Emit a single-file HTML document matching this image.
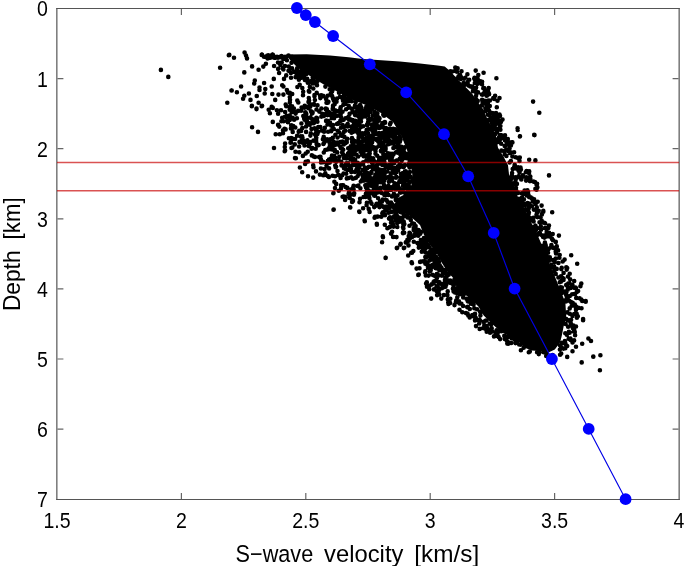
<!DOCTYPE html>
<html><head><meta charset="utf-8"><style>
html,body{margin:0;padding:0;background:#fff;width:685px;height:566px;overflow:hidden}
svg{display:block;will-change:transform}
text{font-family:"Liberation Sans",sans-serif;fill:#000}
</style></head><body>
<svg width="685" height="566" viewBox="0 0 685 566">
<g stroke="#555" fill="none">
<line x1="56.2" y1="8.5" x2="679.8" y2="8.5" stroke-width="1.1"/>
<line x1="56.2" y1="499.5" x2="679.8" y2="499.5" stroke-width="1.1"/>
<line x1="56.85" y1="8" x2="56.85" y2="500" stroke-width="1.2"/>
<line x1="679.15" y1="8" x2="679.15" y2="500" stroke-width="1.2"/>
<path d="M181.40,499 v-6 M181.40,9 v6 M305.80,499 v-6 M305.80,9 v6 M430.20,499 v-6 M430.20,9 v6 M554.60,499 v-6 M554.60,9 v6 M57.4,78.60 h6 M678.6,78.60 h-6 M57.4,148.70 h6 M678.6,148.70 h-6 M57.4,218.80 h6 M678.6,218.80 h-6 M57.4,288.90 h6 M678.6,288.90 h-6 M57.4,359.00 h6 M678.6,359.00 h-6 M57.4,429.10 h6 M678.6,429.10 h-6" stroke-width="1.2" stroke="#666"/>
</g>
<path d="M286.0,54.5 L306.7,54.2 L330.0,55.6 L348.7,57.3 L362.7,59.0 L400.0,61.5 L420.0,63.6 L437.7,65.4 L444.7,66.6 L450.0,71.0 L457.0,78.5 L465.0,86.5 L472.0,93.5 L477.5,101.6 L483.0,109.0 L487.5,119.2 L492.5,128.1 L496.0,136.0 L498.0,147.7 L503.5,156.5 L508.0,165.3 L509.2,176.0 L514.5,186.6 L518.0,197.2 L523.3,206.0 L528.6,216.6 L532.0,224.0 L535.6,230.6 L541.0,243.0 L546.3,255.3 L550.5,266.0 L555.6,278.3 L560.7,290.7 L565.4,303.1 L566.3,317.7 L563.6,326.5 L561.9,335.3 L560.1,342.4 L554.8,349.5 L549.5,352.1 L542.4,351.3 L531.8,350.4 L524.7,347.7 L517.7,340.7 L507.1,335.3 L500.0,331.0 L492.5,324.2 L483.7,315.4 L478.4,306.6 L471.3,299.5 L462.5,292.4 L457.2,281.8 L448.3,273.0 L441.3,262.0 L436.0,252.0 L430.0,245.0 L424.0,235.0 L420.0,225.0 L410.0,216.0 L400.0,211.0 L394.0,205.0 L398.0,198.0 L409.0,192.0 L413.0,180.0 L411.0,165.0 L407.0,150.0 L401.0,135.0 L393.0,122.0 L381.0,113.0 L366.0,105.0 L350.0,99.0 L338.0,92.0 L323.0,84.0 L310.0,76.0 L298.0,68.0 L290.0,60.0 Z" fill="#000"/>
<path d="M564.4,269.6a2.3,2.3 0 1,0 4.6,0a2.3,2.3 0 1,0 -4.6,0M393.4,129.4a2.3,2.3 0 1,0 4.6,0a2.3,2.3 0 1,0 -4.6,0M359.8,153.8a2.3,2.3 0 1,0 4.6,0a2.3,2.3 0 1,0 -4.6,0M352.6,149.0a2.3,2.3 0 1,0 4.6,0a2.3,2.3 0 1,0 -4.6,0M493.5,118.4a2.3,2.3 0 1,0 4.6,0a2.3,2.3 0 1,0 -4.6,0M310.6,78.2a2.3,2.3 0 1,0 4.6,0a2.3,2.3 0 1,0 -4.6,0M518.0,200.2a2.3,2.3 0 1,0 4.6,0a2.3,2.3 0 1,0 -4.6,0M534.8,352.2a2.3,2.3 0 1,0 4.6,0a2.3,2.3 0 1,0 -4.6,0M413.3,226.0a2.3,2.3 0 1,0 4.6,0a2.3,2.3 0 1,0 -4.6,0M350.6,178.7a2.3,2.3 0 1,0 4.6,0a2.3,2.3 0 1,0 -4.6,0M547.3,236.5a2.3,2.3 0 1,0 4.6,0a2.3,2.3 0 1,0 -4.6,0M382.6,146.3a2.3,2.3 0 1,0 4.6,0a2.3,2.3 0 1,0 -4.6,0M520.6,175.4a2.3,2.3 0 1,0 4.6,0a2.3,2.3 0 1,0 -4.6,0M436.0,259.6a2.3,2.3 0 1,0 4.6,0a2.3,2.3 0 1,0 -4.6,0M340.8,165.5a2.3,2.3 0 1,0 4.6,0a2.3,2.3 0 1,0 -4.6,0M345.4,124.1a2.3,2.3 0 1,0 4.6,0a2.3,2.3 0 1,0 -4.6,0M383.0,140.9a2.3,2.3 0 1,0 4.6,0a2.3,2.3 0 1,0 -4.6,0M397.1,181.5a2.3,2.3 0 1,0 4.6,0a2.3,2.3 0 1,0 -4.6,0M379.4,159.1a2.3,2.3 0 1,0 4.6,0a2.3,2.3 0 1,0 -4.6,0M380.3,181.6a2.3,2.3 0 1,0 4.6,0a2.3,2.3 0 1,0 -4.6,0M328.1,161.6a2.3,2.3 0 1,0 4.6,0a2.3,2.3 0 1,0 -4.6,0M418.5,232.5a2.3,2.3 0 1,0 4.6,0a2.3,2.3 0 1,0 -4.6,0M357.3,118.6a2.3,2.3 0 1,0 4.6,0a2.3,2.3 0 1,0 -4.6,0M496.2,120.1a2.3,2.3 0 1,0 4.6,0a2.3,2.3 0 1,0 -4.6,0M387.4,207.8a2.3,2.3 0 1,0 4.6,0a2.3,2.3 0 1,0 -4.6,0M389.1,219.7a2.3,2.3 0 1,0 4.6,0a2.3,2.3 0 1,0 -4.6,0M354.2,154.8a2.3,2.3 0 1,0 4.6,0a2.3,2.3 0 1,0 -4.6,0M454.5,293.0a2.3,2.3 0 1,0 4.6,0a2.3,2.3 0 1,0 -4.6,0M511.8,152.2a2.3,2.3 0 1,0 4.6,0a2.3,2.3 0 1,0 -4.6,0M444.6,276.1a2.3,2.3 0 1,0 4.6,0a2.3,2.3 0 1,0 -4.6,0M312.6,100.0a2.3,2.3 0 1,0 4.6,0a2.3,2.3 0 1,0 -4.6,0M491.1,129.5a2.3,2.3 0 1,0 4.6,0a2.3,2.3 0 1,0 -4.6,0M306.2,101.9a2.3,2.3 0 1,0 4.6,0a2.3,2.3 0 1,0 -4.6,0M324.5,120.8a2.3,2.3 0 1,0 4.6,0a2.3,2.3 0 1,0 -4.6,0M476.6,320.5a2.3,2.3 0 1,0 4.6,0a2.3,2.3 0 1,0 -4.6,0M561.3,278.5a2.3,2.3 0 1,0 4.6,0a2.3,2.3 0 1,0 -4.6,0M377.9,179.3a2.3,2.3 0 1,0 4.6,0a2.3,2.3 0 1,0 -4.6,0M346.2,107.7a2.3,2.3 0 1,0 4.6,0a2.3,2.3 0 1,0 -4.6,0M456.0,292.4a2.3,2.3 0 1,0 4.6,0a2.3,2.3 0 1,0 -4.6,0M289.6,68.6a2.3,2.3 0 1,0 4.6,0a2.3,2.3 0 1,0 -4.6,0M395.1,145.2a2.3,2.3 0 1,0 4.6,0a2.3,2.3 0 1,0 -4.6,0M293.2,151.7a2.3,2.3 0 1,0 4.6,0a2.3,2.3 0 1,0 -4.6,0M502.5,150.7a2.3,2.3 0 1,0 4.6,0a2.3,2.3 0 1,0 -4.6,0M461.0,294.4a2.3,2.3 0 1,0 4.6,0a2.3,2.3 0 1,0 -4.6,0M459.1,303.8a2.3,2.3 0 1,0 4.6,0a2.3,2.3 0 1,0 -4.6,0M519.7,197.8a2.3,2.3 0 1,0 4.6,0a2.3,2.3 0 1,0 -4.6,0M284.5,115.7a2.3,2.3 0 1,0 4.6,0a2.3,2.3 0 1,0 -4.6,0M563.9,285.0a2.3,2.3 0 1,0 4.6,0a2.3,2.3 0 1,0 -4.6,0M330.7,125.1a2.3,2.3 0 1,0 4.6,0a2.3,2.3 0 1,0 -4.6,0M282.2,128.7a2.3,2.3 0 1,0 4.6,0a2.3,2.3 0 1,0 -4.6,0M500.2,119.6a2.3,2.3 0 1,0 4.6,0a2.3,2.3 0 1,0 -4.6,0M429.2,267.4a2.3,2.3 0 1,0 4.6,0a2.3,2.3 0 1,0 -4.6,0M383.0,194.4a2.3,2.3 0 1,0 4.6,0a2.3,2.3 0 1,0 -4.6,0M403.8,176.6a2.3,2.3 0 1,0 4.6,0a2.3,2.3 0 1,0 -4.6,0M482.8,111.2a2.3,2.3 0 1,0 4.6,0a2.3,2.3 0 1,0 -4.6,0M386.0,138.8a2.3,2.3 0 1,0 4.6,0a2.3,2.3 0 1,0 -4.6,0M343.0,130.7a2.3,2.3 0 1,0 4.6,0a2.3,2.3 0 1,0 -4.6,0M332.4,149.8a2.3,2.3 0 1,0 4.6,0a2.3,2.3 0 1,0 -4.6,0M390.9,128.9a2.3,2.3 0 1,0 4.6,0a2.3,2.3 0 1,0 -4.6,0M387.8,160.5a2.3,2.3 0 1,0 4.6,0a2.3,2.3 0 1,0 -4.6,0M388.5,153.9a2.3,2.3 0 1,0 4.6,0a2.3,2.3 0 1,0 -4.6,0M362.8,116.5a2.3,2.3 0 1,0 4.6,0a2.3,2.3 0 1,0 -4.6,0M439.2,284.0a2.3,2.3 0 1,0 4.6,0a2.3,2.3 0 1,0 -4.6,0M347.4,197.9a2.3,2.3 0 1,0 4.6,0a2.3,2.3 0 1,0 -4.6,0M505.5,139.1a2.3,2.3 0 1,0 4.6,0a2.3,2.3 0 1,0 -4.6,0M396.6,133.0a2.3,2.3 0 1,0 4.6,0a2.3,2.3 0 1,0 -4.6,0M477.8,311.8a2.3,2.3 0 1,0 4.6,0a2.3,2.3 0 1,0 -4.6,0M367.3,211.9a2.3,2.3 0 1,0 4.6,0a2.3,2.3 0 1,0 -4.6,0M398.2,177.5a2.3,2.3 0 1,0 4.6,0a2.3,2.3 0 1,0 -4.6,0M367.2,148.5a2.3,2.3 0 1,0 4.6,0a2.3,2.3 0 1,0 -4.6,0M569.9,294.3a2.3,2.3 0 1,0 4.6,0a2.3,2.3 0 1,0 -4.6,0M513.6,168.4a2.3,2.3 0 1,0 4.6,0a2.3,2.3 0 1,0 -4.6,0M435.7,267.4a2.3,2.3 0 1,0 4.6,0a2.3,2.3 0 1,0 -4.6,0M401.4,221.5a2.3,2.3 0 1,0 4.6,0a2.3,2.3 0 1,0 -4.6,0M370.5,139.2a2.3,2.3 0 1,0 4.6,0a2.3,2.3 0 1,0 -4.6,0M385.5,130.5a2.3,2.3 0 1,0 4.6,0a2.3,2.3 0 1,0 -4.6,0M380.5,199.5a2.3,2.3 0 1,0 4.6,0a2.3,2.3 0 1,0 -4.6,0M567.1,283.0a2.3,2.3 0 1,0 4.6,0a2.3,2.3 0 1,0 -4.6,0M377.2,118.5a2.3,2.3 0 1,0 4.6,0a2.3,2.3 0 1,0 -4.6,0M400.8,185.4a2.3,2.3 0 1,0 4.6,0a2.3,2.3 0 1,0 -4.6,0M559.6,342.8a2.3,2.3 0 1,0 4.6,0a2.3,2.3 0 1,0 -4.6,0M400.2,157.8a2.3,2.3 0 1,0 4.6,0a2.3,2.3 0 1,0 -4.6,0M372.5,129.8a2.3,2.3 0 1,0 4.6,0a2.3,2.3 0 1,0 -4.6,0M363.6,185.1a2.3,2.3 0 1,0 4.6,0a2.3,2.3 0 1,0 -4.6,0M380.8,163.9a2.3,2.3 0 1,0 4.6,0a2.3,2.3 0 1,0 -4.6,0M358.0,117.7a2.3,2.3 0 1,0 4.6,0a2.3,2.3 0 1,0 -4.6,0M409.8,237.0a2.3,2.3 0 1,0 4.6,0a2.3,2.3 0 1,0 -4.6,0M537.2,222.3a2.3,2.3 0 1,0 4.6,0a2.3,2.3 0 1,0 -4.6,0M387.6,204.5a2.3,2.3 0 1,0 4.6,0a2.3,2.3 0 1,0 -4.6,0M307.5,143.7a2.3,2.3 0 1,0 4.6,0a2.3,2.3 0 1,0 -4.6,0M369.2,108.8a2.3,2.3 0 1,0 4.6,0a2.3,2.3 0 1,0 -4.6,0M371.6,188.1a2.3,2.3 0 1,0 4.6,0a2.3,2.3 0 1,0 -4.6,0M308.7,111.2a2.3,2.3 0 1,0 4.6,0a2.3,2.3 0 1,0 -4.6,0M452.3,283.7a2.3,2.3 0 1,0 4.6,0a2.3,2.3 0 1,0 -4.6,0M517.7,170.4a2.3,2.3 0 1,0 4.6,0a2.3,2.3 0 1,0 -4.6,0M390.8,224.7a2.3,2.3 0 1,0 4.6,0a2.3,2.3 0 1,0 -4.6,0M386.3,139.8a2.3,2.3 0 1,0 4.6,0a2.3,2.3 0 1,0 -4.6,0M361.2,147.1a2.3,2.3 0 1,0 4.6,0a2.3,2.3 0 1,0 -4.6,0M330.5,159.3a2.3,2.3 0 1,0 4.6,0a2.3,2.3 0 1,0 -4.6,0M491.7,336.4a2.3,2.3 0 1,0 4.6,0a2.3,2.3 0 1,0 -4.6,0M571.8,340.4a2.3,2.3 0 1,0 4.6,0a2.3,2.3 0 1,0 -4.6,0M288.2,142.7a2.3,2.3 0 1,0 4.6,0a2.3,2.3 0 1,0 -4.6,0M529.6,198.4a2.3,2.3 0 1,0 4.6,0a2.3,2.3 0 1,0 -4.6,0M371.9,131.9a2.3,2.3 0 1,0 4.6,0a2.3,2.3 0 1,0 -4.6,0M484.3,320.5a2.3,2.3 0 1,0 4.6,0a2.3,2.3 0 1,0 -4.6,0M395.2,195.5a2.3,2.3 0 1,0 4.6,0a2.3,2.3 0 1,0 -4.6,0M533.9,228.9a2.3,2.3 0 1,0 4.6,0a2.3,2.3 0 1,0 -4.6,0M332.7,176.2a2.3,2.3 0 1,0 4.6,0a2.3,2.3 0 1,0 -4.6,0M303.4,112.7a2.3,2.3 0 1,0 4.6,0a2.3,2.3 0 1,0 -4.6,0M413.1,227.1a2.3,2.3 0 1,0 4.6,0a2.3,2.3 0 1,0 -4.6,0M369.0,137.3a2.3,2.3 0 1,0 4.6,0a2.3,2.3 0 1,0 -4.6,0M472.5,79.5a2.3,2.3 0 1,0 4.6,0a2.3,2.3 0 1,0 -4.6,0M325.5,102.7a2.3,2.3 0 1,0 4.6,0a2.3,2.3 0 1,0 -4.6,0M380.8,151.0a2.3,2.3 0 1,0 4.6,0a2.3,2.3 0 1,0 -4.6,0M360.5,115.0a2.3,2.3 0 1,0 4.6,0a2.3,2.3 0 1,0 -4.6,0M374.1,192.1a2.3,2.3 0 1,0 4.6,0a2.3,2.3 0 1,0 -4.6,0M407.8,164.1a2.3,2.3 0 1,0 4.6,0a2.3,2.3 0 1,0 -4.6,0M354.1,169.7a2.3,2.3 0 1,0 4.6,0a2.3,2.3 0 1,0 -4.6,0M471.9,78.5a2.3,2.3 0 1,0 4.6,0a2.3,2.3 0 1,0 -4.6,0M339.2,165.5a2.3,2.3 0 1,0 4.6,0a2.3,2.3 0 1,0 -4.6,0M364.7,172.8a2.3,2.3 0 1,0 4.6,0a2.3,2.3 0 1,0 -4.6,0M329.7,155.5a2.3,2.3 0 1,0 4.6,0a2.3,2.3 0 1,0 -4.6,0M576.1,307.8a2.3,2.3 0 1,0 4.6,0a2.3,2.3 0 1,0 -4.6,0M331.5,129.0a2.3,2.3 0 1,0 4.6,0a2.3,2.3 0 1,0 -4.6,0M366.0,154.8a2.3,2.3 0 1,0 4.6,0a2.3,2.3 0 1,0 -4.6,0M456.1,286.0a2.3,2.3 0 1,0 4.6,0a2.3,2.3 0 1,0 -4.6,0M354.6,146.7a2.3,2.3 0 1,0 4.6,0a2.3,2.3 0 1,0 -4.6,0M460.9,297.4a2.3,2.3 0 1,0 4.6,0a2.3,2.3 0 1,0 -4.6,0M389.3,133.7a2.3,2.3 0 1,0 4.6,0a2.3,2.3 0 1,0 -4.6,0M359.7,134.6a2.3,2.3 0 1,0 4.6,0a2.3,2.3 0 1,0 -4.6,0M378.2,192.2a2.3,2.3 0 1,0 4.6,0a2.3,2.3 0 1,0 -4.6,0M546.0,228.0a2.3,2.3 0 1,0 4.6,0a2.3,2.3 0 1,0 -4.6,0M495.2,100.8a2.3,2.3 0 1,0 4.6,0a2.3,2.3 0 1,0 -4.6,0M321.9,142.8a2.3,2.3 0 1,0 4.6,0a2.3,2.3 0 1,0 -4.6,0M326.7,159.5a2.3,2.3 0 1,0 4.6,0a2.3,2.3 0 1,0 -4.6,0M518.6,350.3a2.3,2.3 0 1,0 4.6,0a2.3,2.3 0 1,0 -4.6,0M471.0,303.6a2.3,2.3 0 1,0 4.6,0a2.3,2.3 0 1,0 -4.6,0M359.7,115.3a2.3,2.3 0 1,0 4.6,0a2.3,2.3 0 1,0 -4.6,0M534.7,228.1a2.3,2.3 0 1,0 4.6,0a2.3,2.3 0 1,0 -4.6,0M381.6,136.1a2.3,2.3 0 1,0 4.6,0a2.3,2.3 0 1,0 -4.6,0M335.6,144.2a2.3,2.3 0 1,0 4.6,0a2.3,2.3 0 1,0 -4.6,0M484.4,331.8a2.3,2.3 0 1,0 4.6,0a2.3,2.3 0 1,0 -4.6,0M566.8,300.8a2.3,2.3 0 1,0 4.6,0a2.3,2.3 0 1,0 -4.6,0M557.1,257.8a2.3,2.3 0 1,0 4.6,0a2.3,2.3 0 1,0 -4.6,0M359.3,117.8a2.3,2.3 0 1,0 4.6,0a2.3,2.3 0 1,0 -4.6,0M347.4,131.0a2.3,2.3 0 1,0 4.6,0a2.3,2.3 0 1,0 -4.6,0M513.7,187.7a2.3,2.3 0 1,0 4.6,0a2.3,2.3 0 1,0 -4.6,0M435.4,286.5a2.3,2.3 0 1,0 4.6,0a2.3,2.3 0 1,0 -4.6,0M473.8,87.6a2.3,2.3 0 1,0 4.6,0a2.3,2.3 0 1,0 -4.6,0M393.8,152.3a2.3,2.3 0 1,0 4.6,0a2.3,2.3 0 1,0 -4.6,0M373.9,205.6a2.3,2.3 0 1,0 4.6,0a2.3,2.3 0 1,0 -4.6,0M393.9,147.1a2.3,2.3 0 1,0 4.6,0a2.3,2.3 0 1,0 -4.6,0M320.5,161.8a2.3,2.3 0 1,0 4.6,0a2.3,2.3 0 1,0 -4.6,0M498.1,126.0a2.3,2.3 0 1,0 4.6,0a2.3,2.3 0 1,0 -4.6,0M338.7,188.4a2.3,2.3 0 1,0 4.6,0a2.3,2.3 0 1,0 -4.6,0M513.9,340.1a2.3,2.3 0 1,0 4.6,0a2.3,2.3 0 1,0 -4.6,0M443.1,277.5a2.3,2.3 0 1,0 4.6,0a2.3,2.3 0 1,0 -4.6,0M311.6,104.6a2.3,2.3 0 1,0 4.6,0a2.3,2.3 0 1,0 -4.6,0M398.7,181.4a2.3,2.3 0 1,0 4.6,0a2.3,2.3 0 1,0 -4.6,0M308.1,135.6a2.3,2.3 0 1,0 4.6,0a2.3,2.3 0 1,0 -4.6,0M402.4,180.5a2.3,2.3 0 1,0 4.6,0a2.3,2.3 0 1,0 -4.6,0M375.6,118.2a2.3,2.3 0 1,0 4.6,0a2.3,2.3 0 1,0 -4.6,0M376.6,117.9a2.3,2.3 0 1,0 4.6,0a2.3,2.3 0 1,0 -4.6,0M543.4,245.3a2.3,2.3 0 1,0 4.6,0a2.3,2.3 0 1,0 -4.6,0M496.8,331.3a2.3,2.3 0 1,0 4.6,0a2.3,2.3 0 1,0 -4.6,0M551.4,248.0a2.3,2.3 0 1,0 4.6,0a2.3,2.3 0 1,0 -4.6,0M539.6,214.4a2.3,2.3 0 1,0 4.6,0a2.3,2.3 0 1,0 -4.6,0M334.7,124.0a2.3,2.3 0 1,0 4.6,0a2.3,2.3 0 1,0 -4.6,0M322.5,127.9a2.3,2.3 0 1,0 4.6,0a2.3,2.3 0 1,0 -4.6,0M513.1,181.8a2.3,2.3 0 1,0 4.6,0a2.3,2.3 0 1,0 -4.6,0M314.0,137.8a2.3,2.3 0 1,0 4.6,0a2.3,2.3 0 1,0 -4.6,0M301.0,140.9a2.3,2.3 0 1,0 4.6,0a2.3,2.3 0 1,0 -4.6,0M386.4,212.7a2.3,2.3 0 1,0 4.6,0a2.3,2.3 0 1,0 -4.6,0M442.0,272.1a2.3,2.3 0 1,0 4.6,0a2.3,2.3 0 1,0 -4.6,0M289.2,62.7a2.3,2.3 0 1,0 4.6,0a2.3,2.3 0 1,0 -4.6,0M496.6,121.6a2.3,2.3 0 1,0 4.6,0a2.3,2.3 0 1,0 -4.6,0M296.8,146.5a2.3,2.3 0 1,0 4.6,0a2.3,2.3 0 1,0 -4.6,0M328.5,115.1a2.3,2.3 0 1,0 4.6,0a2.3,2.3 0 1,0 -4.6,0M310.2,113.0a2.3,2.3 0 1,0 4.6,0a2.3,2.3 0 1,0 -4.6,0M335.0,115.8a2.3,2.3 0 1,0 4.6,0a2.3,2.3 0 1,0 -4.6,0M339.9,175.2a2.3,2.3 0 1,0 4.6,0a2.3,2.3 0 1,0 -4.6,0M343.3,143.1a2.3,2.3 0 1,0 4.6,0a2.3,2.3 0 1,0 -4.6,0M346.8,148.2a2.3,2.3 0 1,0 4.6,0a2.3,2.3 0 1,0 -4.6,0M381.2,182.0a2.3,2.3 0 1,0 4.6,0a2.3,2.3 0 1,0 -4.6,0M370.2,191.4a2.3,2.3 0 1,0 4.6,0a2.3,2.3 0 1,0 -4.6,0M408.0,166.9a2.3,2.3 0 1,0 4.6,0a2.3,2.3 0 1,0 -4.6,0M286.6,138.3a2.3,2.3 0 1,0 4.6,0a2.3,2.3 0 1,0 -4.6,0M559.4,267.9a2.3,2.3 0 1,0 4.6,0a2.3,2.3 0 1,0 -4.6,0M358.5,144.1a2.3,2.3 0 1,0 4.6,0a2.3,2.3 0 1,0 -4.6,0M365.1,189.0a2.3,2.3 0 1,0 4.6,0a2.3,2.3 0 1,0 -4.6,0M380.2,163.3a2.3,2.3 0 1,0 4.6,0a2.3,2.3 0 1,0 -4.6,0M353.1,141.4a2.3,2.3 0 1,0 4.6,0a2.3,2.3 0 1,0 -4.6,0M327.0,141.6a2.3,2.3 0 1,0 4.6,0a2.3,2.3 0 1,0 -4.6,0M434.5,274.1a2.3,2.3 0 1,0 4.6,0a2.3,2.3 0 1,0 -4.6,0M479.6,105.4a2.3,2.3 0 1,0 4.6,0a2.3,2.3 0 1,0 -4.6,0M370.3,131.0a2.3,2.3 0 1,0 4.6,0a2.3,2.3 0 1,0 -4.6,0M475.7,92.4a2.3,2.3 0 1,0 4.6,0a2.3,2.3 0 1,0 -4.6,0M311.7,104.1a2.3,2.3 0 1,0 4.6,0a2.3,2.3 0 1,0 -4.6,0M401.9,174.5a2.3,2.3 0 1,0 4.6,0a2.3,2.3 0 1,0 -4.6,0M312.2,96.2a2.3,2.3 0 1,0 4.6,0a2.3,2.3 0 1,0 -4.6,0M355.9,156.5a2.3,2.3 0 1,0 4.6,0a2.3,2.3 0 1,0 -4.6,0M313.4,148.8a2.3,2.3 0 1,0 4.6,0a2.3,2.3 0 1,0 -4.6,0M338.1,108.2a2.3,2.3 0 1,0 4.6,0a2.3,2.3 0 1,0 -4.6,0M481.0,88.3a2.3,2.3 0 1,0 4.6,0a2.3,2.3 0 1,0 -4.6,0M456.7,287.3a2.3,2.3 0 1,0 4.6,0a2.3,2.3 0 1,0 -4.6,0M329.8,96.0a2.3,2.3 0 1,0 4.6,0a2.3,2.3 0 1,0 -4.6,0M364.7,124.8a2.3,2.3 0 1,0 4.6,0a2.3,2.3 0 1,0 -4.6,0M330.9,117.3a2.3,2.3 0 1,0 4.6,0a2.3,2.3 0 1,0 -4.6,0M287.7,99.7a2.3,2.3 0 1,0 4.6,0a2.3,2.3 0 1,0 -4.6,0M509.5,338.2a2.3,2.3 0 1,0 4.6,0a2.3,2.3 0 1,0 -4.6,0M401.7,216.2a2.3,2.3 0 1,0 4.6,0a2.3,2.3 0 1,0 -4.6,0M369.9,137.0a2.3,2.3 0 1,0 4.6,0a2.3,2.3 0 1,0 -4.6,0M358.0,149.4a2.3,2.3 0 1,0 4.6,0a2.3,2.3 0 1,0 -4.6,0M525.3,203.0a2.3,2.3 0 1,0 4.6,0a2.3,2.3 0 1,0 -4.6,0M358.3,127.3a2.3,2.3 0 1,0 4.6,0a2.3,2.3 0 1,0 -4.6,0M365.0,150.2a2.3,2.3 0 1,0 4.6,0a2.3,2.3 0 1,0 -4.6,0M472.5,314.9a2.3,2.3 0 1,0 4.6,0a2.3,2.3 0 1,0 -4.6,0M404.7,175.9a2.3,2.3 0 1,0 4.6,0a2.3,2.3 0 1,0 -4.6,0M314.7,85.3a2.3,2.3 0 1,0 4.6,0a2.3,2.3 0 1,0 -4.6,0M407.2,225.8a2.3,2.3 0 1,0 4.6,0a2.3,2.3 0 1,0 -4.6,0M368.1,201.6a2.3,2.3 0 1,0 4.6,0a2.3,2.3 0 1,0 -4.6,0M465.6,307.5a2.3,2.3 0 1,0 4.6,0a2.3,2.3 0 1,0 -4.6,0M536.5,354.1a2.3,2.3 0 1,0 4.6,0a2.3,2.3 0 1,0 -4.6,0M398.8,221.4a2.3,2.3 0 1,0 4.6,0a2.3,2.3 0 1,0 -4.6,0M424.5,241.5a2.3,2.3 0 1,0 4.6,0a2.3,2.3 0 1,0 -4.6,0M502.2,151.7a2.3,2.3 0 1,0 4.6,0a2.3,2.3 0 1,0 -4.6,0M357.1,147.1a2.3,2.3 0 1,0 4.6,0a2.3,2.3 0 1,0 -4.6,0M559.4,290.3a2.3,2.3 0 1,0 4.6,0a2.3,2.3 0 1,0 -4.6,0M365.6,176.4a2.3,2.3 0 1,0 4.6,0a2.3,2.3 0 1,0 -4.6,0M386.0,185.8a2.3,2.3 0 1,0 4.6,0a2.3,2.3 0 1,0 -4.6,0M472.3,77.7a2.3,2.3 0 1,0 4.6,0a2.3,2.3 0 1,0 -4.6,0M434.0,261.0a2.3,2.3 0 1,0 4.6,0a2.3,2.3 0 1,0 -4.6,0M482.5,100.8a2.3,2.3 0 1,0 4.6,0a2.3,2.3 0 1,0 -4.6,0M367.6,150.5a2.3,2.3 0 1,0 4.6,0a2.3,2.3 0 1,0 -4.6,0M436.6,290.3a2.3,2.3 0 1,0 4.6,0a2.3,2.3 0 1,0 -4.6,0M563.0,333.2a2.3,2.3 0 1,0 4.6,0a2.3,2.3 0 1,0 -4.6,0M371.9,166.4a2.3,2.3 0 1,0 4.6,0a2.3,2.3 0 1,0 -4.6,0M351.4,146.6a2.3,2.3 0 1,0 4.6,0a2.3,2.3 0 1,0 -4.6,0M454.8,290.5a2.3,2.3 0 1,0 4.6,0a2.3,2.3 0 1,0 -4.6,0M480.2,101.7a2.3,2.3 0 1,0 4.6,0a2.3,2.3 0 1,0 -4.6,0M306.5,98.0a2.3,2.3 0 1,0 4.6,0a2.3,2.3 0 1,0 -4.6,0M365.8,136.5a2.3,2.3 0 1,0 4.6,0a2.3,2.3 0 1,0 -4.6,0M568.4,325.5a2.3,2.3 0 1,0 4.6,0a2.3,2.3 0 1,0 -4.6,0M426.9,267.6a2.3,2.3 0 1,0 4.6,0a2.3,2.3 0 1,0 -4.6,0M508.6,179.4a2.3,2.3 0 1,0 4.6,0a2.3,2.3 0 1,0 -4.6,0M383.2,147.4a2.3,2.3 0 1,0 4.6,0a2.3,2.3 0 1,0 -4.6,0M375.1,164.2a2.3,2.3 0 1,0 4.6,0a2.3,2.3 0 1,0 -4.6,0M400.7,165.5a2.3,2.3 0 1,0 4.6,0a2.3,2.3 0 1,0 -4.6,0M391.9,163.1a2.3,2.3 0 1,0 4.6,0a2.3,2.3 0 1,0 -4.6,0M310.0,148.3a2.3,2.3 0 1,0 4.6,0a2.3,2.3 0 1,0 -4.6,0M565.8,326.8a2.3,2.3 0 1,0 4.6,0a2.3,2.3 0 1,0 -4.6,0M564.0,345.4a2.3,2.3 0 1,0 4.6,0a2.3,2.3 0 1,0 -4.6,0M437.0,270.3a2.3,2.3 0 1,0 4.6,0a2.3,2.3 0 1,0 -4.6,0M407.3,166.3a2.3,2.3 0 1,0 4.6,0a2.3,2.3 0 1,0 -4.6,0M386.2,129.0a2.3,2.3 0 1,0 4.6,0a2.3,2.3 0 1,0 -4.6,0M489.4,328.2a2.3,2.3 0 1,0 4.6,0a2.3,2.3 0 1,0 -4.6,0M400.1,218.1a2.3,2.3 0 1,0 4.6,0a2.3,2.3 0 1,0 -4.6,0M544.5,248.0a2.3,2.3 0 1,0 4.6,0a2.3,2.3 0 1,0 -4.6,0M318.4,97.5a2.3,2.3 0 1,0 4.6,0a2.3,2.3 0 1,0 -4.6,0M411.5,241.7a2.3,2.3 0 1,0 4.6,0a2.3,2.3 0 1,0 -4.6,0M321.5,152.5a2.3,2.3 0 1,0 4.6,0a2.3,2.3 0 1,0 -4.6,0M285.6,122.3a2.3,2.3 0 1,0 4.6,0a2.3,2.3 0 1,0 -4.6,0M395.6,166.3a2.3,2.3 0 1,0 4.6,0a2.3,2.3 0 1,0 -4.6,0M340.6,135.9a2.3,2.3 0 1,0 4.6,0a2.3,2.3 0 1,0 -4.6,0M570.1,284.8a2.3,2.3 0 1,0 4.6,0a2.3,2.3 0 1,0 -4.6,0M379.2,125.1a2.3,2.3 0 1,0 4.6,0a2.3,2.3 0 1,0 -4.6,0M342.8,101.5a2.3,2.3 0 1,0 4.6,0a2.3,2.3 0 1,0 -4.6,0M363.3,108.9a2.3,2.3 0 1,0 4.6,0a2.3,2.3 0 1,0 -4.6,0M323.6,109.6a2.3,2.3 0 1,0 4.6,0a2.3,2.3 0 1,0 -4.6,0M375.5,117.4a2.3,2.3 0 1,0 4.6,0a2.3,2.3 0 1,0 -4.6,0M301.9,118.8a2.3,2.3 0 1,0 4.6,0a2.3,2.3 0 1,0 -4.6,0M510.4,169.1a2.3,2.3 0 1,0 4.6,0a2.3,2.3 0 1,0 -4.6,0M514.1,191.0a2.3,2.3 0 1,0 4.6,0a2.3,2.3 0 1,0 -4.6,0M469.3,301.5a2.3,2.3 0 1,0 4.6,0a2.3,2.3 0 1,0 -4.6,0M388.5,212.0a2.3,2.3 0 1,0 4.6,0a2.3,2.3 0 1,0 -4.6,0M378.0,182.3a2.3,2.3 0 1,0 4.6,0a2.3,2.3 0 1,0 -4.6,0M534.2,189.7a2.3,2.3 0 1,0 4.6,0a2.3,2.3 0 1,0 -4.6,0M295.8,110.9a2.3,2.3 0 1,0 4.6,0a2.3,2.3 0 1,0 -4.6,0M396.4,167.4a2.3,2.3 0 1,0 4.6,0a2.3,2.3 0 1,0 -4.6,0M557.7,345.3a2.3,2.3 0 1,0 4.6,0a2.3,2.3 0 1,0 -4.6,0M502.7,135.4a2.3,2.3 0 1,0 4.6,0a2.3,2.3 0 1,0 -4.6,0M519.2,202.0a2.3,2.3 0 1,0 4.6,0a2.3,2.3 0 1,0 -4.6,0M355.3,162.7a2.3,2.3 0 1,0 4.6,0a2.3,2.3 0 1,0 -4.6,0M421.9,238.2a2.3,2.3 0 1,0 4.6,0a2.3,2.3 0 1,0 -4.6,0M354.8,167.7a2.3,2.3 0 1,0 4.6,0a2.3,2.3 0 1,0 -4.6,0M379.1,175.8a2.3,2.3 0 1,0 4.6,0a2.3,2.3 0 1,0 -4.6,0M392.7,130.3a2.3,2.3 0 1,0 4.6,0a2.3,2.3 0 1,0 -4.6,0M306.5,91.1a2.3,2.3 0 1,0 4.6,0a2.3,2.3 0 1,0 -4.6,0M313.9,120.6a2.3,2.3 0 1,0 4.6,0a2.3,2.3 0 1,0 -4.6,0M320.3,115.8a2.3,2.3 0 1,0 4.6,0a2.3,2.3 0 1,0 -4.6,0M321.0,162.1a2.3,2.3 0 1,0 4.6,0a2.3,2.3 0 1,0 -4.6,0M533.1,188.9a2.3,2.3 0 1,0 4.6,0a2.3,2.3 0 1,0 -4.6,0M358.8,163.7a2.3,2.3 0 1,0 4.6,0a2.3,2.3 0 1,0 -4.6,0M502.6,140.2a2.3,2.3 0 1,0 4.6,0a2.3,2.3 0 1,0 -4.6,0M366.9,129.4a2.3,2.3 0 1,0 4.6,0a2.3,2.3 0 1,0 -4.6,0M360.2,148.2a2.3,2.3 0 1,0 4.6,0a2.3,2.3 0 1,0 -4.6,0M350.4,132.0a2.3,2.3 0 1,0 4.6,0a2.3,2.3 0 1,0 -4.6,0M537.5,232.8a2.3,2.3 0 1,0 4.6,0a2.3,2.3 0 1,0 -4.6,0M330.7,105.9a2.3,2.3 0 1,0 4.6,0a2.3,2.3 0 1,0 -4.6,0M356.6,174.1a2.3,2.3 0 1,0 4.6,0a2.3,2.3 0 1,0 -4.6,0M551.7,268.3a2.3,2.3 0 1,0 4.6,0a2.3,2.3 0 1,0 -4.6,0M349.9,130.1a2.3,2.3 0 1,0 4.6,0a2.3,2.3 0 1,0 -4.6,0M542.7,228.1a2.3,2.3 0 1,0 4.6,0a2.3,2.3 0 1,0 -4.6,0M535.2,217.1a2.3,2.3 0 1,0 4.6,0a2.3,2.3 0 1,0 -4.6,0M415.2,243.1a2.3,2.3 0 1,0 4.6,0a2.3,2.3 0 1,0 -4.6,0M360.0,152.9a2.3,2.3 0 1,0 4.6,0a2.3,2.3 0 1,0 -4.6,0M376.6,163.4a2.3,2.3 0 1,0 4.6,0a2.3,2.3 0 1,0 -4.6,0M389.2,133.5a2.3,2.3 0 1,0 4.6,0a2.3,2.3 0 1,0 -4.6,0M360.7,164.5a2.3,2.3 0 1,0 4.6,0a2.3,2.3 0 1,0 -4.6,0M574.4,313.9a2.3,2.3 0 1,0 4.6,0a2.3,2.3 0 1,0 -4.6,0M393.8,189.5a2.3,2.3 0 1,0 4.6,0a2.3,2.3 0 1,0 -4.6,0M486.8,110.8a2.3,2.3 0 1,0 4.6,0a2.3,2.3 0 1,0 -4.6,0M444.2,280.4a2.3,2.3 0 1,0 4.6,0a2.3,2.3 0 1,0 -4.6,0M516.7,198.8a2.3,2.3 0 1,0 4.6,0a2.3,2.3 0 1,0 -4.6,0M305.4,151.8a2.3,2.3 0 1,0 4.6,0a2.3,2.3 0 1,0 -4.6,0M508.9,343.0a2.3,2.3 0 1,0 4.6,0a2.3,2.3 0 1,0 -4.6,0M520.1,193.3a2.3,2.3 0 1,0 4.6,0a2.3,2.3 0 1,0 -4.6,0M322.9,140.4a2.3,2.3 0 1,0 4.6,0a2.3,2.3 0 1,0 -4.6,0M346.4,105.7a2.3,2.3 0 1,0 4.6,0a2.3,2.3 0 1,0 -4.6,0M427.9,252.0a2.3,2.3 0 1,0 4.6,0a2.3,2.3 0 1,0 -4.6,0M362.2,172.8a2.3,2.3 0 1,0 4.6,0a2.3,2.3 0 1,0 -4.6,0M382.4,173.3a2.3,2.3 0 1,0 4.6,0a2.3,2.3 0 1,0 -4.6,0M513.1,177.4a2.3,2.3 0 1,0 4.6,0a2.3,2.3 0 1,0 -4.6,0M402.1,182.8a2.3,2.3 0 1,0 4.6,0a2.3,2.3 0 1,0 -4.6,0M398.2,155.1a2.3,2.3 0 1,0 4.6,0a2.3,2.3 0 1,0 -4.6,0M390.8,236.9a2.3,2.3 0 1,0 4.6,0a2.3,2.3 0 1,0 -4.6,0M367.2,136.2a2.3,2.3 0 1,0 4.6,0a2.3,2.3 0 1,0 -4.6,0M319.1,95.4a2.3,2.3 0 1,0 4.6,0a2.3,2.3 0 1,0 -4.6,0M486.6,119.9a2.3,2.3 0 1,0 4.6,0a2.3,2.3 0 1,0 -4.6,0M319.1,116.6a2.3,2.3 0 1,0 4.6,0a2.3,2.3 0 1,0 -4.6,0M338.0,120.9a2.3,2.3 0 1,0 4.6,0a2.3,2.3 0 1,0 -4.6,0M523.8,209.2a2.3,2.3 0 1,0 4.6,0a2.3,2.3 0 1,0 -4.6,0M397.4,167.2a2.3,2.3 0 1,0 4.6,0a2.3,2.3 0 1,0 -4.6,0M399.2,159.6a2.3,2.3 0 1,0 4.6,0a2.3,2.3 0 1,0 -4.6,0M292.5,144.4a2.3,2.3 0 1,0 4.6,0a2.3,2.3 0 1,0 -4.6,0M399.4,218.1a2.3,2.3 0 1,0 4.6,0a2.3,2.3 0 1,0 -4.6,0M525.8,191.8a2.3,2.3 0 1,0 4.6,0a2.3,2.3 0 1,0 -4.6,0M402.5,153.4a2.3,2.3 0 1,0 4.6,0a2.3,2.3 0 1,0 -4.6,0M344.4,142.2a2.3,2.3 0 1,0 4.6,0a2.3,2.3 0 1,0 -4.6,0M314.0,133.5a2.3,2.3 0 1,0 4.6,0a2.3,2.3 0 1,0 -4.6,0M370.3,166.3a2.3,2.3 0 1,0 4.6,0a2.3,2.3 0 1,0 -4.6,0M448.1,71.4a2.3,2.3 0 1,0 4.6,0a2.3,2.3 0 1,0 -4.6,0M366.5,180.2a2.3,2.3 0 1,0 4.6,0a2.3,2.3 0 1,0 -4.6,0M352.9,107.3a2.3,2.3 0 1,0 4.6,0a2.3,2.3 0 1,0 -4.6,0M376.6,161.1a2.3,2.3 0 1,0 4.6,0a2.3,2.3 0 1,0 -4.6,0M488.7,117.3a2.3,2.3 0 1,0 4.6,0a2.3,2.3 0 1,0 -4.6,0M309.6,113.6a2.3,2.3 0 1,0 4.6,0a2.3,2.3 0 1,0 -4.6,0M453.9,300.5a2.3,2.3 0 1,0 4.6,0a2.3,2.3 0 1,0 -4.6,0M495.3,333.8a2.3,2.3 0 1,0 4.6,0a2.3,2.3 0 1,0 -4.6,0M525.3,203.8a2.3,2.3 0 1,0 4.6,0a2.3,2.3 0 1,0 -4.6,0M363.1,155.9a2.3,2.3 0 1,0 4.6,0a2.3,2.3 0 1,0 -4.6,0M443.8,285.0a2.3,2.3 0 1,0 4.6,0a2.3,2.3 0 1,0 -4.6,0M523.5,209.3a2.3,2.3 0 1,0 4.6,0a2.3,2.3 0 1,0 -4.6,0M299.3,107.6a2.3,2.3 0 1,0 4.6,0a2.3,2.3 0 1,0 -4.6,0M358.6,117.9a2.3,2.3 0 1,0 4.6,0a2.3,2.3 0 1,0 -4.6,0M500.2,138.0a2.3,2.3 0 1,0 4.6,0a2.3,2.3 0 1,0 -4.6,0M558.9,353.6a2.3,2.3 0 1,0 4.6,0a2.3,2.3 0 1,0 -4.6,0M567.4,308.4a2.3,2.3 0 1,0 4.6,0a2.3,2.3 0 1,0 -4.6,0M509.2,176.0a2.3,2.3 0 1,0 4.6,0a2.3,2.3 0 1,0 -4.6,0M402.0,178.9a2.3,2.3 0 1,0 4.6,0a2.3,2.3 0 1,0 -4.6,0M356.2,124.8a2.3,2.3 0 1,0 4.6,0a2.3,2.3 0 1,0 -4.6,0M343.4,169.0a2.3,2.3 0 1,0 4.6,0a2.3,2.3 0 1,0 -4.6,0M325.9,111.8a2.3,2.3 0 1,0 4.6,0a2.3,2.3 0 1,0 -4.6,0M315.1,133.9a2.3,2.3 0 1,0 4.6,0a2.3,2.3 0 1,0 -4.6,0M407.2,232.9a2.3,2.3 0 1,0 4.6,0a2.3,2.3 0 1,0 -4.6,0M554.5,246.4a2.3,2.3 0 1,0 4.6,0a2.3,2.3 0 1,0 -4.6,0M567.3,332.8a2.3,2.3 0 1,0 4.6,0a2.3,2.3 0 1,0 -4.6,0M312.2,95.0a2.3,2.3 0 1,0 4.6,0a2.3,2.3 0 1,0 -4.6,0M379.5,193.0a2.3,2.3 0 1,0 4.6,0a2.3,2.3 0 1,0 -4.6,0M377.1,137.9a2.3,2.3 0 1,0 4.6,0a2.3,2.3 0 1,0 -4.6,0M375.5,116.7a2.3,2.3 0 1,0 4.6,0a2.3,2.3 0 1,0 -4.6,0M314.9,118.2a2.3,2.3 0 1,0 4.6,0a2.3,2.3 0 1,0 -4.6,0M538.3,217.2a2.3,2.3 0 1,0 4.6,0a2.3,2.3 0 1,0 -4.6,0M465.4,300.9a2.3,2.3 0 1,0 4.6,0a2.3,2.3 0 1,0 -4.6,0M562.7,300.4a2.3,2.3 0 1,0 4.6,0a2.3,2.3 0 1,0 -4.6,0M393.7,177.8a2.3,2.3 0 1,0 4.6,0a2.3,2.3 0 1,0 -4.6,0M387.2,132.5a2.3,2.3 0 1,0 4.6,0a2.3,2.3 0 1,0 -4.6,0M574.6,292.0a2.3,2.3 0 1,0 4.6,0a2.3,2.3 0 1,0 -4.6,0M319.8,130.6a2.3,2.3 0 1,0 4.6,0a2.3,2.3 0 1,0 -4.6,0M381.1,154.6a2.3,2.3 0 1,0 4.6,0a2.3,2.3 0 1,0 -4.6,0M456.0,289.3a2.3,2.3 0 1,0 4.6,0a2.3,2.3 0 1,0 -4.6,0M412.8,233.6a2.3,2.3 0 1,0 4.6,0a2.3,2.3 0 1,0 -4.6,0M369.2,136.4a2.3,2.3 0 1,0 4.6,0a2.3,2.3 0 1,0 -4.6,0M392.3,208.4a2.3,2.3 0 1,0 4.6,0a2.3,2.3 0 1,0 -4.6,0M352.8,161.8a2.3,2.3 0 1,0 4.6,0a2.3,2.3 0 1,0 -4.6,0M484.4,326.4a2.3,2.3 0 1,0 4.6,0a2.3,2.3 0 1,0 -4.6,0M472.7,320.4a2.3,2.3 0 1,0 4.6,0a2.3,2.3 0 1,0 -4.6,0M411.4,230.0a2.3,2.3 0 1,0 4.6,0a2.3,2.3 0 1,0 -4.6,0M369.4,125.0a2.3,2.3 0 1,0 4.6,0a2.3,2.3 0 1,0 -4.6,0M338.6,116.9a2.3,2.3 0 1,0 4.6,0a2.3,2.3 0 1,0 -4.6,0M423.1,239.5a2.3,2.3 0 1,0 4.6,0a2.3,2.3 0 1,0 -4.6,0M371.4,184.7a2.3,2.3 0 1,0 4.6,0a2.3,2.3 0 1,0 -4.6,0M353.4,127.9a2.3,2.3 0 1,0 4.6,0a2.3,2.3 0 1,0 -4.6,0M299.1,123.5a2.3,2.3 0 1,0 4.6,0a2.3,2.3 0 1,0 -4.6,0M380.1,165.0a2.3,2.3 0 1,0 4.6,0a2.3,2.3 0 1,0 -4.6,0M346.4,178.0a2.3,2.3 0 1,0 4.6,0a2.3,2.3 0 1,0 -4.6,0M443.0,270.4a2.3,2.3 0 1,0 4.6,0a2.3,2.3 0 1,0 -4.6,0M534.2,214.7a2.3,2.3 0 1,0 4.6,0a2.3,2.3 0 1,0 -4.6,0M437.4,266.5a2.3,2.3 0 1,0 4.6,0a2.3,2.3 0 1,0 -4.6,0M307.5,124.7a2.3,2.3 0 1,0 4.6,0a2.3,2.3 0 1,0 -4.6,0M466.0,315.5a2.3,2.3 0 1,0 4.6,0a2.3,2.3 0 1,0 -4.6,0M392.4,183.3a2.3,2.3 0 1,0 4.6,0a2.3,2.3 0 1,0 -4.6,0M268.0,57.8a2.3,2.3 0 1,0 4.6,0a2.3,2.3 0 1,0 -4.6,0M315.1,121.7a2.3,2.3 0 1,0 4.6,0a2.3,2.3 0 1,0 -4.6,0M348.9,148.1a2.3,2.3 0 1,0 4.6,0a2.3,2.3 0 1,0 -4.6,0M398.2,211.5a2.3,2.3 0 1,0 4.6,0a2.3,2.3 0 1,0 -4.6,0M482.0,325.2a2.3,2.3 0 1,0 4.6,0a2.3,2.3 0 1,0 -4.6,0M366.8,183.9a2.3,2.3 0 1,0 4.6,0a2.3,2.3 0 1,0 -4.6,0M422.2,240.3a2.3,2.3 0 1,0 4.6,0a2.3,2.3 0 1,0 -4.6,0M400.0,173.2a2.3,2.3 0 1,0 4.6,0a2.3,2.3 0 1,0 -4.6,0M390.8,135.8a2.3,2.3 0 1,0 4.6,0a2.3,2.3 0 1,0 -4.6,0M365.9,133.7a2.3,2.3 0 1,0 4.6,0a2.3,2.3 0 1,0 -4.6,0M389.7,180.6a2.3,2.3 0 1,0 4.6,0a2.3,2.3 0 1,0 -4.6,0M373.2,153.7a2.3,2.3 0 1,0 4.6,0a2.3,2.3 0 1,0 -4.6,0M383.6,193.1a2.3,2.3 0 1,0 4.6,0a2.3,2.3 0 1,0 -4.6,0M364.7,137.4a2.3,2.3 0 1,0 4.6,0a2.3,2.3 0 1,0 -4.6,0M548.6,247.5a2.3,2.3 0 1,0 4.6,0a2.3,2.3 0 1,0 -4.6,0M358.1,188.3a2.3,2.3 0 1,0 4.6,0a2.3,2.3 0 1,0 -4.6,0M494.5,132.5a2.3,2.3 0 1,0 4.6,0a2.3,2.3 0 1,0 -4.6,0M452.6,283.4a2.3,2.3 0 1,0 4.6,0a2.3,2.3 0 1,0 -4.6,0M320.8,95.9a2.3,2.3 0 1,0 4.6,0a2.3,2.3 0 1,0 -4.6,0M387.4,143.2a2.3,2.3 0 1,0 4.6,0a2.3,2.3 0 1,0 -4.6,0M356.3,137.9a2.3,2.3 0 1,0 4.6,0a2.3,2.3 0 1,0 -4.6,0M321.8,131.8a2.3,2.3 0 1,0 4.6,0a2.3,2.3 0 1,0 -4.6,0M397.1,147.8a2.3,2.3 0 1,0 4.6,0a2.3,2.3 0 1,0 -4.6,0M365.4,180.8a2.3,2.3 0 1,0 4.6,0a2.3,2.3 0 1,0 -4.6,0M452.9,70.9a2.3,2.3 0 1,0 4.6,0a2.3,2.3 0 1,0 -4.6,0M495.3,142.1a2.3,2.3 0 1,0 4.6,0a2.3,2.3 0 1,0 -4.6,0M391.8,216.3a2.3,2.3 0 1,0 4.6,0a2.3,2.3 0 1,0 -4.6,0M423.2,248.6a2.3,2.3 0 1,0 4.6,0a2.3,2.3 0 1,0 -4.6,0M381.6,207.2a2.3,2.3 0 1,0 4.6,0a2.3,2.3 0 1,0 -4.6,0M502.0,335.9a2.3,2.3 0 1,0 4.6,0a2.3,2.3 0 1,0 -4.6,0M340.2,141.5a2.3,2.3 0 1,0 4.6,0a2.3,2.3 0 1,0 -4.6,0M382.3,214.6a2.3,2.3 0 1,0 4.6,0a2.3,2.3 0 1,0 -4.6,0M314.3,129.4a2.3,2.3 0 1,0 4.6,0a2.3,2.3 0 1,0 -4.6,0M364.8,141.7a2.3,2.3 0 1,0 4.6,0a2.3,2.3 0 1,0 -4.6,0M301.2,73.5a2.3,2.3 0 1,0 4.6,0a2.3,2.3 0 1,0 -4.6,0M370.5,130.5a2.3,2.3 0 1,0 4.6,0a2.3,2.3 0 1,0 -4.6,0M326.5,148.4a2.3,2.3 0 1,0 4.6,0a2.3,2.3 0 1,0 -4.6,0M405.5,192.0a2.3,2.3 0 1,0 4.6,0a2.3,2.3 0 1,0 -4.6,0M456.2,76.4a2.3,2.3 0 1,0 4.6,0a2.3,2.3 0 1,0 -4.6,0M346.5,100.9a2.3,2.3 0 1,0 4.6,0a2.3,2.3 0 1,0 -4.6,0M407.7,217.8a2.3,2.3 0 1,0 4.6,0a2.3,2.3 0 1,0 -4.6,0M406.5,186.3a2.3,2.3 0 1,0 4.6,0a2.3,2.3 0 1,0 -4.6,0M353.6,121.7a2.3,2.3 0 1,0 4.6,0a2.3,2.3 0 1,0 -4.6,0M339.8,152.5a2.3,2.3 0 1,0 4.6,0a2.3,2.3 0 1,0 -4.6,0M325.9,121.1a2.3,2.3 0 1,0 4.6,0a2.3,2.3 0 1,0 -4.6,0M439.6,275.6a2.3,2.3 0 1,0 4.6,0a2.3,2.3 0 1,0 -4.6,0M323.6,98.6a2.3,2.3 0 1,0 4.6,0a2.3,2.3 0 1,0 -4.6,0M356.0,142.9a2.3,2.3 0 1,0 4.6,0a2.3,2.3 0 1,0 -4.6,0M366.2,192.1a2.3,2.3 0 1,0 4.6,0a2.3,2.3 0 1,0 -4.6,0M470.6,91.2a2.3,2.3 0 1,0 4.6,0a2.3,2.3 0 1,0 -4.6,0M460.0,312.3a2.3,2.3 0 1,0 4.6,0a2.3,2.3 0 1,0 -4.6,0M375.6,172.6a2.3,2.3 0 1,0 4.6,0a2.3,2.3 0 1,0 -4.6,0M559.0,269.1a2.3,2.3 0 1,0 4.6,0a2.3,2.3 0 1,0 -4.6,0M559.5,293.1a2.3,2.3 0 1,0 4.6,0a2.3,2.3 0 1,0 -4.6,0M310.9,165.2a2.3,2.3 0 1,0 4.6,0a2.3,2.3 0 1,0 -4.6,0M384.9,129.9a2.3,2.3 0 1,0 4.6,0a2.3,2.3 0 1,0 -4.6,0M371.4,131.1a2.3,2.3 0 1,0 4.6,0a2.3,2.3 0 1,0 -4.6,0M353.0,146.6a2.3,2.3 0 1,0 4.6,0a2.3,2.3 0 1,0 -4.6,0M506.2,343.6a2.3,2.3 0 1,0 4.6,0a2.3,2.3 0 1,0 -4.6,0M347.4,99.1a2.3,2.3 0 1,0 4.6,0a2.3,2.3 0 1,0 -4.6,0M356.1,170.2a2.3,2.3 0 1,0 4.6,0a2.3,2.3 0 1,0 -4.6,0M332.5,151.3a2.3,2.3 0 1,0 4.6,0a2.3,2.3 0 1,0 -4.6,0M324.2,102.7a2.3,2.3 0 1,0 4.6,0a2.3,2.3 0 1,0 -4.6,0M447.9,280.5a2.3,2.3 0 1,0 4.6,0a2.3,2.3 0 1,0 -4.6,0M346.9,197.4a2.3,2.3 0 1,0 4.6,0a2.3,2.3 0 1,0 -4.6,0M373.8,147.9a2.3,2.3 0 1,0 4.6,0a2.3,2.3 0 1,0 -4.6,0M435.9,282.0a2.3,2.3 0 1,0 4.6,0a2.3,2.3 0 1,0 -4.6,0M555.8,250.4a2.3,2.3 0 1,0 4.6,0a2.3,2.3 0 1,0 -4.6,0M367.1,144.6a2.3,2.3 0 1,0 4.6,0a2.3,2.3 0 1,0 -4.6,0M356.7,141.2a2.3,2.3 0 1,0 4.6,0a2.3,2.3 0 1,0 -4.6,0M451.3,291.5a2.3,2.3 0 1,0 4.6,0a2.3,2.3 0 1,0 -4.6,0M352.6,171.9a2.3,2.3 0 1,0 4.6,0a2.3,2.3 0 1,0 -4.6,0M398.0,140.0a2.3,2.3 0 1,0 4.6,0a2.3,2.3 0 1,0 -4.6,0M325.1,114.3a2.3,2.3 0 1,0 4.6,0a2.3,2.3 0 1,0 -4.6,0M370.0,186.2a2.3,2.3 0 1,0 4.6,0a2.3,2.3 0 1,0 -4.6,0M400.1,159.5a2.3,2.3 0 1,0 4.6,0a2.3,2.3 0 1,0 -4.6,0M363.8,114.7a2.3,2.3 0 1,0 4.6,0a2.3,2.3 0 1,0 -4.6,0M497.7,115.7a2.3,2.3 0 1,0 4.6,0a2.3,2.3 0 1,0 -4.6,0M508.3,152.2a2.3,2.3 0 1,0 4.6,0a2.3,2.3 0 1,0 -4.6,0M325.8,131.8a2.3,2.3 0 1,0 4.6,0a2.3,2.3 0 1,0 -4.6,0M329.8,149.4a2.3,2.3 0 1,0 4.6,0a2.3,2.3 0 1,0 -4.6,0M355.4,176.1a2.3,2.3 0 1,0 4.6,0a2.3,2.3 0 1,0 -4.6,0M384.6,177.6a2.3,2.3 0 1,0 4.6,0a2.3,2.3 0 1,0 -4.6,0M392.8,216.5a2.3,2.3 0 1,0 4.6,0a2.3,2.3 0 1,0 -4.6,0M349.3,126.6a2.3,2.3 0 1,0 4.6,0a2.3,2.3 0 1,0 -4.6,0M318.7,162.5a2.3,2.3 0 1,0 4.6,0a2.3,2.3 0 1,0 -4.6,0M499.1,135.2a2.3,2.3 0 1,0 4.6,0a2.3,2.3 0 1,0 -4.6,0M382.1,188.0a2.3,2.3 0 1,0 4.6,0a2.3,2.3 0 1,0 -4.6,0M425.6,244.9a2.3,2.3 0 1,0 4.6,0a2.3,2.3 0 1,0 -4.6,0M366.0,106.9a2.3,2.3 0 1,0 4.6,0a2.3,2.3 0 1,0 -4.6,0M401.4,149.6a2.3,2.3 0 1,0 4.6,0a2.3,2.3 0 1,0 -4.6,0M300.0,128.1a2.3,2.3 0 1,0 4.6,0a2.3,2.3 0 1,0 -4.6,0M507.7,152.9a2.3,2.3 0 1,0 4.6,0a2.3,2.3 0 1,0 -4.6,0M396.1,131.0a2.3,2.3 0 1,0 4.6,0a2.3,2.3 0 1,0 -4.6,0M531.2,181.6a2.3,2.3 0 1,0 4.6,0a2.3,2.3 0 1,0 -4.6,0M363.8,110.2a2.3,2.3 0 1,0 4.6,0a2.3,2.3 0 1,0 -4.6,0M572.5,304.5a2.3,2.3 0 1,0 4.6,0a2.3,2.3 0 1,0 -4.6,0M352.1,151.8a2.3,2.3 0 1,0 4.6,0a2.3,2.3 0 1,0 -4.6,0M297.0,152.3a2.3,2.3 0 1,0 4.6,0a2.3,2.3 0 1,0 -4.6,0M529.6,206.3a2.3,2.3 0 1,0 4.6,0a2.3,2.3 0 1,0 -4.6,0M348.2,159.5a2.3,2.3 0 1,0 4.6,0a2.3,2.3 0 1,0 -4.6,0M466.6,85.8a2.3,2.3 0 1,0 4.6,0a2.3,2.3 0 1,0 -4.6,0M291.8,119.7a2.3,2.3 0 1,0 4.6,0a2.3,2.3 0 1,0 -4.6,0M334.2,161.6a2.3,2.3 0 1,0 4.6,0a2.3,2.3 0 1,0 -4.6,0M345.9,148.2a2.3,2.3 0 1,0 4.6,0a2.3,2.3 0 1,0 -4.6,0M324.5,163.1a2.3,2.3 0 1,0 4.6,0a2.3,2.3 0 1,0 -4.6,0M377.0,127.9a2.3,2.3 0 1,0 4.6,0a2.3,2.3 0 1,0 -4.6,0M415.2,235.3a2.3,2.3 0 1,0 4.6,0a2.3,2.3 0 1,0 -4.6,0M432.0,263.6a2.3,2.3 0 1,0 4.6,0a2.3,2.3 0 1,0 -4.6,0M301.1,74.0a2.3,2.3 0 1,0 4.6,0a2.3,2.3 0 1,0 -4.6,0M294.6,118.3a2.3,2.3 0 1,0 4.6,0a2.3,2.3 0 1,0 -4.6,0M296.6,79.7a2.3,2.3 0 1,0 4.6,0a2.3,2.3 0 1,0 -4.6,0M453.2,280.7a2.3,2.3 0 1,0 4.6,0a2.3,2.3 0 1,0 -4.6,0M279.4,62.6a2.3,2.3 0 1,0 4.6,0a2.3,2.3 0 1,0 -4.6,0M497.8,339.1a2.3,2.3 0 1,0 4.6,0a2.3,2.3 0 1,0 -4.6,0M472.0,308.2a2.3,2.3 0 1,0 4.6,0a2.3,2.3 0 1,0 -4.6,0M358.1,135.9a2.3,2.3 0 1,0 4.6,0a2.3,2.3 0 1,0 -4.6,0M344.6,125.2a2.3,2.3 0 1,0 4.6,0a2.3,2.3 0 1,0 -4.6,0M338.7,127.8a2.3,2.3 0 1,0 4.6,0a2.3,2.3 0 1,0 -4.6,0M336.1,144.6a2.3,2.3 0 1,0 4.6,0a2.3,2.3 0 1,0 -4.6,0M565.4,286.9a2.3,2.3 0 1,0 4.6,0a2.3,2.3 0 1,0 -4.6,0M361.6,180.6a2.3,2.3 0 1,0 4.6,0a2.3,2.3 0 1,0 -4.6,0M332.7,188.1a2.3,2.3 0 1,0 4.6,0a2.3,2.3 0 1,0 -4.6,0M332.3,104.3a2.3,2.3 0 1,0 4.6,0a2.3,2.3 0 1,0 -4.6,0M298.8,130.9a2.3,2.3 0 1,0 4.6,0a2.3,2.3 0 1,0 -4.6,0M573.9,297.9a2.3,2.3 0 1,0 4.6,0a2.3,2.3 0 1,0 -4.6,0M518.0,169.2a2.3,2.3 0 1,0 4.6,0a2.3,2.3 0 1,0 -4.6,0M382.9,178.1a2.3,2.3 0 1,0 4.6,0a2.3,2.3 0 1,0 -4.6,0M564.1,292.3a2.3,2.3 0 1,0 4.6,0a2.3,2.3 0 1,0 -4.6,0M384.7,189.4a2.3,2.3 0 1,0 4.6,0a2.3,2.3 0 1,0 -4.6,0M385.7,153.2a2.3,2.3 0 1,0 4.6,0a2.3,2.3 0 1,0 -4.6,0M360.4,153.7a2.3,2.3 0 1,0 4.6,0a2.3,2.3 0 1,0 -4.6,0M504.5,142.5a2.3,2.3 0 1,0 4.6,0a2.3,2.3 0 1,0 -4.6,0M397.8,180.6a2.3,2.3 0 1,0 4.6,0a2.3,2.3 0 1,0 -4.6,0M348.2,149.2a2.3,2.3 0 1,0 4.6,0a2.3,2.3 0 1,0 -4.6,0M293.3,77.1a2.3,2.3 0 1,0 4.6,0a2.3,2.3 0 1,0 -4.6,0M423.0,238.5a2.3,2.3 0 1,0 4.6,0a2.3,2.3 0 1,0 -4.6,0M550.3,267.5a2.3,2.3 0 1,0 4.6,0a2.3,2.3 0 1,0 -4.6,0M373.7,174.5a2.3,2.3 0 1,0 4.6,0a2.3,2.3 0 1,0 -4.6,0M380.1,144.2a2.3,2.3 0 1,0 4.6,0a2.3,2.3 0 1,0 -4.6,0M373.8,178.0a2.3,2.3 0 1,0 4.6,0a2.3,2.3 0 1,0 -4.6,0M519.6,202.5a2.3,2.3 0 1,0 4.6,0a2.3,2.3 0 1,0 -4.6,0M352.9,164.9a2.3,2.3 0 1,0 4.6,0a2.3,2.3 0 1,0 -4.6,0M434.4,262.8a2.3,2.3 0 1,0 4.6,0a2.3,2.3 0 1,0 -4.6,0M521.4,347.7a2.3,2.3 0 1,0 4.6,0a2.3,2.3 0 1,0 -4.6,0M397.8,137.8a2.3,2.3 0 1,0 4.6,0a2.3,2.3 0 1,0 -4.6,0M550.5,240.1a2.3,2.3 0 1,0 4.6,0a2.3,2.3 0 1,0 -4.6,0M445.5,299.4a2.3,2.3 0 1,0 4.6,0a2.3,2.3 0 1,0 -4.6,0M437.2,282.4a2.3,2.3 0 1,0 4.6,0a2.3,2.3 0 1,0 -4.6,0M427.4,252.0a2.3,2.3 0 1,0 4.6,0a2.3,2.3 0 1,0 -4.6,0M482.9,90.2a2.3,2.3 0 1,0 4.6,0a2.3,2.3 0 1,0 -4.6,0M344.6,139.1a2.3,2.3 0 1,0 4.6,0a2.3,2.3 0 1,0 -4.6,0M477.4,328.9a2.3,2.3 0 1,0 4.6,0a2.3,2.3 0 1,0 -4.6,0M321.4,136.9a2.3,2.3 0 1,0 4.6,0a2.3,2.3 0 1,0 -4.6,0M394.8,210.0a2.3,2.3 0 1,0 4.6,0a2.3,2.3 0 1,0 -4.6,0M467.4,298.5a2.3,2.3 0 1,0 4.6,0a2.3,2.3 0 1,0 -4.6,0M536.5,234.0a2.3,2.3 0 1,0 4.6,0a2.3,2.3 0 1,0 -4.6,0M431.3,282.0a2.3,2.3 0 1,0 4.6,0a2.3,2.3 0 1,0 -4.6,0M494.4,129.4a2.3,2.3 0 1,0 4.6,0a2.3,2.3 0 1,0 -4.6,0M381.2,159.5a2.3,2.3 0 1,0 4.6,0a2.3,2.3 0 1,0 -4.6,0M340.9,143.3a2.3,2.3 0 1,0 4.6,0a2.3,2.3 0 1,0 -4.6,0M357.6,141.8a2.3,2.3 0 1,0 4.6,0a2.3,2.3 0 1,0 -4.6,0M349.4,139.1a2.3,2.3 0 1,0 4.6,0a2.3,2.3 0 1,0 -4.6,0M347.6,166.4a2.3,2.3 0 1,0 4.6,0a2.3,2.3 0 1,0 -4.6,0M488.8,112.7a2.3,2.3 0 1,0 4.6,0a2.3,2.3 0 1,0 -4.6,0M378.8,126.8a2.3,2.3 0 1,0 4.6,0a2.3,2.3 0 1,0 -4.6,0M329.0,113.5a2.3,2.3 0 1,0 4.6,0a2.3,2.3 0 1,0 -4.6,0M534.4,211.2a2.3,2.3 0 1,0 4.6,0a2.3,2.3 0 1,0 -4.6,0M356.1,133.8a2.3,2.3 0 1,0 4.6,0a2.3,2.3 0 1,0 -4.6,0M378.2,158.1a2.3,2.3 0 1,0 4.6,0a2.3,2.3 0 1,0 -4.6,0M362.8,167.5a2.3,2.3 0 1,0 4.6,0a2.3,2.3 0 1,0 -4.6,0M303.8,131.9a2.3,2.3 0 1,0 4.6,0a2.3,2.3 0 1,0 -4.6,0M386.4,168.2a2.3,2.3 0 1,0 4.6,0a2.3,2.3 0 1,0 -4.6,0M475.5,83.7a2.3,2.3 0 1,0 4.6,0a2.3,2.3 0 1,0 -4.6,0M304.5,122.4a2.3,2.3 0 1,0 4.6,0a2.3,2.3 0 1,0 -4.6,0M364.0,109.4a2.3,2.3 0 1,0 4.6,0a2.3,2.3 0 1,0 -4.6,0M381.0,176.9a2.3,2.3 0 1,0 4.6,0a2.3,2.3 0 1,0 -4.6,0M442.6,280.1a2.3,2.3 0 1,0 4.6,0a2.3,2.3 0 1,0 -4.6,0M405.3,217.5a2.3,2.3 0 1,0 4.6,0a2.3,2.3 0 1,0 -4.6,0M366.0,122.0a2.3,2.3 0 1,0 4.6,0a2.3,2.3 0 1,0 -4.6,0M301.0,116.0a2.3,2.3 0 1,0 4.6,0a2.3,2.3 0 1,0 -4.6,0M418.0,233.8a2.3,2.3 0 1,0 4.6,0a2.3,2.3 0 1,0 -4.6,0M545.3,257.1a2.3,2.3 0 1,0 4.6,0a2.3,2.3 0 1,0 -4.6,0M400.4,173.3a2.3,2.3 0 1,0 4.6,0a2.3,2.3 0 1,0 -4.6,0M365.4,173.0a2.3,2.3 0 1,0 4.6,0a2.3,2.3 0 1,0 -4.6,0M383.3,210.3a2.3,2.3 0 1,0 4.6,0a2.3,2.3 0 1,0 -4.6,0M408.2,218.1a2.3,2.3 0 1,0 4.6,0a2.3,2.3 0 1,0 -4.6,0M391.6,207.3a2.3,2.3 0 1,0 4.6,0a2.3,2.3 0 1,0 -4.6,0M369.8,139.7a2.3,2.3 0 1,0 4.6,0a2.3,2.3 0 1,0 -4.6,0M360.8,138.7a2.3,2.3 0 1,0 4.6,0a2.3,2.3 0 1,0 -4.6,0M369.9,129.4a2.3,2.3 0 1,0 4.6,0a2.3,2.3 0 1,0 -4.6,0M345.5,126.5a2.3,2.3 0 1,0 4.6,0a2.3,2.3 0 1,0 -4.6,0M343.4,187.1a2.3,2.3 0 1,0 4.6,0a2.3,2.3 0 1,0 -4.6,0M380.9,179.0a2.3,2.3 0 1,0 4.6,0a2.3,2.3 0 1,0 -4.6,0M316.4,145.1a2.3,2.3 0 1,0 4.6,0a2.3,2.3 0 1,0 -4.6,0M370.8,159.3a2.3,2.3 0 1,0 4.6,0a2.3,2.3 0 1,0 -4.6,0M393.0,189.3a2.3,2.3 0 1,0 4.6,0a2.3,2.3 0 1,0 -4.6,0M325.3,149.5a2.3,2.3 0 1,0 4.6,0a2.3,2.3 0 1,0 -4.6,0M547.6,259.8a2.3,2.3 0 1,0 4.6,0a2.3,2.3 0 1,0 -4.6,0M383.9,165.1a2.3,2.3 0 1,0 4.6,0a2.3,2.3 0 1,0 -4.6,0M379.8,149.2a2.3,2.3 0 1,0 4.6,0a2.3,2.3 0 1,0 -4.6,0M344.5,178.4a2.3,2.3 0 1,0 4.6,0a2.3,2.3 0 1,0 -4.6,0M391.2,206.2a2.3,2.3 0 1,0 4.6,0a2.3,2.3 0 1,0 -4.6,0M553.4,273.9a2.3,2.3 0 1,0 4.6,0a2.3,2.3 0 1,0 -4.6,0M393.1,171.5a2.3,2.3 0 1,0 4.6,0a2.3,2.3 0 1,0 -4.6,0M524.1,177.2a2.3,2.3 0 1,0 4.6,0a2.3,2.3 0 1,0 -4.6,0M455.1,78.3a2.3,2.3 0 1,0 4.6,0a2.3,2.3 0 1,0 -4.6,0M349.2,132.7a2.3,2.3 0 1,0 4.6,0a2.3,2.3 0 1,0 -4.6,0M387.1,129.0a2.3,2.3 0 1,0 4.6,0a2.3,2.3 0 1,0 -4.6,0M546.5,260.8a2.3,2.3 0 1,0 4.6,0a2.3,2.3 0 1,0 -4.6,0M365.4,112.1a2.3,2.3 0 1,0 4.6,0a2.3,2.3 0 1,0 -4.6,0M348.4,146.4a2.3,2.3 0 1,0 4.6,0a2.3,2.3 0 1,0 -4.6,0M551.7,266.2a2.3,2.3 0 1,0 4.6,0a2.3,2.3 0 1,0 -4.6,0M305.6,117.7a2.3,2.3 0 1,0 4.6,0a2.3,2.3 0 1,0 -4.6,0M484.9,94.7a2.3,2.3 0 1,0 4.6,0a2.3,2.3 0 1,0 -4.6,0M375.8,198.2a2.3,2.3 0 1,0 4.6,0a2.3,2.3 0 1,0 -4.6,0M497.2,114.5a2.3,2.3 0 1,0 4.6,0a2.3,2.3 0 1,0 -4.6,0M424.7,286.7a2.3,2.3 0 1,0 4.6,0a2.3,2.3 0 1,0 -4.6,0M501.8,136.8a2.3,2.3 0 1,0 4.6,0a2.3,2.3 0 1,0 -4.6,0M394.4,171.9a2.3,2.3 0 1,0 4.6,0a2.3,2.3 0 1,0 -4.6,0M445.5,280.4a2.3,2.3 0 1,0 4.6,0a2.3,2.3 0 1,0 -4.6,0M408.2,176.9a2.3,2.3 0 1,0 4.6,0a2.3,2.3 0 1,0 -4.6,0M465.8,301.4a2.3,2.3 0 1,0 4.6,0a2.3,2.3 0 1,0 -4.6,0M369.7,119.4a2.3,2.3 0 1,0 4.6,0a2.3,2.3 0 1,0 -4.6,0M329.4,118.0a2.3,2.3 0 1,0 4.6,0a2.3,2.3 0 1,0 -4.6,0M361.7,134.4a2.3,2.3 0 1,0 4.6,0a2.3,2.3 0 1,0 -4.6,0M383.6,128.2a2.3,2.3 0 1,0 4.6,0a2.3,2.3 0 1,0 -4.6,0M326.6,177.0a2.3,2.3 0 1,0 4.6,0a2.3,2.3 0 1,0 -4.6,0M357.9,105.1a2.3,2.3 0 1,0 4.6,0a2.3,2.3 0 1,0 -4.6,0M393.8,220.0a2.3,2.3 0 1,0 4.6,0a2.3,2.3 0 1,0 -4.6,0M564.5,334.7a2.3,2.3 0 1,0 4.6,0a2.3,2.3 0 1,0 -4.6,0M406.2,217.2a2.3,2.3 0 1,0 4.6,0a2.3,2.3 0 1,0 -4.6,0M390.0,156.2a2.3,2.3 0 1,0 4.6,0a2.3,2.3 0 1,0 -4.6,0M306.4,145.9a2.3,2.3 0 1,0 4.6,0a2.3,2.3 0 1,0 -4.6,0M299.5,70.9a2.3,2.3 0 1,0 4.6,0a2.3,2.3 0 1,0 -4.6,0M345.0,187.9a2.3,2.3 0 1,0 4.6,0a2.3,2.3 0 1,0 -4.6,0M305.5,82.8a2.3,2.3 0 1,0 4.6,0a2.3,2.3 0 1,0 -4.6,0M386.7,218.6a2.3,2.3 0 1,0 4.6,0a2.3,2.3 0 1,0 -4.6,0M351.5,149.9a2.3,2.3 0 1,0 4.6,0a2.3,2.3 0 1,0 -4.6,0M307.8,117.6a2.3,2.3 0 1,0 4.6,0a2.3,2.3 0 1,0 -4.6,0M505.0,343.6a2.3,2.3 0 1,0 4.6,0a2.3,2.3 0 1,0 -4.6,0M402.9,193.1a2.3,2.3 0 1,0 4.6,0a2.3,2.3 0 1,0 -4.6,0M379.5,145.6a2.3,2.3 0 1,0 4.6,0a2.3,2.3 0 1,0 -4.6,0M296.3,77.8a2.3,2.3 0 1,0 4.6,0a2.3,2.3 0 1,0 -4.6,0M404.2,187.2a2.3,2.3 0 1,0 4.6,0a2.3,2.3 0 1,0 -4.6,0M352.9,120.9a2.3,2.3 0 1,0 4.6,0a2.3,2.3 0 1,0 -4.6,0M470.1,315.1a2.3,2.3 0 1,0 4.6,0a2.3,2.3 0 1,0 -4.6,0M382.8,122.7a2.3,2.3 0 1,0 4.6,0a2.3,2.3 0 1,0 -4.6,0M388.7,202.6a2.3,2.3 0 1,0 4.6,0a2.3,2.3 0 1,0 -4.6,0M426.9,265.8a2.3,2.3 0 1,0 4.6,0a2.3,2.3 0 1,0 -4.6,0M573.1,287.6a2.3,2.3 0 1,0 4.6,0a2.3,2.3 0 1,0 -4.6,0M381.0,114.8a2.3,2.3 0 1,0 4.6,0a2.3,2.3 0 1,0 -4.6,0M367.4,153.4a2.3,2.3 0 1,0 4.6,0a2.3,2.3 0 1,0 -4.6,0M368.0,180.6a2.3,2.3 0 1,0 4.6,0a2.3,2.3 0 1,0 -4.6,0M353.4,122.1a2.3,2.3 0 1,0 4.6,0a2.3,2.3 0 1,0 -4.6,0M382.6,131.7a2.3,2.3 0 1,0 4.6,0a2.3,2.3 0 1,0 -4.6,0M390.3,161.9a2.3,2.3 0 1,0 4.6,0a2.3,2.3 0 1,0 -4.6,0M482.7,103.5a2.3,2.3 0 1,0 4.6,0a2.3,2.3 0 1,0 -4.6,0M512.3,339.6a2.3,2.3 0 1,0 4.6,0a2.3,2.3 0 1,0 -4.6,0M436.7,261.8a2.3,2.3 0 1,0 4.6,0a2.3,2.3 0 1,0 -4.6,0M404.3,185.0a2.3,2.3 0 1,0 4.6,0a2.3,2.3 0 1,0 -4.6,0M378.0,141.0a2.3,2.3 0 1,0 4.6,0a2.3,2.3 0 1,0 -4.6,0M381.4,187.8a2.3,2.3 0 1,0 4.6,0a2.3,2.3 0 1,0 -4.6,0M349.8,142.1a2.3,2.3 0 1,0 4.6,0a2.3,2.3 0 1,0 -4.6,0M375.1,181.6a2.3,2.3 0 1,0 4.6,0a2.3,2.3 0 1,0 -4.6,0M395.6,132.0a2.3,2.3 0 1,0 4.6,0a2.3,2.3 0 1,0 -4.6,0M433.0,266.8a2.3,2.3 0 1,0 4.6,0a2.3,2.3 0 1,0 -4.6,0M407.8,238.1a2.3,2.3 0 1,0 4.6,0a2.3,2.3 0 1,0 -4.6,0M356.1,107.0a2.3,2.3 0 1,0 4.6,0a2.3,2.3 0 1,0 -4.6,0M334.2,101.8a2.3,2.3 0 1,0 4.6,0a2.3,2.3 0 1,0 -4.6,0M487.6,100.5a2.3,2.3 0 1,0 4.6,0a2.3,2.3 0 1,0 -4.6,0M298.5,71.2a2.3,2.3 0 1,0 4.6,0a2.3,2.3 0 1,0 -4.6,0M446.4,300.7a2.3,2.3 0 1,0 4.6,0a2.3,2.3 0 1,0 -4.6,0M310.3,80.7a2.3,2.3 0 1,0 4.6,0a2.3,2.3 0 1,0 -4.6,0M415.3,233.2a2.3,2.3 0 1,0 4.6,0a2.3,2.3 0 1,0 -4.6,0M531.0,217.9a2.3,2.3 0 1,0 4.6,0a2.3,2.3 0 1,0 -4.6,0M339.1,161.9a2.3,2.3 0 1,0 4.6,0a2.3,2.3 0 1,0 -4.6,0M371.9,195.6a2.3,2.3 0 1,0 4.6,0a2.3,2.3 0 1,0 -4.6,0M306.1,108.3a2.3,2.3 0 1,0 4.6,0a2.3,2.3 0 1,0 -4.6,0M335.2,171.0a2.3,2.3 0 1,0 4.6,0a2.3,2.3 0 1,0 -4.6,0M373.0,174.9a2.3,2.3 0 1,0 4.6,0a2.3,2.3 0 1,0 -4.6,0M502.4,154.5a2.3,2.3 0 1,0 4.6,0a2.3,2.3 0 1,0 -4.6,0M394.8,151.7a2.3,2.3 0 1,0 4.6,0a2.3,2.3 0 1,0 -4.6,0M373.1,133.9a2.3,2.3 0 1,0 4.6,0a2.3,2.3 0 1,0 -4.6,0M312.7,157.0a2.3,2.3 0 1,0 4.6,0a2.3,2.3 0 1,0 -4.6,0M400.5,212.8a2.3,2.3 0 1,0 4.6,0a2.3,2.3 0 1,0 -4.6,0M533.7,229.9a2.3,2.3 0 1,0 4.6,0a2.3,2.3 0 1,0 -4.6,0M575.8,291.0a2.3,2.3 0 1,0 4.6,0a2.3,2.3 0 1,0 -4.6,0M389.7,196.4a2.3,2.3 0 1,0 4.6,0a2.3,2.3 0 1,0 -4.6,0M398.3,139.6a2.3,2.3 0 1,0 4.6,0a2.3,2.3 0 1,0 -4.6,0M541.5,352.3a2.3,2.3 0 1,0 4.6,0a2.3,2.3 0 1,0 -4.6,0M479.7,84.3a2.3,2.3 0 1,0 4.6,0a2.3,2.3 0 1,0 -4.6,0M318.1,156.8a2.3,2.3 0 1,0 4.6,0a2.3,2.3 0 1,0 -4.6,0M422.8,272.5a2.3,2.3 0 1,0 4.6,0a2.3,2.3 0 1,0 -4.6,0M382.0,159.5a2.3,2.3 0 1,0 4.6,0a2.3,2.3 0 1,0 -4.6,0M371.7,181.2a2.3,2.3 0 1,0 4.6,0a2.3,2.3 0 1,0 -4.6,0M357.8,198.7a2.3,2.3 0 1,0 4.6,0a2.3,2.3 0 1,0 -4.6,0M390.4,131.8a2.3,2.3 0 1,0 4.6,0a2.3,2.3 0 1,0 -4.6,0M526.9,206.5a2.3,2.3 0 1,0 4.6,0a2.3,2.3 0 1,0 -4.6,0M287.1,118.2a2.3,2.3 0 1,0 4.6,0a2.3,2.3 0 1,0 -4.6,0M440.7,272.9a2.3,2.3 0 1,0 4.6,0a2.3,2.3 0 1,0 -4.6,0M341.3,173.5a2.3,2.3 0 1,0 4.6,0a2.3,2.3 0 1,0 -4.6,0M416.2,230.1a2.3,2.3 0 1,0 4.6,0a2.3,2.3 0 1,0 -4.6,0M568.0,287.7a2.3,2.3 0 1,0 4.6,0a2.3,2.3 0 1,0 -4.6,0M381.4,206.9a2.3,2.3 0 1,0 4.6,0a2.3,2.3 0 1,0 -4.6,0M454.9,301.5a2.3,2.3 0 1,0 4.6,0a2.3,2.3 0 1,0 -4.6,0M485.9,100.6a2.3,2.3 0 1,0 4.6,0a2.3,2.3 0 1,0 -4.6,0M378.3,169.8a2.3,2.3 0 1,0 4.6,0a2.3,2.3 0 1,0 -4.6,0M563.9,295.0a2.3,2.3 0 1,0 4.6,0a2.3,2.3 0 1,0 -4.6,0M518.1,177.7a2.3,2.3 0 1,0 4.6,0a2.3,2.3 0 1,0 -4.6,0M416.0,234.1a2.3,2.3 0 1,0 4.6,0a2.3,2.3 0 1,0 -4.6,0M374.3,116.1a2.3,2.3 0 1,0 4.6,0a2.3,2.3 0 1,0 -4.6,0M376.6,133.0a2.3,2.3 0 1,0 4.6,0a2.3,2.3 0 1,0 -4.6,0M380.8,134.5a2.3,2.3 0 1,0 4.6,0a2.3,2.3 0 1,0 -4.6,0M300.9,91.8a2.3,2.3 0 1,0 4.6,0a2.3,2.3 0 1,0 -4.6,0M400.7,192.0a2.3,2.3 0 1,0 4.6,0a2.3,2.3 0 1,0 -4.6,0M294.8,68.4a2.3,2.3 0 1,0 4.6,0a2.3,2.3 0 1,0 -4.6,0M283.6,58.0a2.3,2.3 0 1,0 4.6,0a2.3,2.3 0 1,0 -4.6,0M566.0,297.0a2.3,2.3 0 1,0 4.6,0a2.3,2.3 0 1,0 -4.6,0M563.6,301.5a2.3,2.3 0 1,0 4.6,0a2.3,2.3 0 1,0 -4.6,0M454.9,282.7a2.3,2.3 0 1,0 4.6,0a2.3,2.3 0 1,0 -4.6,0M402.0,177.6a2.3,2.3 0 1,0 4.6,0a2.3,2.3 0 1,0 -4.6,0M374.1,127.6a2.3,2.3 0 1,0 4.6,0a2.3,2.3 0 1,0 -4.6,0M372.8,166.7a2.3,2.3 0 1,0 4.6,0a2.3,2.3 0 1,0 -4.6,0M388.5,143.4a2.3,2.3 0 1,0 4.6,0a2.3,2.3 0 1,0 -4.6,0M385.0,171.5a2.3,2.3 0 1,0 4.6,0a2.3,2.3 0 1,0 -4.6,0M357.3,119.9a2.3,2.3 0 1,0 4.6,0a2.3,2.3 0 1,0 -4.6,0M384.1,206.5a2.3,2.3 0 1,0 4.6,0a2.3,2.3 0 1,0 -4.6,0M372.9,194.1a2.3,2.3 0 1,0 4.6,0a2.3,2.3 0 1,0 -4.6,0M427.0,289.3a2.3,2.3 0 1,0 4.6,0a2.3,2.3 0 1,0 -4.6,0M458.5,289.6a2.3,2.3 0 1,0 4.6,0a2.3,2.3 0 1,0 -4.6,0M371.2,138.4a2.3,2.3 0 1,0 4.6,0a2.3,2.3 0 1,0 -4.6,0M287.4,107.4a2.3,2.3 0 1,0 4.6,0a2.3,2.3 0 1,0 -4.6,0M514.6,183.9a2.3,2.3 0 1,0 4.6,0a2.3,2.3 0 1,0 -4.6,0M446.4,274.7a2.3,2.3 0 1,0 4.6,0a2.3,2.3 0 1,0 -4.6,0M376.8,174.7a2.3,2.3 0 1,0 4.6,0a2.3,2.3 0 1,0 -4.6,0M387.3,156.1a2.3,2.3 0 1,0 4.6,0a2.3,2.3 0 1,0 -4.6,0M285.6,92.6a2.3,2.3 0 1,0 4.6,0a2.3,2.3 0 1,0 -4.6,0M376.3,146.2a2.3,2.3 0 1,0 4.6,0a2.3,2.3 0 1,0 -4.6,0M542.9,235.3a2.3,2.3 0 1,0 4.6,0a2.3,2.3 0 1,0 -4.6,0M562.5,291.6a2.3,2.3 0 1,0 4.6,0a2.3,2.3 0 1,0 -4.6,0M517.4,168.2a2.3,2.3 0 1,0 4.6,0a2.3,2.3 0 1,0 -4.6,0M326.3,113.9a2.3,2.3 0 1,0 4.6,0a2.3,2.3 0 1,0 -4.6,0M349.3,101.3a2.3,2.3 0 1,0 4.6,0a2.3,2.3 0 1,0 -4.6,0M351.3,185.7a2.3,2.3 0 1,0 4.6,0a2.3,2.3 0 1,0 -4.6,0M341.7,168.3a2.3,2.3 0 1,0 4.6,0a2.3,2.3 0 1,0 -4.6,0M343.9,173.7a2.3,2.3 0 1,0 4.6,0a2.3,2.3 0 1,0 -4.6,0M383.6,128.1a2.3,2.3 0 1,0 4.6,0a2.3,2.3 0 1,0 -4.6,0M386.2,157.8a2.3,2.3 0 1,0 4.6,0a2.3,2.3 0 1,0 -4.6,0M382.0,180.5a2.3,2.3 0 1,0 4.6,0a2.3,2.3 0 1,0 -4.6,0M362.6,171.2a2.3,2.3 0 1,0 4.6,0a2.3,2.3 0 1,0 -4.6,0M388.3,175.3a2.3,2.3 0 1,0 4.6,0a2.3,2.3 0 1,0 -4.6,0M541.0,211.7a2.3,2.3 0 1,0 4.6,0a2.3,2.3 0 1,0 -4.6,0M304.7,121.4a2.3,2.3 0 1,0 4.6,0a2.3,2.3 0 1,0 -4.6,0M526.8,197.0a2.3,2.3 0 1,0 4.6,0a2.3,2.3 0 1,0 -4.6,0M473.3,90.6a2.3,2.3 0 1,0 4.6,0a2.3,2.3 0 1,0 -4.6,0M544.2,253.7a2.3,2.3 0 1,0 4.6,0a2.3,2.3 0 1,0 -4.6,0M553.5,241.9a2.3,2.3 0 1,0 4.6,0a2.3,2.3 0 1,0 -4.6,0M571.1,325.5a2.3,2.3 0 1,0 4.6,0a2.3,2.3 0 1,0 -4.6,0M295.1,87.0a2.3,2.3 0 1,0 4.6,0a2.3,2.3 0 1,0 -4.6,0M547.7,234.0a2.3,2.3 0 1,0 4.6,0a2.3,2.3 0 1,0 -4.6,0M380.4,159.2a2.3,2.3 0 1,0 4.6,0a2.3,2.3 0 1,0 -4.6,0M394.7,141.7a2.3,2.3 0 1,0 4.6,0a2.3,2.3 0 1,0 -4.6,0M390.0,211.8a2.3,2.3 0 1,0 4.6,0a2.3,2.3 0 1,0 -4.6,0M526.6,204.0a2.3,2.3 0 1,0 4.6,0a2.3,2.3 0 1,0 -4.6,0M374.3,203.8a2.3,2.3 0 1,0 4.6,0a2.3,2.3 0 1,0 -4.6,0M327.2,142.5a2.3,2.3 0 1,0 4.6,0a2.3,2.3 0 1,0 -4.6,0M388.6,135.3a2.3,2.3 0 1,0 4.6,0a2.3,2.3 0 1,0 -4.6,0M315.2,105.2a2.3,2.3 0 1,0 4.6,0a2.3,2.3 0 1,0 -4.6,0M431.0,257.0a2.3,2.3 0 1,0 4.6,0a2.3,2.3 0 1,0 -4.6,0M340.7,120.0a2.3,2.3 0 1,0 4.6,0a2.3,2.3 0 1,0 -4.6,0M305.6,161.4a2.3,2.3 0 1,0 4.6,0a2.3,2.3 0 1,0 -4.6,0M344.3,155.9a2.3,2.3 0 1,0 4.6,0a2.3,2.3 0 1,0 -4.6,0M387.7,124.2a2.3,2.3 0 1,0 4.6,0a2.3,2.3 0 1,0 -4.6,0M308.1,142.0a2.3,2.3 0 1,0 4.6,0a2.3,2.3 0 1,0 -4.6,0M565.4,289.7a2.3,2.3 0 1,0 4.6,0a2.3,2.3 0 1,0 -4.6,0M343.3,103.8a2.3,2.3 0 1,0 4.6,0a2.3,2.3 0 1,0 -4.6,0M327.4,114.5a2.3,2.3 0 1,0 4.6,0a2.3,2.3 0 1,0 -4.6,0M403.9,175.4a2.3,2.3 0 1,0 4.6,0a2.3,2.3 0 1,0 -4.6,0M370.8,158.2a2.3,2.3 0 1,0 4.6,0a2.3,2.3 0 1,0 -4.6,0M364.8,168.2a2.3,2.3 0 1,0 4.6,0a2.3,2.3 0 1,0 -4.6,0M347.4,195.6a2.3,2.3 0 1,0 4.6,0a2.3,2.3 0 1,0 -4.6,0M381.2,143.0a2.3,2.3 0 1,0 4.6,0a2.3,2.3 0 1,0 -4.6,0M370.7,168.4a2.3,2.3 0 1,0 4.6,0a2.3,2.3 0 1,0 -4.6,0M536.4,210.7a2.3,2.3 0 1,0 4.6,0a2.3,2.3 0 1,0 -4.6,0M364.1,160.4a2.3,2.3 0 1,0 4.6,0a2.3,2.3 0 1,0 -4.6,0M310.0,82.6a2.3,2.3 0 1,0 4.6,0a2.3,2.3 0 1,0 -4.6,0M293.0,127.5a2.3,2.3 0 1,0 4.6,0a2.3,2.3 0 1,0 -4.6,0M341.3,119.8a2.3,2.3 0 1,0 4.6,0a2.3,2.3 0 1,0 -4.6,0M394.1,132.9a2.3,2.3 0 1,0 4.6,0a2.3,2.3 0 1,0 -4.6,0M526.6,212.5a2.3,2.3 0 1,0 4.6,0a2.3,2.3 0 1,0 -4.6,0M416.0,235.7a2.3,2.3 0 1,0 4.6,0a2.3,2.3 0 1,0 -4.6,0M378.1,171.8a2.3,2.3 0 1,0 4.6,0a2.3,2.3 0 1,0 -4.6,0M341.7,143.0a2.3,2.3 0 1,0 4.6,0a2.3,2.3 0 1,0 -4.6,0M392.2,134.9a2.3,2.3 0 1,0 4.6,0a2.3,2.3 0 1,0 -4.6,0M478.1,315.5a2.3,2.3 0 1,0 4.6,0a2.3,2.3 0 1,0 -4.6,0M461.9,85.1a2.3,2.3 0 1,0 4.6,0a2.3,2.3 0 1,0 -4.6,0M303.6,141.4a2.3,2.3 0 1,0 4.6,0a2.3,2.3 0 1,0 -4.6,0M546.7,225.5a2.3,2.3 0 1,0 4.6,0a2.3,2.3 0 1,0 -4.6,0M314.4,92.9a2.3,2.3 0 1,0 4.6,0a2.3,2.3 0 1,0 -4.6,0M416.5,274.5a2.3,2.3 0 1,0 4.6,0a2.3,2.3 0 1,0 -4.6,0M340.2,111.7a2.3,2.3 0 1,0 4.6,0a2.3,2.3 0 1,0 -4.6,0M364.4,173.9a2.3,2.3 0 1,0 4.6,0a2.3,2.3 0 1,0 -4.6,0M393.9,196.6a2.3,2.3 0 1,0 4.6,0a2.3,2.3 0 1,0 -4.6,0M483.1,320.7a2.3,2.3 0 1,0 4.6,0a2.3,2.3 0 1,0 -4.6,0M376.8,157.7a2.3,2.3 0 1,0 4.6,0a2.3,2.3 0 1,0 -4.6,0M562.6,341.0a2.3,2.3 0 1,0 4.6,0a2.3,2.3 0 1,0 -4.6,0M433.7,256.7a2.3,2.3 0 1,0 4.6,0a2.3,2.3 0 1,0 -4.6,0M491.9,125.1a2.3,2.3 0 1,0 4.6,0a2.3,2.3 0 1,0 -4.6,0M416.0,274.9a2.3,2.3 0 1,0 4.6,0a2.3,2.3 0 1,0 -4.6,0M432.0,281.4a2.3,2.3 0 1,0 4.6,0a2.3,2.3 0 1,0 -4.6,0M302.4,105.9a2.3,2.3 0 1,0 4.6,0a2.3,2.3 0 1,0 -4.6,0M366.8,136.0a2.3,2.3 0 1,0 4.6,0a2.3,2.3 0 1,0 -4.6,0M372.4,121.5a2.3,2.3 0 1,0 4.6,0a2.3,2.3 0 1,0 -4.6,0M369.2,203.6a2.3,2.3 0 1,0 4.6,0a2.3,2.3 0 1,0 -4.6,0M568.4,339.9a2.3,2.3 0 1,0 4.6,0a2.3,2.3 0 1,0 -4.6,0M299.7,137.5a2.3,2.3 0 1,0 4.6,0a2.3,2.3 0 1,0 -4.6,0M361.4,156.2a2.3,2.3 0 1,0 4.6,0a2.3,2.3 0 1,0 -4.6,0M474.7,81.3a2.3,2.3 0 1,0 4.6,0a2.3,2.3 0 1,0 -4.6,0M547.5,257.3a2.3,2.3 0 1,0 4.6,0a2.3,2.3 0 1,0 -4.6,0M401.7,156.0a2.3,2.3 0 1,0 4.6,0a2.3,2.3 0 1,0 -4.6,0M287.9,119.1a2.3,2.3 0 1,0 4.6,0a2.3,2.3 0 1,0 -4.6,0M336.5,190.7a2.3,2.3 0 1,0 4.6,0a2.3,2.3 0 1,0 -4.6,0M321.5,115.9a2.3,2.3 0 1,0 4.6,0a2.3,2.3 0 1,0 -4.6,0M423.5,275.5a2.3,2.3 0 1,0 4.6,0a2.3,2.3 0 1,0 -4.6,0M406.9,189.7a2.3,2.3 0 1,0 4.6,0a2.3,2.3 0 1,0 -4.6,0M368.0,119.4a2.3,2.3 0 1,0 4.6,0a2.3,2.3 0 1,0 -4.6,0M394.0,198.7a2.3,2.3 0 1,0 4.6,0a2.3,2.3 0 1,0 -4.6,0M316.0,127.1a2.3,2.3 0 1,0 4.6,0a2.3,2.3 0 1,0 -4.6,0M497.7,135.0a2.3,2.3 0 1,0 4.6,0a2.3,2.3 0 1,0 -4.6,0M549.1,245.1a2.3,2.3 0 1,0 4.6,0a2.3,2.3 0 1,0 -4.6,0M423.8,283.5a2.3,2.3 0 1,0 4.6,0a2.3,2.3 0 1,0 -4.6,0M356.2,168.5a2.3,2.3 0 1,0 4.6,0a2.3,2.3 0 1,0 -4.6,0M349.1,189.3a2.3,2.3 0 1,0 4.6,0a2.3,2.3 0 1,0 -4.6,0M350.9,158.9a2.3,2.3 0 1,0 4.6,0a2.3,2.3 0 1,0 -4.6,0M375.8,169.0a2.3,2.3 0 1,0 4.6,0a2.3,2.3 0 1,0 -4.6,0M332.8,157.6a2.3,2.3 0 1,0 4.6,0a2.3,2.3 0 1,0 -4.6,0M309.1,118.6a2.3,2.3 0 1,0 4.6,0a2.3,2.3 0 1,0 -4.6,0M324.8,112.8a2.3,2.3 0 1,0 4.6,0a2.3,2.3 0 1,0 -4.6,0M564.4,296.6a2.3,2.3 0 1,0 4.6,0a2.3,2.3 0 1,0 -4.6,0M325.6,160.9a2.3,2.3 0 1,0 4.6,0a2.3,2.3 0 1,0 -4.6,0M379.9,162.5a2.3,2.3 0 1,0 4.6,0a2.3,2.3 0 1,0 -4.6,0M346.8,119.8a2.3,2.3 0 1,0 4.6,0a2.3,2.3 0 1,0 -4.6,0M331.8,156.1a2.3,2.3 0 1,0 4.6,0a2.3,2.3 0 1,0 -4.6,0M434.8,295.1a2.3,2.3 0 1,0 4.6,0a2.3,2.3 0 1,0 -4.6,0M533.1,225.8a2.3,2.3 0 1,0 4.6,0a2.3,2.3 0 1,0 -4.6,0M341.5,127.4a2.3,2.3 0 1,0 4.6,0a2.3,2.3 0 1,0 -4.6,0M437.2,265.6a2.3,2.3 0 1,0 4.6,0a2.3,2.3 0 1,0 -4.6,0M434.2,262.7a2.3,2.3 0 1,0 4.6,0a2.3,2.3 0 1,0 -4.6,0M392.7,168.0a2.3,2.3 0 1,0 4.6,0a2.3,2.3 0 1,0 -4.6,0M360.5,176.4a2.3,2.3 0 1,0 4.6,0a2.3,2.3 0 1,0 -4.6,0M530.7,200.7a2.3,2.3 0 1,0 4.6,0a2.3,2.3 0 1,0 -4.6,0M407.6,172.0a2.3,2.3 0 1,0 4.6,0a2.3,2.3 0 1,0 -4.6,0M345.1,164.7a2.3,2.3 0 1,0 4.6,0a2.3,2.3 0 1,0 -4.6,0M418.7,245.0a2.3,2.3 0 1,0 4.6,0a2.3,2.3 0 1,0 -4.6,0M348.7,168.9a2.3,2.3 0 1,0 4.6,0a2.3,2.3 0 1,0 -4.6,0M508.3,142.5a2.3,2.3 0 1,0 4.6,0a2.3,2.3 0 1,0 -4.6,0M423.7,244.3a2.3,2.3 0 1,0 4.6,0a2.3,2.3 0 1,0 -4.6,0M313.8,141.4a2.3,2.3 0 1,0 4.6,0a2.3,2.3 0 1,0 -4.6,0M313.7,171.4a2.3,2.3 0 1,0 4.6,0a2.3,2.3 0 1,0 -4.6,0M330.3,175.8a2.3,2.3 0 1,0 4.6,0a2.3,2.3 0 1,0 -4.6,0M311.4,123.2a2.3,2.3 0 1,0 4.6,0a2.3,2.3 0 1,0 -4.6,0M411.7,223.7a2.3,2.3 0 1,0 4.6,0a2.3,2.3 0 1,0 -4.6,0M349.6,120.6a2.3,2.3 0 1,0 4.6,0a2.3,2.3 0 1,0 -4.6,0M311.2,167.3a2.3,2.3 0 1,0 4.6,0a2.3,2.3 0 1,0 -4.6,0M290.0,118.1a2.3,2.3 0 1,0 4.6,0a2.3,2.3 0 1,0 -4.6,0M361.9,150.6a2.3,2.3 0 1,0 4.6,0a2.3,2.3 0 1,0 -4.6,0M395.2,152.6a2.3,2.3 0 1,0 4.6,0a2.3,2.3 0 1,0 -4.6,0M366.6,150.0a2.3,2.3 0 1,0 4.6,0a2.3,2.3 0 1,0 -4.6,0M476.9,82.0a2.3,2.3 0 1,0 4.6,0a2.3,2.3 0 1,0 -4.6,0M323.9,120.5a2.3,2.3 0 1,0 4.6,0a2.3,2.3 0 1,0 -4.6,0M386.0,144.2a2.3,2.3 0 1,0 4.6,0a2.3,2.3 0 1,0 -4.6,0M513.4,179.4a2.3,2.3 0 1,0 4.6,0a2.3,2.3 0 1,0 -4.6,0M389.3,161.8a2.3,2.3 0 1,0 4.6,0a2.3,2.3 0 1,0 -4.6,0M390.7,143.3a2.3,2.3 0 1,0 4.6,0a2.3,2.3 0 1,0 -4.6,0M382.3,139.6a2.3,2.3 0 1,0 4.6,0a2.3,2.3 0 1,0 -4.6,0M350.1,120.0a2.3,2.3 0 1,0 4.6,0a2.3,2.3 0 1,0 -4.6,0M343.8,109.3a2.3,2.3 0 1,0 4.6,0a2.3,2.3 0 1,0 -4.6,0M333.8,166.7a2.3,2.3 0 1,0 4.6,0a2.3,2.3 0 1,0 -4.6,0M559.4,280.6a2.3,2.3 0 1,0 4.6,0a2.3,2.3 0 1,0 -4.6,0M527.3,218.0a2.3,2.3 0 1,0 4.6,0a2.3,2.3 0 1,0 -4.6,0M506.4,151.4a2.3,2.3 0 1,0 4.6,0a2.3,2.3 0 1,0 -4.6,0M375.4,216.6a2.3,2.3 0 1,0 4.6,0a2.3,2.3 0 1,0 -4.6,0M403.6,215.8a2.3,2.3 0 1,0 4.6,0a2.3,2.3 0 1,0 -4.6,0M345.8,155.5a2.3,2.3 0 1,0 4.6,0a2.3,2.3 0 1,0 -4.6,0M373.5,139.6a2.3,2.3 0 1,0 4.6,0a2.3,2.3 0 1,0 -4.6,0M401.5,214.8a2.3,2.3 0 1,0 4.6,0a2.3,2.3 0 1,0 -4.6,0M350.6,194.4a2.3,2.3 0 1,0 4.6,0a2.3,2.3 0 1,0 -4.6,0M443.2,286.8a2.3,2.3 0 1,0 4.6,0a2.3,2.3 0 1,0 -4.6,0M573.6,288.1a2.3,2.3 0 1,0 4.6,0a2.3,2.3 0 1,0 -4.6,0M371.2,192.5a2.3,2.3 0 1,0 4.6,0a2.3,2.3 0 1,0 -4.6,0M441.6,283.6a2.3,2.3 0 1,0 4.6,0a2.3,2.3 0 1,0 -4.6,0M455.0,282.7a2.3,2.3 0 1,0 4.6,0a2.3,2.3 0 1,0 -4.6,0M393.5,214.6a2.3,2.3 0 1,0 4.6,0a2.3,2.3 0 1,0 -4.6,0M479.8,99.8a2.3,2.3 0 1,0 4.6,0a2.3,2.3 0 1,0 -4.6,0M297.2,141.9a2.3,2.3 0 1,0 4.6,0a2.3,2.3 0 1,0 -4.6,0M302.2,145.4a2.3,2.3 0 1,0 4.6,0a2.3,2.3 0 1,0 -4.6,0M369.0,146.1a2.3,2.3 0 1,0 4.6,0a2.3,2.3 0 1,0 -4.6,0M381.6,184.8a2.3,2.3 0 1,0 4.6,0a2.3,2.3 0 1,0 -4.6,0M373.3,123.7a2.3,2.3 0 1,0 4.6,0a2.3,2.3 0 1,0 -4.6,0M562.4,301.0a2.3,2.3 0 1,0 4.6,0a2.3,2.3 0 1,0 -4.6,0M389.1,187.3a2.3,2.3 0 1,0 4.6,0a2.3,2.3 0 1,0 -4.6,0M396.5,166.8a2.3,2.3 0 1,0 4.6,0a2.3,2.3 0 1,0 -4.6,0M333.6,115.6a2.3,2.3 0 1,0 4.6,0a2.3,2.3 0 1,0 -4.6,0M393.1,212.9a2.3,2.3 0 1,0 4.6,0a2.3,2.3 0 1,0 -4.6,0M321.1,144.0a2.3,2.3 0 1,0 4.6,0a2.3,2.3 0 1,0 -4.6,0M330.2,147.2a2.3,2.3 0 1,0 4.6,0a2.3,2.3 0 1,0 -4.6,0M329.1,130.2a2.3,2.3 0 1,0 4.6,0a2.3,2.3 0 1,0 -4.6,0M533.2,225.7a2.3,2.3 0 1,0 4.6,0a2.3,2.3 0 1,0 -4.6,0M499.1,150.6a2.3,2.3 0 1,0 4.6,0a2.3,2.3 0 1,0 -4.6,0M420.8,261.3a2.3,2.3 0 1,0 4.6,0a2.3,2.3 0 1,0 -4.6,0M374.6,166.7a2.3,2.3 0 1,0 4.6,0a2.3,2.3 0 1,0 -4.6,0M366.4,208.9a2.3,2.3 0 1,0 4.6,0a2.3,2.3 0 1,0 -4.6,0M372.6,128.8a2.3,2.3 0 1,0 4.6,0a2.3,2.3 0 1,0 -4.6,0M374.4,120.1a2.3,2.3 0 1,0 4.6,0a2.3,2.3 0 1,0 -4.6,0M451.4,289.3a2.3,2.3 0 1,0 4.6,0a2.3,2.3 0 1,0 -4.6,0M384.9,136.9a2.3,2.3 0 1,0 4.6,0a2.3,2.3 0 1,0 -4.6,0M405.1,186.1a2.3,2.3 0 1,0 4.6,0a2.3,2.3 0 1,0 -4.6,0M562.3,259.6a2.3,2.3 0 1,0 4.6,0a2.3,2.3 0 1,0 -4.6,0M457.2,286.5a2.3,2.3 0 1,0 4.6,0a2.3,2.3 0 1,0 -4.6,0M403.5,242.4a2.3,2.3 0 1,0 4.6,0a2.3,2.3 0 1,0 -4.6,0M485.0,101.3a2.3,2.3 0 1,0 4.6,0a2.3,2.3 0 1,0 -4.6,0M316.8,157.1a2.3,2.3 0 1,0 4.6,0a2.3,2.3 0 1,0 -4.6,0M379.9,134.3a2.3,2.3 0 1,0 4.6,0a2.3,2.3 0 1,0 -4.6,0M394.0,212.4a2.3,2.3 0 1,0 4.6,0a2.3,2.3 0 1,0 -4.6,0M566.6,320.6a2.3,2.3 0 1,0 4.6,0a2.3,2.3 0 1,0 -4.6,0M338.5,148.1a2.3,2.3 0 1,0 4.6,0a2.3,2.3 0 1,0 -4.6,0M362.7,175.3a2.3,2.3 0 1,0 4.6,0a2.3,2.3 0 1,0 -4.6,0M507.3,148.2a2.3,2.3 0 1,0 4.6,0a2.3,2.3 0 1,0 -4.6,0M398.7,174.1a2.3,2.3 0 1,0 4.6,0a2.3,2.3 0 1,0 -4.6,0M365.6,123.1a2.3,2.3 0 1,0 4.6,0a2.3,2.3 0 1,0 -4.6,0M331.5,100.4a2.3,2.3 0 1,0 4.6,0a2.3,2.3 0 1,0 -4.6,0M393.3,211.0a2.3,2.3 0 1,0 4.6,0a2.3,2.3 0 1,0 -4.6,0M390.1,178.1a2.3,2.3 0 1,0 4.6,0a2.3,2.3 0 1,0 -4.6,0M318.0,98.1a2.3,2.3 0 1,0 4.6,0a2.3,2.3 0 1,0 -4.6,0M332.8,110.4a2.3,2.3 0 1,0 4.6,0a2.3,2.3 0 1,0 -4.6,0M450.6,288.8a2.3,2.3 0 1,0 4.6,0a2.3,2.3 0 1,0 -4.6,0M368.3,193.5a2.3,2.3 0 1,0 4.6,0a2.3,2.3 0 1,0 -4.6,0M407.3,167.5a2.3,2.3 0 1,0 4.6,0a2.3,2.3 0 1,0 -4.6,0M394.1,170.4a2.3,2.3 0 1,0 4.6,0a2.3,2.3 0 1,0 -4.6,0M400.7,155.3a2.3,2.3 0 1,0 4.6,0a2.3,2.3 0 1,0 -4.6,0M382.6,140.4a2.3,2.3 0 1,0 4.6,0a2.3,2.3 0 1,0 -4.6,0M317.0,111.6a2.3,2.3 0 1,0 4.6,0a2.3,2.3 0 1,0 -4.6,0M391.2,154.3a2.3,2.3 0 1,0 4.6,0a2.3,2.3 0 1,0 -4.6,0M553.7,253.4a2.3,2.3 0 1,0 4.6,0a2.3,2.3 0 1,0 -4.6,0M418.6,231.8a2.3,2.3 0 1,0 4.6,0a2.3,2.3 0 1,0 -4.6,0M330.6,108.1a2.3,2.3 0 1,0 4.6,0a2.3,2.3 0 1,0 -4.6,0M385.2,153.5a2.3,2.3 0 1,0 4.6,0a2.3,2.3 0 1,0 -4.6,0M331.6,157.1a2.3,2.3 0 1,0 4.6,0a2.3,2.3 0 1,0 -4.6,0M364.6,190.9a2.3,2.3 0 1,0 4.6,0a2.3,2.3 0 1,0 -4.6,0M364.4,187.9a2.3,2.3 0 1,0 4.6,0a2.3,2.3 0 1,0 -4.6,0M328.7,149.3a2.3,2.3 0 1,0 4.6,0a2.3,2.3 0 1,0 -4.6,0M364.4,129.8a2.3,2.3 0 1,0 4.6,0a2.3,2.3 0 1,0 -4.6,0M373.5,119.1a2.3,2.3 0 1,0 4.6,0a2.3,2.3 0 1,0 -4.6,0M543.0,351.8a2.3,2.3 0 1,0 4.6,0a2.3,2.3 0 1,0 -4.6,0M302.0,107.8a2.3,2.3 0 1,0 4.6,0a2.3,2.3 0 1,0 -4.6,0M379.6,201.8a2.3,2.3 0 1,0 4.6,0a2.3,2.3 0 1,0 -4.6,0M397.0,181.7a2.3,2.3 0 1,0 4.6,0a2.3,2.3 0 1,0 -4.6,0M368.4,118.7a2.3,2.3 0 1,0 4.6,0a2.3,2.3 0 1,0 -4.6,0M495.7,139.1a2.3,2.3 0 1,0 4.6,0a2.3,2.3 0 1,0 -4.6,0M489.3,126.3a2.3,2.3 0 1,0 4.6,0a2.3,2.3 0 1,0 -4.6,0M366.2,119.4a2.3,2.3 0 1,0 4.6,0a2.3,2.3 0 1,0 -4.6,0M458.5,78.9a2.3,2.3 0 1,0 4.6,0a2.3,2.3 0 1,0 -4.6,0M357.6,173.0a2.3,2.3 0 1,0 4.6,0a2.3,2.3 0 1,0 -4.6,0M363.4,176.2a2.3,2.3 0 1,0 4.6,0a2.3,2.3 0 1,0 -4.6,0M534.2,184.6a2.3,2.3 0 1,0 4.6,0a2.3,2.3 0 1,0 -4.6,0M376.9,137.6a2.3,2.3 0 1,0 4.6,0a2.3,2.3 0 1,0 -4.6,0M300.6,155.9a2.3,2.3 0 1,0 4.6,0a2.3,2.3 0 1,0 -4.6,0M352.7,105.6a2.3,2.3 0 1,0 4.6,0a2.3,2.3 0 1,0 -4.6,0M566.4,338.5a2.3,2.3 0 1,0 4.6,0a2.3,2.3 0 1,0 -4.6,0M549.7,238.9a2.3,2.3 0 1,0 4.6,0a2.3,2.3 0 1,0 -4.6,0M439.1,267.5a2.3,2.3 0 1,0 4.6,0a2.3,2.3 0 1,0 -4.6,0M352.7,124.6a2.3,2.3 0 1,0 4.6,0a2.3,2.3 0 1,0 -4.6,0M485.5,108.9a2.3,2.3 0 1,0 4.6,0a2.3,2.3 0 1,0 -4.6,0M481.0,328.1a2.3,2.3 0 1,0 4.6,0a2.3,2.3 0 1,0 -4.6,0M542.1,237.6a2.3,2.3 0 1,0 4.6,0a2.3,2.3 0 1,0 -4.6,0M388.4,168.0a2.3,2.3 0 1,0 4.6,0a2.3,2.3 0 1,0 -4.6,0M407.6,187.6a2.3,2.3 0 1,0 4.6,0a2.3,2.3 0 1,0 -4.6,0M314.1,117.7a2.3,2.3 0 1,0 4.6,0a2.3,2.3 0 1,0 -4.6,0M518.3,344.6a2.3,2.3 0 1,0 4.6,0a2.3,2.3 0 1,0 -4.6,0M449.7,71.6a2.3,2.3 0 1,0 4.6,0a2.3,2.3 0 1,0 -4.6,0M393.2,138.7a2.3,2.3 0 1,0 4.6,0a2.3,2.3 0 1,0 -4.6,0M481.8,88.0a2.3,2.3 0 1,0 4.6,0a2.3,2.3 0 1,0 -4.6,0M318.0,127.1a2.3,2.3 0 1,0 4.6,0a2.3,2.3 0 1,0 -4.6,0M379.2,151.4a2.3,2.3 0 1,0 4.6,0a2.3,2.3 0 1,0 -4.6,0M365.7,137.7a2.3,2.3 0 1,0 4.6,0a2.3,2.3 0 1,0 -4.6,0M314.9,145.4a2.3,2.3 0 1,0 4.6,0a2.3,2.3 0 1,0 -4.6,0M388.7,141.8a2.3,2.3 0 1,0 4.6,0a2.3,2.3 0 1,0 -4.6,0M330.5,137.9a2.3,2.3 0 1,0 4.6,0a2.3,2.3 0 1,0 -4.6,0M558.8,347.0a2.3,2.3 0 1,0 4.6,0a2.3,2.3 0 1,0 -4.6,0M567.5,313.8a2.3,2.3 0 1,0 4.6,0a2.3,2.3 0 1,0 -4.6,0M531.8,199.3a2.3,2.3 0 1,0 4.6,0a2.3,2.3 0 1,0 -4.6,0M338.7,185.3a2.3,2.3 0 1,0 4.6,0a2.3,2.3 0 1,0 -4.6,0M521.4,203.6a2.3,2.3 0 1,0 4.6,0a2.3,2.3 0 1,0 -4.6,0M491.2,125.7a2.3,2.3 0 1,0 4.6,0a2.3,2.3 0 1,0 -4.6,0M492.3,126.9a2.3,2.3 0 1,0 4.6,0a2.3,2.3 0 1,0 -4.6,0M515.7,192.9a2.3,2.3 0 1,0 4.6,0a2.3,2.3 0 1,0 -4.6,0M370.5,115.5a2.3,2.3 0 1,0 4.6,0a2.3,2.3 0 1,0 -4.6,0M565.1,284.3a2.3,2.3 0 1,0 4.6,0a2.3,2.3 0 1,0 -4.6,0M563.0,348.2a2.3,2.3 0 1,0 4.6,0a2.3,2.3 0 1,0 -4.6,0M336.1,123.0a2.3,2.3 0 1,0 4.6,0a2.3,2.3 0 1,0 -4.6,0M461.7,294.0a2.3,2.3 0 1,0 4.6,0a2.3,2.3 0 1,0 -4.6,0M307.9,106.7a2.3,2.3 0 1,0 4.6,0a2.3,2.3 0 1,0 -4.6,0M307.0,91.8a2.3,2.3 0 1,0 4.6,0a2.3,2.3 0 1,0 -4.6,0M408.1,233.9a2.3,2.3 0 1,0 4.6,0a2.3,2.3 0 1,0 -4.6,0M372.4,177.7a2.3,2.3 0 1,0 4.6,0a2.3,2.3 0 1,0 -4.6,0M417.2,268.3a2.3,2.3 0 1,0 4.6,0a2.3,2.3 0 1,0 -4.6,0M572.4,288.0a2.3,2.3 0 1,0 4.6,0a2.3,2.3 0 1,0 -4.6,0M395.0,227.0a2.3,2.3 0 1,0 4.6,0a2.3,2.3 0 1,0 -4.6,0M399.2,161.1a2.3,2.3 0 1,0 4.6,0a2.3,2.3 0 1,0 -4.6,0M494.6,123.8a2.3,2.3 0 1,0 4.6,0a2.3,2.3 0 1,0 -4.6,0M342.1,136.9a2.3,2.3 0 1,0 4.6,0a2.3,2.3 0 1,0 -4.6,0M527.2,197.3a2.3,2.3 0 1,0 4.6,0a2.3,2.3 0 1,0 -4.6,0M370.5,131.2a2.3,2.3 0 1,0 4.6,0a2.3,2.3 0 1,0 -4.6,0M553.5,258.6a2.3,2.3 0 1,0 4.6,0a2.3,2.3 0 1,0 -4.6,0M288.8,138.1a2.3,2.3 0 1,0 4.6,0a2.3,2.3 0 1,0 -4.6,0M392.8,173.5a2.3,2.3 0 1,0 4.6,0a2.3,2.3 0 1,0 -4.6,0M378.5,137.3a2.3,2.3 0 1,0 4.6,0a2.3,2.3 0 1,0 -4.6,0M487.4,323.8a2.3,2.3 0 1,0 4.6,0a2.3,2.3 0 1,0 -4.6,0M428.5,250.4a2.3,2.3 0 1,0 4.6,0a2.3,2.3 0 1,0 -4.6,0M405.2,180.6a2.3,2.3 0 1,0 4.6,0a2.3,2.3 0 1,0 -4.6,0M393.9,147.1a2.3,2.3 0 1,0 4.6,0a2.3,2.3 0 1,0 -4.6,0M396.1,144.0a2.3,2.3 0 1,0 4.6,0a2.3,2.3 0 1,0 -4.6,0M494.0,333.2a2.3,2.3 0 1,0 4.6,0a2.3,2.3 0 1,0 -4.6,0M345.7,153.5a2.3,2.3 0 1,0 4.6,0a2.3,2.3 0 1,0 -4.6,0M448.7,71.9a2.3,2.3 0 1,0 4.6,0a2.3,2.3 0 1,0 -4.6,0M445.9,302.5a2.3,2.3 0 1,0 4.6,0a2.3,2.3 0 1,0 -4.6,0M542.6,242.6a2.3,2.3 0 1,0 4.6,0a2.3,2.3 0 1,0 -4.6,0M306.8,100.5a2.3,2.3 0 1,0 4.6,0a2.3,2.3 0 1,0 -4.6,0M396.8,217.5a2.3,2.3 0 1,0 4.6,0a2.3,2.3 0 1,0 -4.6,0M464.9,307.0a2.3,2.3 0 1,0 4.6,0a2.3,2.3 0 1,0 -4.6,0M393.9,198.4a2.3,2.3 0 1,0 4.6,0a2.3,2.3 0 1,0 -4.6,0M368.1,141.9a2.3,2.3 0 1,0 4.6,0a2.3,2.3 0 1,0 -4.6,0M375.1,113.2a2.3,2.3 0 1,0 4.6,0a2.3,2.3 0 1,0 -4.6,0M501.9,151.5a2.3,2.3 0 1,0 4.6,0a2.3,2.3 0 1,0 -4.6,0M461.2,83.0a2.3,2.3 0 1,0 4.6,0a2.3,2.3 0 1,0 -4.6,0M360.4,110.8a2.3,2.3 0 1,0 4.6,0a2.3,2.3 0 1,0 -4.6,0M288.9,125.2a2.3,2.3 0 1,0 4.6,0a2.3,2.3 0 1,0 -4.6,0M405.1,156.0a2.3,2.3 0 1,0 4.6,0a2.3,2.3 0 1,0 -4.6,0M394.7,160.6a2.3,2.3 0 1,0 4.6,0a2.3,2.3 0 1,0 -4.6,0M362.9,148.2a2.3,2.3 0 1,0 4.6,0a2.3,2.3 0 1,0 -4.6,0M393.5,200.1a2.3,2.3 0 1,0 4.6,0a2.3,2.3 0 1,0 -4.6,0M304.5,141.8a2.3,2.3 0 1,0 4.6,0a2.3,2.3 0 1,0 -4.6,0M434.4,291.1a2.3,2.3 0 1,0 4.6,0a2.3,2.3 0 1,0 -4.6,0M384.9,130.4a2.3,2.3 0 1,0 4.6,0a2.3,2.3 0 1,0 -4.6,0M392.4,188.6a2.3,2.3 0 1,0 4.6,0a2.3,2.3 0 1,0 -4.6,0M480.1,94.8a2.3,2.3 0 1,0 4.6,0a2.3,2.3 0 1,0 -4.6,0M340.8,154.4a2.3,2.3 0 1,0 4.6,0a2.3,2.3 0 1,0 -4.6,0M364.0,142.0a2.3,2.3 0 1,0 4.6,0a2.3,2.3 0 1,0 -4.6,0M479.8,81.7a2.3,2.3 0 1,0 4.6,0a2.3,2.3 0 1,0 -4.6,0M382.1,194.9a2.3,2.3 0 1,0 4.6,0a2.3,2.3 0 1,0 -4.6,0M380.0,134.2a2.3,2.3 0 1,0 4.6,0a2.3,2.3 0 1,0 -4.6,0M379.3,127.3a2.3,2.3 0 1,0 4.6,0a2.3,2.3 0 1,0 -4.6,0M300.2,137.9a2.3,2.3 0 1,0 4.6,0a2.3,2.3 0 1,0 -4.6,0M315.2,81.0a2.3,2.3 0 1,0 4.6,0a2.3,2.3 0 1,0 -4.6,0M344.2,158.5a2.3,2.3 0 1,0 4.6,0a2.3,2.3 0 1,0 -4.6,0M349.5,130.3a2.3,2.3 0 1,0 4.6,0a2.3,2.3 0 1,0 -4.6,0M414.3,268.6a2.3,2.3 0 1,0 4.6,0a2.3,2.3 0 1,0 -4.6,0M377.7,201.4a2.3,2.3 0 1,0 4.6,0a2.3,2.3 0 1,0 -4.6,0M383.2,141.2a2.3,2.3 0 1,0 4.6,0a2.3,2.3 0 1,0 -4.6,0M394.1,176.9a2.3,2.3 0 1,0 4.6,0a2.3,2.3 0 1,0 -4.6,0M299.8,139.5a2.3,2.3 0 1,0 4.6,0a2.3,2.3 0 1,0 -4.6,0M403.5,155.6a2.3,2.3 0 1,0 4.6,0a2.3,2.3 0 1,0 -4.6,0M338.8,135.6a2.3,2.3 0 1,0 4.6,0a2.3,2.3 0 1,0 -4.6,0M423.2,262.0a2.3,2.3 0 1,0 4.6,0a2.3,2.3 0 1,0 -4.6,0M440.0,269.7a2.3,2.3 0 1,0 4.6,0a2.3,2.3 0 1,0 -4.6,0M344.2,98.5a2.3,2.3 0 1,0 4.6,0a2.3,2.3 0 1,0 -4.6,0M512.4,184.1a2.3,2.3 0 1,0 4.6,0a2.3,2.3 0 1,0 -4.6,0M570.5,303.0a2.3,2.3 0 1,0 4.6,0a2.3,2.3 0 1,0 -4.6,0M383.2,149.8a2.3,2.3 0 1,0 4.6,0a2.3,2.3 0 1,0 -4.6,0M400.7,227.2a2.3,2.3 0 1,0 4.6,0a2.3,2.3 0 1,0 -4.6,0M347.3,113.9a2.3,2.3 0 1,0 4.6,0a2.3,2.3 0 1,0 -4.6,0M350.4,144.6a2.3,2.3 0 1,0 4.6,0a2.3,2.3 0 1,0 -4.6,0M494.7,132.2a2.3,2.3 0 1,0 4.6,0a2.3,2.3 0 1,0 -4.6,0M381.2,134.5a2.3,2.3 0 1,0 4.6,0a2.3,2.3 0 1,0 -4.6,0M439.5,288.2a2.3,2.3 0 1,0 4.6,0a2.3,2.3 0 1,0 -4.6,0M383.3,148.8a2.3,2.3 0 1,0 4.6,0a2.3,2.3 0 1,0 -4.6,0M402.0,224.1a2.3,2.3 0 1,0 4.6,0a2.3,2.3 0 1,0 -4.6,0M538.5,226.4a2.3,2.3 0 1,0 4.6,0a2.3,2.3 0 1,0 -4.6,0M569.4,305.7a2.3,2.3 0 1,0 4.6,0a2.3,2.3 0 1,0 -4.6,0M388.7,167.4a2.3,2.3 0 1,0 4.6,0a2.3,2.3 0 1,0 -4.6,0M400.3,148.5a2.3,2.3 0 1,0 4.6,0a2.3,2.3 0 1,0 -4.6,0M444.0,281.1a2.3,2.3 0 1,0 4.6,0a2.3,2.3 0 1,0 -4.6,0M531.7,227.1a2.3,2.3 0 1,0 4.6,0a2.3,2.3 0 1,0 -4.6,0M457.8,294.2a2.3,2.3 0 1,0 4.6,0a2.3,2.3 0 1,0 -4.6,0M486.4,88.1a2.3,2.3 0 1,0 4.6,0a2.3,2.3 0 1,0 -4.6,0M427.5,256.3a2.3,2.3 0 1,0 4.6,0a2.3,2.3 0 1,0 -4.6,0M364.0,146.4a2.3,2.3 0 1,0 4.6,0a2.3,2.3 0 1,0 -4.6,0M372.4,112.0a2.3,2.3 0 1,0 4.6,0a2.3,2.3 0 1,0 -4.6,0M535.4,201.7a2.3,2.3 0 1,0 4.6,0a2.3,2.3 0 1,0 -4.6,0M394.0,131.3a2.3,2.3 0 1,0 4.6,0a2.3,2.3 0 1,0 -4.6,0M406.4,165.6a2.3,2.3 0 1,0 4.6,0a2.3,2.3 0 1,0 -4.6,0M497.5,127.6a2.3,2.3 0 1,0 4.6,0a2.3,2.3 0 1,0 -4.6,0M507.8,153.0a2.3,2.3 0 1,0 4.6,0a2.3,2.3 0 1,0 -4.6,0M481.4,321.9a2.3,2.3 0 1,0 4.6,0a2.3,2.3 0 1,0 -4.6,0M516.2,170.4a2.3,2.3 0 1,0 4.6,0a2.3,2.3 0 1,0 -4.6,0M421.1,246.5a2.3,2.3 0 1,0 4.6,0a2.3,2.3 0 1,0 -4.6,0M425.2,264.0a2.3,2.3 0 1,0 4.6,0a2.3,2.3 0 1,0 -4.6,0M374.4,124.2a2.3,2.3 0 1,0 4.6,0a2.3,2.3 0 1,0 -4.6,0M352.8,115.1a2.3,2.3 0 1,0 4.6,0a2.3,2.3 0 1,0 -4.6,0M399.9,156.0a2.3,2.3 0 1,0 4.6,0a2.3,2.3 0 1,0 -4.6,0M341.1,104.7a2.3,2.3 0 1,0 4.6,0a2.3,2.3 0 1,0 -4.6,0M364.5,113.7a2.3,2.3 0 1,0 4.6,0a2.3,2.3 0 1,0 -4.6,0M531.7,201.6a2.3,2.3 0 1,0 4.6,0a2.3,2.3 0 1,0 -4.6,0M387.2,178.3a2.3,2.3 0 1,0 4.6,0a2.3,2.3 0 1,0 -4.6,0M325.9,113.9a2.3,2.3 0 1,0 4.6,0a2.3,2.3 0 1,0 -4.6,0M384.2,187.1a2.3,2.3 0 1,0 4.6,0a2.3,2.3 0 1,0 -4.6,0M416.9,232.4a2.3,2.3 0 1,0 4.6,0a2.3,2.3 0 1,0 -4.6,0M391.1,148.0a2.3,2.3 0 1,0 4.6,0a2.3,2.3 0 1,0 -4.6,0M528.0,176.6a2.3,2.3 0 1,0 4.6,0a2.3,2.3 0 1,0 -4.6,0M570.2,286.8a2.3,2.3 0 1,0 4.6,0a2.3,2.3 0 1,0 -4.6,0M497.6,138.1a2.3,2.3 0 1,0 4.6,0a2.3,2.3 0 1,0 -4.6,0M343.3,101.5a2.3,2.3 0 1,0 4.6,0a2.3,2.3 0 1,0 -4.6,0M346.2,116.9a2.3,2.3 0 1,0 4.6,0a2.3,2.3 0 1,0 -4.6,0M507.3,162.5a2.3,2.3 0 1,0 4.6,0a2.3,2.3 0 1,0 -4.6,0M465.2,313.6a2.3,2.3 0 1,0 4.6,0a2.3,2.3 0 1,0 -4.6,0M427.3,247.4a2.3,2.3 0 1,0 4.6,0a2.3,2.3 0 1,0 -4.6,0M531.3,221.4a2.3,2.3 0 1,0 4.6,0a2.3,2.3 0 1,0 -4.6,0M328.3,94.8a2.3,2.3 0 1,0 4.6,0a2.3,2.3 0 1,0 -4.6,0M332.3,160.7a2.3,2.3 0 1,0 4.6,0a2.3,2.3 0 1,0 -4.6,0M425.3,265.3a2.3,2.3 0 1,0 4.6,0a2.3,2.3 0 1,0 -4.6,0M299.8,136.3a2.3,2.3 0 1,0 4.6,0a2.3,2.3 0 1,0 -4.6,0M310.4,119.2a2.3,2.3 0 1,0 4.6,0a2.3,2.3 0 1,0 -4.6,0M418.5,240.1a2.3,2.3 0 1,0 4.6,0a2.3,2.3 0 1,0 -4.6,0M298.4,136.4a2.3,2.3 0 1,0 4.6,0a2.3,2.3 0 1,0 -4.6,0M388.9,165.4a2.3,2.3 0 1,0 4.6,0a2.3,2.3 0 1,0 -4.6,0M564.3,300.5a2.3,2.3 0 1,0 4.6,0a2.3,2.3 0 1,0 -4.6,0M346.7,192.3a2.3,2.3 0 1,0 4.6,0a2.3,2.3 0 1,0 -4.6,0M404.0,158.2a2.3,2.3 0 1,0 4.6,0a2.3,2.3 0 1,0 -4.6,0M506.7,342.5a2.3,2.3 0 1,0 4.6,0a2.3,2.3 0 1,0 -4.6,0M367.0,158.1a2.3,2.3 0 1,0 4.6,0a2.3,2.3 0 1,0 -4.6,0M405.4,188.2a2.3,2.3 0 1,0 4.6,0a2.3,2.3 0 1,0 -4.6,0M379.5,206.0a2.3,2.3 0 1,0 4.6,0a2.3,2.3 0 1,0 -4.6,0M288.6,142.5a2.3,2.3 0 1,0 4.6,0a2.3,2.3 0 1,0 -4.6,0M351.3,189.2a2.3,2.3 0 1,0 4.6,0a2.3,2.3 0 1,0 -4.6,0M398.3,212.1a2.3,2.3 0 1,0 4.6,0a2.3,2.3 0 1,0 -4.6,0M331.5,142.1a2.3,2.3 0 1,0 4.6,0a2.3,2.3 0 1,0 -4.6,0M378.4,163.8a2.3,2.3 0 1,0 4.6,0a2.3,2.3 0 1,0 -4.6,0M344.6,125.6a2.3,2.3 0 1,0 4.6,0a2.3,2.3 0 1,0 -4.6,0M566.3,283.2a2.3,2.3 0 1,0 4.6,0a2.3,2.3 0 1,0 -4.6,0M312.7,134.2a2.3,2.3 0 1,0 4.6,0a2.3,2.3 0 1,0 -4.6,0M381.8,115.8a2.3,2.3 0 1,0 4.6,0a2.3,2.3 0 1,0 -4.6,0M352.8,159.6a2.3,2.3 0 1,0 4.6,0a2.3,2.3 0 1,0 -4.6,0M454.7,71.8a2.3,2.3 0 1,0 4.6,0a2.3,2.3 0 1,0 -4.6,0M324.6,109.4a2.3,2.3 0 1,0 4.6,0a2.3,2.3 0 1,0 -4.6,0M433.2,256.7a2.3,2.3 0 1,0 4.6,0a2.3,2.3 0 1,0 -4.6,0M336.1,123.8a2.3,2.3 0 1,0 4.6,0a2.3,2.3 0 1,0 -4.6,0M356.2,134.0a2.3,2.3 0 1,0 4.6,0a2.3,2.3 0 1,0 -4.6,0M525.2,210.7a2.3,2.3 0 1,0 4.6,0a2.3,2.3 0 1,0 -4.6,0M526.4,208.4a2.3,2.3 0 1,0 4.6,0a2.3,2.3 0 1,0 -4.6,0M551.7,271.5a2.3,2.3 0 1,0 4.6,0a2.3,2.3 0 1,0 -4.6,0M488.7,324.7a2.3,2.3 0 1,0 4.6,0a2.3,2.3 0 1,0 -4.6,0M347.9,119.4a2.3,2.3 0 1,0 4.6,0a2.3,2.3 0 1,0 -4.6,0M333.1,134.7a2.3,2.3 0 1,0 4.6,0a2.3,2.3 0 1,0 -4.6,0M318.6,96.2a2.3,2.3 0 1,0 4.6,0a2.3,2.3 0 1,0 -4.6,0M515.7,158.1a2.3,2.3 0 1,0 4.6,0a2.3,2.3 0 1,0 -4.6,0M404.6,216.1a2.3,2.3 0 1,0 4.6,0a2.3,2.3 0 1,0 -4.6,0M312.4,128.3a2.3,2.3 0 1,0 4.6,0a2.3,2.3 0 1,0 -4.6,0M483.1,108.2a2.3,2.3 0 1,0 4.6,0a2.3,2.3 0 1,0 -4.6,0M357.5,125.5a2.3,2.3 0 1,0 4.6,0a2.3,2.3 0 1,0 -4.6,0M539.7,235.2a2.3,2.3 0 1,0 4.6,0a2.3,2.3 0 1,0 -4.6,0M393.0,207.6a2.3,2.3 0 1,0 4.6,0a2.3,2.3 0 1,0 -4.6,0M401.0,224.1a2.3,2.3 0 1,0 4.6,0a2.3,2.3 0 1,0 -4.6,0M372.4,167.8a2.3,2.3 0 1,0 4.6,0a2.3,2.3 0 1,0 -4.6,0M395.4,138.1a2.3,2.3 0 1,0 4.6,0a2.3,2.3 0 1,0 -4.6,0M571.4,331.4a2.3,2.3 0 1,0 4.6,0a2.3,2.3 0 1,0 -4.6,0M370.6,135.1a2.3,2.3 0 1,0 4.6,0a2.3,2.3 0 1,0 -4.6,0M366.3,190.5a2.3,2.3 0 1,0 4.6,0a2.3,2.3 0 1,0 -4.6,0M452.4,283.8a2.3,2.3 0 1,0 4.6,0a2.3,2.3 0 1,0 -4.6,0M336.7,132.3a2.3,2.3 0 1,0 4.6,0a2.3,2.3 0 1,0 -4.6,0M470.4,301.4a2.3,2.3 0 1,0 4.6,0a2.3,2.3 0 1,0 -4.6,0M379.7,161.7a2.3,2.3 0 1,0 4.6,0a2.3,2.3 0 1,0 -4.6,0M416.2,244.1a2.3,2.3 0 1,0 4.6,0a2.3,2.3 0 1,0 -4.6,0M310.3,112.3a2.3,2.3 0 1,0 4.6,0a2.3,2.3 0 1,0 -4.6,0M400.1,189.7a2.3,2.3 0 1,0 4.6,0a2.3,2.3 0 1,0 -4.6,0M371.7,182.1a2.3,2.3 0 1,0 4.6,0a2.3,2.3 0 1,0 -4.6,0M445.9,273.6a2.3,2.3 0 1,0 4.6,0a2.3,2.3 0 1,0 -4.6,0M343.1,118.3a2.3,2.3 0 1,0 4.6,0a2.3,2.3 0 1,0 -4.6,0M482.4,103.4a2.3,2.3 0 1,0 4.6,0a2.3,2.3 0 1,0 -4.6,0M388.7,190.0a2.3,2.3 0 1,0 4.6,0a2.3,2.3 0 1,0 -4.6,0M335.2,137.5a2.3,2.3 0 1,0 4.6,0a2.3,2.3 0 1,0 -4.6,0M424.8,240.5a2.3,2.3 0 1,0 4.6,0a2.3,2.3 0 1,0 -4.6,0M526.9,171.4a2.3,2.3 0 1,0 4.6,0a2.3,2.3 0 1,0 -4.6,0M504.1,156.0a2.3,2.3 0 1,0 4.6,0a2.3,2.3 0 1,0 -4.6,0M374.5,190.4a2.3,2.3 0 1,0 4.6,0a2.3,2.3 0 1,0 -4.6,0M565.2,320.0a2.3,2.3 0 1,0 4.6,0a2.3,2.3 0 1,0 -4.6,0M338.1,147.1a2.3,2.3 0 1,0 4.6,0a2.3,2.3 0 1,0 -4.6,0M383.6,199.8a2.3,2.3 0 1,0 4.6,0a2.3,2.3 0 1,0 -4.6,0M367.0,120.8a2.3,2.3 0 1,0 4.6,0a2.3,2.3 0 1,0 -4.6,0M356.2,148.8a2.3,2.3 0 1,0 4.6,0a2.3,2.3 0 1,0 -4.6,0M360.8,126.2a2.3,2.3 0 1,0 4.6,0a2.3,2.3 0 1,0 -4.6,0M358.7,121.6a2.3,2.3 0 1,0 4.6,0a2.3,2.3 0 1,0 -4.6,0M332.1,181.8a2.3,2.3 0 1,0 4.6,0a2.3,2.3 0 1,0 -4.6,0M431.7,289.4a2.3,2.3 0 1,0 4.6,0a2.3,2.3 0 1,0 -4.6,0M530.5,218.8a2.3,2.3 0 1,0 4.6,0a2.3,2.3 0 1,0 -4.6,0M411.5,228.1a2.3,2.3 0 1,0 4.6,0a2.3,2.3 0 1,0 -4.6,0M420.7,240.5a2.3,2.3 0 1,0 4.6,0a2.3,2.3 0 1,0 -4.6,0M310.4,77.7a2.3,2.3 0 1,0 4.6,0a2.3,2.3 0 1,0 -4.6,0M481.1,103.8a2.3,2.3 0 1,0 4.6,0a2.3,2.3 0 1,0 -4.6,0M418.9,242.5a2.3,2.3 0 1,0 4.6,0a2.3,2.3 0 1,0 -4.6,0M283.3,129.4a2.3,2.3 0 1,0 4.6,0a2.3,2.3 0 1,0 -4.6,0M350.8,161.9a2.3,2.3 0 1,0 4.6,0a2.3,2.3 0 1,0 -4.6,0M406.2,245.4a2.3,2.3 0 1,0 4.6,0a2.3,2.3 0 1,0 -4.6,0M312.0,104.7a2.3,2.3 0 1,0 4.6,0a2.3,2.3 0 1,0 -4.6,0M423.1,241.5a2.3,2.3 0 1,0 4.6,0a2.3,2.3 0 1,0 -4.6,0M336.1,111.1a2.3,2.3 0 1,0 4.6,0a2.3,2.3 0 1,0 -4.6,0M356.1,133.5a2.3,2.3 0 1,0 4.6,0a2.3,2.3 0 1,0 -4.6,0M413.5,228.7a2.3,2.3 0 1,0 4.6,0a2.3,2.3 0 1,0 -4.6,0M403.0,215.2a2.3,2.3 0 1,0 4.6,0a2.3,2.3 0 1,0 -4.6,0M365.0,145.2a2.3,2.3 0 1,0 4.6,0a2.3,2.3 0 1,0 -4.6,0M557.5,282.2a2.3,2.3 0 1,0 4.6,0a2.3,2.3 0 1,0 -4.6,0M411.9,229.7a2.3,2.3 0 1,0 4.6,0a2.3,2.3 0 1,0 -4.6,0M311.0,88.5a2.3,2.3 0 1,0 4.6,0a2.3,2.3 0 1,0 -4.6,0M488.0,332.5a2.3,2.3 0 1,0 4.6,0a2.3,2.3 0 1,0 -4.6,0M340.9,149.7a2.3,2.3 0 1,0 4.6,0a2.3,2.3 0 1,0 -4.6,0M476.9,323.5a2.3,2.3 0 1,0 4.6,0a2.3,2.3 0 1,0 -4.6,0M542.5,247.1a2.3,2.3 0 1,0 4.6,0a2.3,2.3 0 1,0 -4.6,0M374.6,192.8a2.3,2.3 0 1,0 4.6,0a2.3,2.3 0 1,0 -4.6,0M297.6,74.3a2.3,2.3 0 1,0 4.6,0a2.3,2.3 0 1,0 -4.6,0M550.3,355.1a2.3,2.3 0 1,0 4.6,0a2.3,2.3 0 1,0 -4.6,0M281.4,121.2a2.3,2.3 0 1,0 4.6,0a2.3,2.3 0 1,0 -4.6,0M544.5,232.4a2.3,2.3 0 1,0 4.6,0a2.3,2.3 0 1,0 -4.6,0M568.1,338.6a2.3,2.3 0 1,0 4.6,0a2.3,2.3 0 1,0 -4.6,0M383.9,188.3a2.3,2.3 0 1,0 4.6,0a2.3,2.3 0 1,0 -4.6,0M474.8,82.8a2.3,2.3 0 1,0 4.6,0a2.3,2.3 0 1,0 -4.6,0M342.6,196.9a2.3,2.3 0 1,0 4.6,0a2.3,2.3 0 1,0 -4.6,0M305.1,140.4a2.3,2.3 0 1,0 4.6,0a2.3,2.3 0 1,0 -4.6,0M437.0,268.7a2.3,2.3 0 1,0 4.6,0a2.3,2.3 0 1,0 -4.6,0M390.5,170.3a2.3,2.3 0 1,0 4.6,0a2.3,2.3 0 1,0 -4.6,0M368.4,136.4a2.3,2.3 0 1,0 4.6,0a2.3,2.3 0 1,0 -4.6,0M370.3,163.7a2.3,2.3 0 1,0 4.6,0a2.3,2.3 0 1,0 -4.6,0M509.8,173.0a2.3,2.3 0 1,0 4.6,0a2.3,2.3 0 1,0 -4.6,0M323.9,140.8a2.3,2.3 0 1,0 4.6,0a2.3,2.3 0 1,0 -4.6,0M325.5,176.0a2.3,2.3 0 1,0 4.6,0a2.3,2.3 0 1,0 -4.6,0M405.9,255.5a2.3,2.3 0 1,0 4.6,0a2.3,2.3 0 1,0 -4.6,0M493.5,123.8a2.3,2.3 0 1,0 4.6,0a2.3,2.3 0 1,0 -4.6,0M468.8,303.8a2.3,2.3 0 1,0 4.6,0a2.3,2.3 0 1,0 -4.6,0M323.5,108.5a2.3,2.3 0 1,0 4.6,0a2.3,2.3 0 1,0 -4.6,0M493.3,332.4a2.3,2.3 0 1,0 4.6,0a2.3,2.3 0 1,0 -4.6,0M369.8,142.5a2.3,2.3 0 1,0 4.6,0a2.3,2.3 0 1,0 -4.6,0M388.5,173.3a2.3,2.3 0 1,0 4.6,0a2.3,2.3 0 1,0 -4.6,0M338.8,112.7a2.3,2.3 0 1,0 4.6,0a2.3,2.3 0 1,0 -4.6,0M406.9,163.4a2.3,2.3 0 1,0 4.6,0a2.3,2.3 0 1,0 -4.6,0M374.4,138.8a2.3,2.3 0 1,0 4.6,0a2.3,2.3 0 1,0 -4.6,0M328.1,139.2a2.3,2.3 0 1,0 4.6,0a2.3,2.3 0 1,0 -4.6,0M402.1,187.7a2.3,2.3 0 1,0 4.6,0a2.3,2.3 0 1,0 -4.6,0M370.6,124.4a2.3,2.3 0 1,0 4.6,0a2.3,2.3 0 1,0 -4.6,0M287.6,102.3a2.3,2.3 0 1,0 4.6,0a2.3,2.3 0 1,0 -4.6,0M279.1,121.2a2.3,2.3 0 1,0 4.6,0a2.3,2.3 0 1,0 -4.6,0M452.9,288.5a2.3,2.3 0 1,0 4.6,0a2.3,2.3 0 1,0 -4.6,0M370.8,182.2a2.3,2.3 0 1,0 4.6,0a2.3,2.3 0 1,0 -4.6,0M350.1,112.1a2.3,2.3 0 1,0 4.6,0a2.3,2.3 0 1,0 -4.6,0M497.2,136.6a2.3,2.3 0 1,0 4.6,0a2.3,2.3 0 1,0 -4.6,0M309.9,148.1a2.3,2.3 0 1,0 4.6,0a2.3,2.3 0 1,0 -4.6,0M384.4,200.4a2.3,2.3 0 1,0 4.6,0a2.3,2.3 0 1,0 -4.6,0M570.5,328.1a2.3,2.3 0 1,0 4.6,0a2.3,2.3 0 1,0 -4.6,0M317.6,174.6a2.3,2.3 0 1,0 4.6,0a2.3,2.3 0 1,0 -4.6,0M295.0,100.6a2.3,2.3 0 1,0 4.6,0a2.3,2.3 0 1,0 -4.6,0M401.1,228.6a2.3,2.3 0 1,0 4.6,0a2.3,2.3 0 1,0 -4.6,0M383.9,131.6a2.3,2.3 0 1,0 4.6,0a2.3,2.3 0 1,0 -4.6,0M434.3,286.4a2.3,2.3 0 1,0 4.6,0a2.3,2.3 0 1,0 -4.6,0M485.1,106.9a2.3,2.3 0 1,0 4.6,0a2.3,2.3 0 1,0 -4.6,0M357.2,110.8a2.3,2.3 0 1,0 4.6,0a2.3,2.3 0 1,0 -4.6,0M355.6,124.3a2.3,2.3 0 1,0 4.6,0a2.3,2.3 0 1,0 -4.6,0M430.2,274.7a2.3,2.3 0 1,0 4.6,0a2.3,2.3 0 1,0 -4.6,0M385.8,140.0a2.3,2.3 0 1,0 4.6,0a2.3,2.3 0 1,0 -4.6,0M365.8,115.3a2.3,2.3 0 1,0 4.6,0a2.3,2.3 0 1,0 -4.6,0M335.4,130.7a2.3,2.3 0 1,0 4.6,0a2.3,2.3 0 1,0 -4.6,0M396.1,149.0a2.3,2.3 0 1,0 4.6,0a2.3,2.3 0 1,0 -4.6,0M406.3,191.7a2.3,2.3 0 1,0 4.6,0a2.3,2.3 0 1,0 -4.6,0M523.5,172.3a2.3,2.3 0 1,0 4.6,0a2.3,2.3 0 1,0 -4.6,0M351.6,124.2a2.3,2.3 0 1,0 4.6,0a2.3,2.3 0 1,0 -4.6,0M334.9,152.4a2.3,2.3 0 1,0 4.6,0a2.3,2.3 0 1,0 -4.6,0M538.2,222.2a2.3,2.3 0 1,0 4.6,0a2.3,2.3 0 1,0 -4.6,0M435.9,266.7a2.3,2.3 0 1,0 4.6,0a2.3,2.3 0 1,0 -4.6,0M397.8,192.1a2.3,2.3 0 1,0 4.6,0a2.3,2.3 0 1,0 -4.6,0M492.4,119.8a2.3,2.3 0 1,0 4.6,0a2.3,2.3 0 1,0 -4.6,0M316.0,131.7a2.3,2.3 0 1,0 4.6,0a2.3,2.3 0 1,0 -4.6,0M364.1,106.5a2.3,2.3 0 1,0 4.6,0a2.3,2.3 0 1,0 -4.6,0M448.7,281.6a2.3,2.3 0 1,0 4.6,0a2.3,2.3 0 1,0 -4.6,0M361.3,197.0a2.3,2.3 0 1,0 4.6,0a2.3,2.3 0 1,0 -4.6,0M557.6,349.5a2.3,2.3 0 1,0 4.6,0a2.3,2.3 0 1,0 -4.6,0M465.8,85.1a2.3,2.3 0 1,0 4.6,0a2.3,2.3 0 1,0 -4.6,0M403.7,171.9a2.3,2.3 0 1,0 4.6,0a2.3,2.3 0 1,0 -4.6,0M327.4,89.3a2.3,2.3 0 1,0 4.6,0a2.3,2.3 0 1,0 -4.6,0M351.9,193.3a2.3,2.3 0 1,0 4.6,0a2.3,2.3 0 1,0 -4.6,0M377.1,143.2a2.3,2.3 0 1,0 4.6,0a2.3,2.3 0 1,0 -4.6,0M369.0,136.5a2.3,2.3 0 1,0 4.6,0a2.3,2.3 0 1,0 -4.6,0M463.0,77.8a2.3,2.3 0 1,0 4.6,0a2.3,2.3 0 1,0 -4.6,0M324.8,139.3a2.3,2.3 0 1,0 4.6,0a2.3,2.3 0 1,0 -4.6,0M307.5,123.2a2.3,2.3 0 1,0 4.6,0a2.3,2.3 0 1,0 -4.6,0M364.1,144.6a2.3,2.3 0 1,0 4.6,0a2.3,2.3 0 1,0 -4.6,0M474.1,93.6a2.3,2.3 0 1,0 4.6,0a2.3,2.3 0 1,0 -4.6,0M544.6,352.8a2.3,2.3 0 1,0 4.6,0a2.3,2.3 0 1,0 -4.6,0M556.1,263.0a2.3,2.3 0 1,0 4.6,0a2.3,2.3 0 1,0 -4.6,0M361.0,111.9a2.3,2.3 0 1,0 4.6,0a2.3,2.3 0 1,0 -4.6,0M431.3,249.5a2.3,2.3 0 1,0 4.6,0a2.3,2.3 0 1,0 -4.6,0M367.1,108.5a2.3,2.3 0 1,0 4.6,0a2.3,2.3 0 1,0 -4.6,0M345.6,163.3a2.3,2.3 0 1,0 4.6,0a2.3,2.3 0 1,0 -4.6,0M416.5,247.6a2.3,2.3 0 1,0 4.6,0a2.3,2.3 0 1,0 -4.6,0M329.8,145.0a2.3,2.3 0 1,0 4.6,0a2.3,2.3 0 1,0 -4.6,0M366.4,196.5a2.3,2.3 0 1,0 4.6,0a2.3,2.3 0 1,0 -4.6,0M454.9,290.9a2.3,2.3 0 1,0 4.6,0a2.3,2.3 0 1,0 -4.6,0M445.7,281.2a2.3,2.3 0 1,0 4.6,0a2.3,2.3 0 1,0 -4.6,0M484.3,95.7a2.3,2.3 0 1,0 4.6,0a2.3,2.3 0 1,0 -4.6,0M350.8,140.1a2.3,2.3 0 1,0 4.6,0a2.3,2.3 0 1,0 -4.6,0M372.1,148.7a2.3,2.3 0 1,0 4.6,0a2.3,2.3 0 1,0 -4.6,0M322.0,114.4a2.3,2.3 0 1,0 4.6,0a2.3,2.3 0 1,0 -4.6,0M283.9,75.4a2.3,2.3 0 1,0 4.6,0a2.3,2.3 0 1,0 -4.6,0M298.8,110.8a2.3,2.3 0 1,0 4.6,0a2.3,2.3 0 1,0 -4.6,0M543.5,252.4a2.3,2.3 0 1,0 4.6,0a2.3,2.3 0 1,0 -4.6,0M341.6,95.6a2.3,2.3 0 1,0 4.6,0a2.3,2.3 0 1,0 -4.6,0M400.6,232.9a2.3,2.3 0 1,0 4.6,0a2.3,2.3 0 1,0 -4.6,0M384.9,191.5a2.3,2.3 0 1,0 4.6,0a2.3,2.3 0 1,0 -4.6,0M526.2,214.4a2.3,2.3 0 1,0 4.6,0a2.3,2.3 0 1,0 -4.6,0M489.4,122.6a2.3,2.3 0 1,0 4.6,0a2.3,2.3 0 1,0 -4.6,0M521.6,199.4a2.3,2.3 0 1,0 4.6,0a2.3,2.3 0 1,0 -4.6,0M405.6,155.6a2.3,2.3 0 1,0 4.6,0a2.3,2.3 0 1,0 -4.6,0M527.5,351.5a2.3,2.3 0 1,0 4.6,0a2.3,2.3 0 1,0 -4.6,0M440.3,270.6a2.3,2.3 0 1,0 4.6,0a2.3,2.3 0 1,0 -4.6,0M383.3,156.8a2.3,2.3 0 1,0 4.6,0a2.3,2.3 0 1,0 -4.6,0M531.5,209.6a2.3,2.3 0 1,0 4.6,0a2.3,2.3 0 1,0 -4.6,0M322.3,169.1a2.3,2.3 0 1,0 4.6,0a2.3,2.3 0 1,0 -4.6,0M571.9,314.1a2.3,2.3 0 1,0 4.6,0a2.3,2.3 0 1,0 -4.6,0M328.9,125.6a2.3,2.3 0 1,0 4.6,0a2.3,2.3 0 1,0 -4.6,0M374.9,155.7a2.3,2.3 0 1,0 4.6,0a2.3,2.3 0 1,0 -4.6,0M366.1,146.3a2.3,2.3 0 1,0 4.6,0a2.3,2.3 0 1,0 -4.6,0M523.8,180.6a2.3,2.3 0 1,0 4.6,0a2.3,2.3 0 1,0 -4.6,0M402.4,147.4a2.3,2.3 0 1,0 4.6,0a2.3,2.3 0 1,0 -4.6,0M395.8,170.5a2.3,2.3 0 1,0 4.6,0a2.3,2.3 0 1,0 -4.6,0M329.8,91.5a2.3,2.3 0 1,0 4.6,0a2.3,2.3 0 1,0 -4.6,0M492.9,134.1a2.3,2.3 0 1,0 4.6,0a2.3,2.3 0 1,0 -4.6,0M371.3,178.4a2.3,2.3 0 1,0 4.6,0a2.3,2.3 0 1,0 -4.6,0M389.2,178.6a2.3,2.3 0 1,0 4.6,0a2.3,2.3 0 1,0 -4.6,0M397.4,136.0a2.3,2.3 0 1,0 4.6,0a2.3,2.3 0 1,0 -4.6,0M386.3,165.2a2.3,2.3 0 1,0 4.6,0a2.3,2.3 0 1,0 -4.6,0M534.8,183.7a2.3,2.3 0 1,0 4.6,0a2.3,2.3 0 1,0 -4.6,0M300.0,88.0a2.3,2.3 0 1,0 4.6,0a2.3,2.3 0 1,0 -4.6,0M342.9,166.7a2.3,2.3 0 1,0 4.6,0a2.3,2.3 0 1,0 -4.6,0M341.4,144.4a2.3,2.3 0 1,0 4.6,0a2.3,2.3 0 1,0 -4.6,0M349.7,138.0a2.3,2.3 0 1,0 4.6,0a2.3,2.3 0 1,0 -4.6,0M485.5,102.7a2.3,2.3 0 1,0 4.6,0a2.3,2.3 0 1,0 -4.6,0M302.4,73.7a2.3,2.3 0 1,0 4.6,0a2.3,2.3 0 1,0 -4.6,0M326.1,101.7a2.3,2.3 0 1,0 4.6,0a2.3,2.3 0 1,0 -4.6,0M340.9,166.0a2.3,2.3 0 1,0 4.6,0a2.3,2.3 0 1,0 -4.6,0M313.8,140.1a2.3,2.3 0 1,0 4.6,0a2.3,2.3 0 1,0 -4.6,0M422.5,243.8a2.3,2.3 0 1,0 4.6,0a2.3,2.3 0 1,0 -4.6,0M431.9,252.3a2.3,2.3 0 1,0 4.6,0a2.3,2.3 0 1,0 -4.6,0M579.2,308.2a2.3,2.3 0 1,0 4.6,0a2.3,2.3 0 1,0 -4.6,0M570.6,327.8a2.3,2.3 0 1,0 4.6,0a2.3,2.3 0 1,0 -4.6,0M374.6,139.5a2.3,2.3 0 1,0 4.6,0a2.3,2.3 0 1,0 -4.6,0M390.1,167.6a2.3,2.3 0 1,0 4.6,0a2.3,2.3 0 1,0 -4.6,0M378.2,138.3a2.3,2.3 0 1,0 4.6,0a2.3,2.3 0 1,0 -4.6,0M412.3,225.1a2.3,2.3 0 1,0 4.6,0a2.3,2.3 0 1,0 -4.6,0M504.4,144.7a2.3,2.3 0 1,0 4.6,0a2.3,2.3 0 1,0 -4.6,0M494.5,107.3a2.3,2.3 0 1,0 4.6,0a2.3,2.3 0 1,0 -4.6,0M327.6,145.1a2.3,2.3 0 1,0 4.6,0a2.3,2.3 0 1,0 -4.6,0M365.7,145.2a2.3,2.3 0 1,0 4.6,0a2.3,2.3 0 1,0 -4.6,0M305.9,106.5a2.3,2.3 0 1,0 4.6,0a2.3,2.3 0 1,0 -4.6,0M477.1,319.7a2.3,2.3 0 1,0 4.6,0a2.3,2.3 0 1,0 -4.6,0M377.7,189.3a2.3,2.3 0 1,0 4.6,0a2.3,2.3 0 1,0 -4.6,0M482.0,92.7a2.3,2.3 0 1,0 4.6,0a2.3,2.3 0 1,0 -4.6,0M384.5,137.9a2.3,2.3 0 1,0 4.6,0a2.3,2.3 0 1,0 -4.6,0M508.6,161.1a2.3,2.3 0 1,0 4.6,0a2.3,2.3 0 1,0 -4.6,0M337.0,156.8a2.3,2.3 0 1,0 4.6,0a2.3,2.3 0 1,0 -4.6,0M380.1,170.4a2.3,2.3 0 1,0 4.6,0a2.3,2.3 0 1,0 -4.6,0M330.8,129.2a2.3,2.3 0 1,0 4.6,0a2.3,2.3 0 1,0 -4.6,0M322.6,174.9a2.3,2.3 0 1,0 4.6,0a2.3,2.3 0 1,0 -4.6,0M311.3,80.1a2.3,2.3 0 1,0 4.6,0a2.3,2.3 0 1,0 -4.6,0M361.5,154.2a2.3,2.3 0 1,0 4.6,0a2.3,2.3 0 1,0 -4.6,0M351.2,144.8a2.3,2.3 0 1,0 4.6,0a2.3,2.3 0 1,0 -4.6,0M427.4,254.6a2.3,2.3 0 1,0 4.6,0a2.3,2.3 0 1,0 -4.6,0M419.8,247.0a2.3,2.3 0 1,0 4.6,0a2.3,2.3 0 1,0 -4.6,0M325.2,124.4a2.3,2.3 0 1,0 4.6,0a2.3,2.3 0 1,0 -4.6,0M370.1,108.7a2.3,2.3 0 1,0 4.6,0a2.3,2.3 0 1,0 -4.6,0M390.9,172.5a2.3,2.3 0 1,0 4.6,0a2.3,2.3 0 1,0 -4.6,0M409.1,181.4a2.3,2.3 0 1,0 4.6,0a2.3,2.3 0 1,0 -4.6,0M475.4,100.9a2.3,2.3 0 1,0 4.6,0a2.3,2.3 0 1,0 -4.6,0M540.8,237.0a2.3,2.3 0 1,0 4.6,0a2.3,2.3 0 1,0 -4.6,0M393.8,139.2a2.3,2.3 0 1,0 4.6,0a2.3,2.3 0 1,0 -4.6,0M558.6,281.7a2.3,2.3 0 1,0 4.6,0a2.3,2.3 0 1,0 -4.6,0M386.4,187.2a2.3,2.3 0 1,0 4.6,0a2.3,2.3 0 1,0 -4.6,0M372.6,168.6a2.3,2.3 0 1,0 4.6,0a2.3,2.3 0 1,0 -4.6,0M378.9,137.2a2.3,2.3 0 1,0 4.6,0a2.3,2.3 0 1,0 -4.6,0M533.3,203.9a2.3,2.3 0 1,0 4.6,0a2.3,2.3 0 1,0 -4.6,0M378.9,136.6a2.3,2.3 0 1,0 4.6,0a2.3,2.3 0 1,0 -4.6,0M354.3,165.4a2.3,2.3 0 1,0 4.6,0a2.3,2.3 0 1,0 -4.6,0M375.1,138.6a2.3,2.3 0 1,0 4.6,0a2.3,2.3 0 1,0 -4.6,0M382.9,195.1a2.3,2.3 0 1,0 4.6,0a2.3,2.3 0 1,0 -4.6,0M348.3,156.4a2.3,2.3 0 1,0 4.6,0a2.3,2.3 0 1,0 -4.6,0M369.2,171.9a2.3,2.3 0 1,0 4.6,0a2.3,2.3 0 1,0 -4.6,0M381.3,174.3a2.3,2.3 0 1,0 4.6,0a2.3,2.3 0 1,0 -4.6,0M430.1,259.5a2.3,2.3 0 1,0 4.6,0a2.3,2.3 0 1,0 -4.6,0M351.7,154.2a2.3,2.3 0 1,0 4.6,0a2.3,2.3 0 1,0 -4.6,0M318.7,159.6a2.3,2.3 0 1,0 4.6,0a2.3,2.3 0 1,0 -4.6,0M369.9,126.2a2.3,2.3 0 1,0 4.6,0a2.3,2.3 0 1,0 -4.6,0M366.0,119.2a2.3,2.3 0 1,0 4.6,0a2.3,2.3 0 1,0 -4.6,0M472.7,313.9a2.3,2.3 0 1,0 4.6,0a2.3,2.3 0 1,0 -4.6,0M492.8,95.8a2.3,2.3 0 1,0 4.6,0a2.3,2.3 0 1,0 -4.6,0M489.9,331.5a2.3,2.3 0 1,0 4.6,0a2.3,2.3 0 1,0 -4.6,0M341.7,158.0a2.3,2.3 0 1,0 4.6,0a2.3,2.3 0 1,0 -4.6,0M286.5,66.5a2.3,2.3 0 1,0 4.6,0a2.3,2.3 0 1,0 -4.6,0M280.7,130.4a2.3,2.3 0 1,0 4.6,0a2.3,2.3 0 1,0 -4.6,0M289.5,128.7a2.3,2.3 0 1,0 4.6,0a2.3,2.3 0 1,0 -4.6,0M527.6,181.1a2.3,2.3 0 1,0 4.6,0a2.3,2.3 0 1,0 -4.6,0M558.7,288.7a2.3,2.3 0 1,0 4.6,0a2.3,2.3 0 1,0 -4.6,0M392.4,146.3a2.3,2.3 0 1,0 4.6,0a2.3,2.3 0 1,0 -4.6,0M398.5,152.4a2.3,2.3 0 1,0 4.6,0a2.3,2.3 0 1,0 -4.6,0M561.2,280.0a2.3,2.3 0 1,0 4.6,0a2.3,2.3 0 1,0 -4.6,0M304.0,113.9a2.3,2.3 0 1,0 4.6,0a2.3,2.3 0 1,0 -4.6,0M464.2,298.7a2.3,2.3 0 1,0 4.6,0a2.3,2.3 0 1,0 -4.6,0M359.8,154.8a2.3,2.3 0 1,0 4.6,0a2.3,2.3 0 1,0 -4.6,0M354.0,131.5a2.3,2.3 0 1,0 4.6,0a2.3,2.3 0 1,0 -4.6,0M372.6,187.8a2.3,2.3 0 1,0 4.6,0a2.3,2.3 0 1,0 -4.6,0M375.3,139.0a2.3,2.3 0 1,0 4.6,0a2.3,2.3 0 1,0 -4.6,0M384.5,166.8a2.3,2.3 0 1,0 4.6,0a2.3,2.3 0 1,0 -4.6,0M423.5,257.7a2.3,2.3 0 1,0 4.6,0a2.3,2.3 0 1,0 -4.6,0M362.5,147.5a2.3,2.3 0 1,0 4.6,0a2.3,2.3 0 1,0 -4.6,0M356.5,108.9a2.3,2.3 0 1,0 4.6,0a2.3,2.3 0 1,0 -4.6,0M453.5,302.2a2.3,2.3 0 1,0 4.6,0a2.3,2.3 0 1,0 -4.6,0M381.1,155.0a2.3,2.3 0 1,0 4.6,0a2.3,2.3 0 1,0 -4.6,0M382.1,174.9a2.3,2.3 0 1,0 4.6,0a2.3,2.3 0 1,0 -4.6,0M352.0,112.8a2.3,2.3 0 1,0 4.6,0a2.3,2.3 0 1,0 -4.6,0M301.8,76.0a2.3,2.3 0 1,0 4.6,0a2.3,2.3 0 1,0 -4.6,0M390.0,136.7a2.3,2.3 0 1,0 4.6,0a2.3,2.3 0 1,0 -4.6,0M459.1,293.0a2.3,2.3 0 1,0 4.6,0a2.3,2.3 0 1,0 -4.6,0M406.4,236.1a2.3,2.3 0 1,0 4.6,0a2.3,2.3 0 1,0 -4.6,0M401.5,151.5a2.3,2.3 0 1,0 4.6,0a2.3,2.3 0 1,0 -4.6,0M374.8,117.8a2.3,2.3 0 1,0 4.6,0a2.3,2.3 0 1,0 -4.6,0M314.3,144.1a2.3,2.3 0 1,0 4.6,0a2.3,2.3 0 1,0 -4.6,0M412.2,235.8a2.3,2.3 0 1,0 4.6,0a2.3,2.3 0 1,0 -4.6,0M344.9,138.8a2.3,2.3 0 1,0 4.6,0a2.3,2.3 0 1,0 -4.6,0M394.2,208.4a2.3,2.3 0 1,0 4.6,0a2.3,2.3 0 1,0 -4.6,0M389.4,129.2a2.3,2.3 0 1,0 4.6,0a2.3,2.3 0 1,0 -4.6,0M386.9,165.2a2.3,2.3 0 1,0 4.6,0a2.3,2.3 0 1,0 -4.6,0M491.1,124.3a2.3,2.3 0 1,0 4.6,0a2.3,2.3 0 1,0 -4.6,0M561.6,343.1a2.3,2.3 0 1,0 4.6,0a2.3,2.3 0 1,0 -4.6,0M300.4,72.5a2.3,2.3 0 1,0 4.6,0a2.3,2.3 0 1,0 -4.6,0M300.4,142.8a2.3,2.3 0 1,0 4.6,0a2.3,2.3 0 1,0 -4.6,0M330.9,105.5a2.3,2.3 0 1,0 4.6,0a2.3,2.3 0 1,0 -4.6,0M550.4,247.2a2.3,2.3 0 1,0 4.6,0a2.3,2.3 0 1,0 -4.6,0M358.9,107.4a2.3,2.3 0 1,0 4.6,0a2.3,2.3 0 1,0 -4.6,0M435.8,267.7a2.3,2.3 0 1,0 4.6,0a2.3,2.3 0 1,0 -4.6,0M364.6,202.7a2.3,2.3 0 1,0 4.6,0a2.3,2.3 0 1,0 -4.6,0M386.2,177.0a2.3,2.3 0 1,0 4.6,0a2.3,2.3 0 1,0 -4.6,0M468.1,86.4a2.3,2.3 0 1,0 4.6,0a2.3,2.3 0 1,0 -4.6,0M326.0,121.2a2.3,2.3 0 1,0 4.6,0a2.3,2.3 0 1,0 -4.6,0M529.2,220.3a2.3,2.3 0 1,0 4.6,0a2.3,2.3 0 1,0 -4.6,0M355.1,186.0a2.3,2.3 0 1,0 4.6,0a2.3,2.3 0 1,0 -4.6,0M354.9,130.1a2.3,2.3 0 1,0 4.6,0a2.3,2.3 0 1,0 -4.6,0M290.0,147.6a2.3,2.3 0 1,0 4.6,0a2.3,2.3 0 1,0 -4.6,0M561.2,278.6a2.3,2.3 0 1,0 4.6,0a2.3,2.3 0 1,0 -4.6,0M363.7,187.4a2.3,2.3 0 1,0 4.6,0a2.3,2.3 0 1,0 -4.6,0M318.6,168.5a2.3,2.3 0 1,0 4.6,0a2.3,2.3 0 1,0 -4.6,0M478.5,312.6a2.3,2.3 0 1,0 4.6,0a2.3,2.3 0 1,0 -4.6,0M364.9,196.0a2.3,2.3 0 1,0 4.6,0a2.3,2.3 0 1,0 -4.6,0M356.7,130.1a2.3,2.3 0 1,0 4.6,0a2.3,2.3 0 1,0 -4.6,0M516.8,168.5a2.3,2.3 0 1,0 4.6,0a2.3,2.3 0 1,0 -4.6,0M350.6,144.8a2.3,2.3 0 1,0 4.6,0a2.3,2.3 0 1,0 -4.6,0M314.0,132.2a2.3,2.3 0 1,0 4.6,0a2.3,2.3 0 1,0 -4.6,0M377.5,159.5a2.3,2.3 0 1,0 4.6,0a2.3,2.3 0 1,0 -4.6,0M319.1,108.5a2.3,2.3 0 1,0 4.6,0a2.3,2.3 0 1,0 -4.6,0M392.0,184.9a2.3,2.3 0 1,0 4.6,0a2.3,2.3 0 1,0 -4.6,0M378.2,144.7a2.3,2.3 0 1,0 4.6,0a2.3,2.3 0 1,0 -4.6,0M446.2,304.0a2.3,2.3 0 1,0 4.6,0a2.3,2.3 0 1,0 -4.6,0M486.8,94.3a2.3,2.3 0 1,0 4.6,0a2.3,2.3 0 1,0 -4.6,0M308.5,133.4a2.3,2.3 0 1,0 4.6,0a2.3,2.3 0 1,0 -4.6,0M313.5,129.8a2.3,2.3 0 1,0 4.6,0a2.3,2.3 0 1,0 -4.6,0M403.6,153.9a2.3,2.3 0 1,0 4.6,0a2.3,2.3 0 1,0 -4.6,0M392.3,139.4a2.3,2.3 0 1,0 4.6,0a2.3,2.3 0 1,0 -4.6,0M572.5,332.1a2.3,2.3 0 1,0 4.6,0a2.3,2.3 0 1,0 -4.6,0M357.1,105.6a2.3,2.3 0 1,0 4.6,0a2.3,2.3 0 1,0 -4.6,0M570.3,342.5a2.3,2.3 0 1,0 4.6,0a2.3,2.3 0 1,0 -4.6,0M397.0,221.8a2.3,2.3 0 1,0 4.6,0a2.3,2.3 0 1,0 -4.6,0M460.8,306.0a2.3,2.3 0 1,0 4.6,0a2.3,2.3 0 1,0 -4.6,0M359.5,142.2a2.3,2.3 0 1,0 4.6,0a2.3,2.3 0 1,0 -4.6,0M314.4,82.7a2.3,2.3 0 1,0 4.6,0a2.3,2.3 0 1,0 -4.6,0M320.9,115.6a2.3,2.3 0 1,0 4.6,0a2.3,2.3 0 1,0 -4.6,0M560.5,279.2a2.3,2.3 0 1,0 4.6,0a2.3,2.3 0 1,0 -4.6,0M278.4,56.5a2.3,2.3 0 1,0 4.6,0a2.3,2.3 0 1,0 -4.6,0M353.0,178.0a2.3,2.3 0 1,0 4.6,0a2.3,2.3 0 1,0 -4.6,0M349.5,108.6a2.3,2.3 0 1,0 4.6,0a2.3,2.3 0 1,0 -4.6,0M335.9,174.9a2.3,2.3 0 1,0 4.6,0a2.3,2.3 0 1,0 -4.6,0M365.7,161.1a2.3,2.3 0 1,0 4.6,0a2.3,2.3 0 1,0 -4.6,0M349.5,147.0a2.3,2.3 0 1,0 4.6,0a2.3,2.3 0 1,0 -4.6,0M540.3,245.8a2.3,2.3 0 1,0 4.6,0a2.3,2.3 0 1,0 -4.6,0M473.7,99.0a2.3,2.3 0 1,0 4.6,0a2.3,2.3 0 1,0 -4.6,0M387.7,217.2a2.3,2.3 0 1,0 4.6,0a2.3,2.3 0 1,0 -4.6,0M379.7,133.0a2.3,2.3 0 1,0 4.6,0a2.3,2.3 0 1,0 -4.6,0M402.0,183.3a2.3,2.3 0 1,0 4.6,0a2.3,2.3 0 1,0 -4.6,0M372.6,168.9a2.3,2.3 0 1,0 4.6,0a2.3,2.3 0 1,0 -4.6,0M393.6,198.9a2.3,2.3 0 1,0 4.6,0a2.3,2.3 0 1,0 -4.6,0M407.5,182.2a2.3,2.3 0 1,0 4.6,0a2.3,2.3 0 1,0 -4.6,0M474.7,319.6a2.3,2.3 0 1,0 4.6,0a2.3,2.3 0 1,0 -4.6,0M437.0,294.4a2.3,2.3 0 1,0 4.6,0a2.3,2.3 0 1,0 -4.6,0M356.5,136.5a2.3,2.3 0 1,0 4.6,0a2.3,2.3 0 1,0 -4.6,0M360.2,133.2a2.3,2.3 0 1,0 4.6,0a2.3,2.3 0 1,0 -4.6,0M400.7,233.3a2.3,2.3 0 1,0 4.6,0a2.3,2.3 0 1,0 -4.6,0M326.8,112.3a2.3,2.3 0 1,0 4.6,0a2.3,2.3 0 1,0 -4.6,0M431.4,283.3a2.3,2.3 0 1,0 4.6,0a2.3,2.3 0 1,0 -4.6,0M358.2,143.1a2.3,2.3 0 1,0 4.6,0a2.3,2.3 0 1,0 -4.6,0M473.7,326.1a2.3,2.3 0 1,0 4.6,0a2.3,2.3 0 1,0 -4.6,0M359.7,180.1a2.3,2.3 0 1,0 4.6,0a2.3,2.3 0 1,0 -4.6,0M358.5,181.5a2.3,2.3 0 1,0 4.6,0a2.3,2.3 0 1,0 -4.6,0M401.2,167.1a2.3,2.3 0 1,0 4.6,0a2.3,2.3 0 1,0 -4.6,0M280.7,133.3a2.3,2.3 0 1,0 4.6,0a2.3,2.3 0 1,0 -4.6,0M343.4,100.9a2.3,2.3 0 1,0 4.6,0a2.3,2.3 0 1,0 -4.6,0M508.6,145.5a2.3,2.3 0 1,0 4.6,0a2.3,2.3 0 1,0 -4.6,0M497.4,140.6a2.3,2.3 0 1,0 4.6,0a2.3,2.3 0 1,0 -4.6,0M375.9,141.4a2.3,2.3 0 1,0 4.6,0a2.3,2.3 0 1,0 -4.6,0M494.7,128.7a2.3,2.3 0 1,0 4.6,0a2.3,2.3 0 1,0 -4.6,0M395.6,185.5a2.3,2.3 0 1,0 4.6,0a2.3,2.3 0 1,0 -4.6,0M516.9,344.5a2.3,2.3 0 1,0 4.6,0a2.3,2.3 0 1,0 -4.6,0M388.7,222.8a2.3,2.3 0 1,0 4.6,0a2.3,2.3 0 1,0 -4.6,0M338.4,114.0a2.3,2.3 0 1,0 4.6,0a2.3,2.3 0 1,0 -4.6,0M366.6,166.9a2.3,2.3 0 1,0 4.6,0a2.3,2.3 0 1,0 -4.6,0M360.8,114.7a2.3,2.3 0 1,0 4.6,0a2.3,2.3 0 1,0 -4.6,0M388.4,122.7a2.3,2.3 0 1,0 4.6,0a2.3,2.3 0 1,0 -4.6,0M457.3,303.5a2.3,2.3 0 1,0 4.6,0a2.3,2.3 0 1,0 -4.6,0M428.0,259.1a2.3,2.3 0 1,0 4.6,0a2.3,2.3 0 1,0 -4.6,0M386.1,189.8a2.3,2.3 0 1,0 4.6,0a2.3,2.3 0 1,0 -4.6,0M494.3,330.2a2.3,2.3 0 1,0 4.6,0a2.3,2.3 0 1,0 -4.6,0M338.3,177.9a2.3,2.3 0 1,0 4.6,0a2.3,2.3 0 1,0 -4.6,0M368.1,112.0a2.3,2.3 0 1,0 4.6,0a2.3,2.3 0 1,0 -4.6,0M520.8,204.9a2.3,2.3 0 1,0 4.6,0a2.3,2.3 0 1,0 -4.6,0M353.4,102.1a2.3,2.3 0 1,0 4.6,0a2.3,2.3 0 1,0 -4.6,0M433.7,252.2a2.3,2.3 0 1,0 4.6,0a2.3,2.3 0 1,0 -4.6,0M355.9,116.1a2.3,2.3 0 1,0 4.6,0a2.3,2.3 0 1,0 -4.6,0M524.6,195.4a2.3,2.3 0 1,0 4.6,0a2.3,2.3 0 1,0 -4.6,0M441.1,269.7a2.3,2.3 0 1,0 4.6,0a2.3,2.3 0 1,0 -4.6,0M328.9,131.3a2.3,2.3 0 1,0 4.6,0a2.3,2.3 0 1,0 -4.6,0M515.8,167.4a2.3,2.3 0 1,0 4.6,0a2.3,2.3 0 1,0 -4.6,0M363.0,180.0a2.3,2.3 0 1,0 4.6,0a2.3,2.3 0 1,0 -4.6,0M520.9,205.0a2.3,2.3 0 1,0 4.6,0a2.3,2.3 0 1,0 -4.6,0M380.3,123.0a2.3,2.3 0 1,0 4.6,0a2.3,2.3 0 1,0 -4.6,0M397.5,181.7a2.3,2.3 0 1,0 4.6,0a2.3,2.3 0 1,0 -4.6,0M390.7,153.7a2.3,2.3 0 1,0 4.6,0a2.3,2.3 0 1,0 -4.6,0M330.4,109.0a2.3,2.3 0 1,0 4.6,0a2.3,2.3 0 1,0 -4.6,0M293.3,113.6a2.3,2.3 0 1,0 4.6,0a2.3,2.3 0 1,0 -4.6,0M535.1,187.3a2.3,2.3 0 1,0 4.6,0a2.3,2.3 0 1,0 -4.6,0M374.5,114.1a2.3,2.3 0 1,0 4.6,0a2.3,2.3 0 1,0 -4.6,0M378.6,150.9a2.3,2.3 0 1,0 4.6,0a2.3,2.3 0 1,0 -4.6,0M362.4,111.5a2.3,2.3 0 1,0 4.6,0a2.3,2.3 0 1,0 -4.6,0M433.3,268.1a2.3,2.3 0 1,0 4.6,0a2.3,2.3 0 1,0 -4.6,0M467.4,317.5a2.3,2.3 0 1,0 4.6,0a2.3,2.3 0 1,0 -4.6,0M385.8,189.3a2.3,2.3 0 1,0 4.6,0a2.3,2.3 0 1,0 -4.6,0M363.0,185.3a2.3,2.3 0 1,0 4.6,0a2.3,2.3 0 1,0 -4.6,0M332.9,165.5a2.3,2.3 0 1,0 4.6,0a2.3,2.3 0 1,0 -4.6,0M496.6,137.8a2.3,2.3 0 1,0 4.6,0a2.3,2.3 0 1,0 -4.6,0M494.6,335.7a2.3,2.3 0 1,0 4.6,0a2.3,2.3 0 1,0 -4.6,0M307.5,86.9a2.3,2.3 0 1,0 4.6,0a2.3,2.3 0 1,0 -4.6,0M385.4,202.0a2.3,2.3 0 1,0 4.6,0a2.3,2.3 0 1,0 -4.6,0M405.3,176.6a2.3,2.3 0 1,0 4.6,0a2.3,2.3 0 1,0 -4.6,0M354.7,165.3a2.3,2.3 0 1,0 4.6,0a2.3,2.3 0 1,0 -4.6,0M522.3,190.5a2.3,2.3 0 1,0 4.6,0a2.3,2.3 0 1,0 -4.6,0M325.2,115.1a2.3,2.3 0 1,0 4.6,0a2.3,2.3 0 1,0 -4.6,0M349.8,202.0a2.3,2.3 0 1,0 4.6,0a2.3,2.3 0 1,0 -4.6,0M411.0,251.0a2.3,2.3 0 1,0 4.6,0a2.3,2.3 0 1,0 -4.6,0M336.7,92.7a2.3,2.3 0 1,0 4.6,0a2.3,2.3 0 1,0 -4.6,0M328.5,93.6a2.3,2.3 0 1,0 4.6,0a2.3,2.3 0 1,0 -4.6,0M346.7,152.6a2.3,2.3 0 1,0 4.6,0a2.3,2.3 0 1,0 -4.6,0M362.2,179.2a2.3,2.3 0 1,0 4.6,0a2.3,2.3 0 1,0 -4.6,0M484.4,105.1a2.3,2.3 0 1,0 4.6,0a2.3,2.3 0 1,0 -4.6,0M527.0,203.5a2.3,2.3 0 1,0 4.6,0a2.3,2.3 0 1,0 -4.6,0M558.2,287.4a2.3,2.3 0 1,0 4.6,0a2.3,2.3 0 1,0 -4.6,0M567.8,279.2a2.3,2.3 0 1,0 4.6,0a2.3,2.3 0 1,0 -4.6,0M355.8,109.8a2.3,2.3 0 1,0 4.6,0a2.3,2.3 0 1,0 -4.6,0M338.4,107.3a2.3,2.3 0 1,0 4.6,0a2.3,2.3 0 1,0 -4.6,0M382.6,122.1a2.3,2.3 0 1,0 4.6,0a2.3,2.3 0 1,0 -4.6,0M373.0,127.6a2.3,2.3 0 1,0 4.6,0a2.3,2.3 0 1,0 -4.6,0M296.4,131.8a2.3,2.3 0 1,0 4.6,0a2.3,2.3 0 1,0 -4.6,0M279.4,57.5a2.3,2.3 0 1,0 4.6,0a2.3,2.3 0 1,0 -4.6,0M452.7,292.5a2.3,2.3 0 1,0 4.6,0a2.3,2.3 0 1,0 -4.6,0M453.7,290.5a2.3,2.3 0 1,0 4.6,0a2.3,2.3 0 1,0 -4.6,0M538.7,229.8a2.3,2.3 0 1,0 4.6,0a2.3,2.3 0 1,0 -4.6,0M381.9,169.7a2.3,2.3 0 1,0 4.6,0a2.3,2.3 0 1,0 -4.6,0M393.8,160.8a2.3,2.3 0 1,0 4.6,0a2.3,2.3 0 1,0 -4.6,0M483.9,329.7a2.3,2.3 0 1,0 4.6,0a2.3,2.3 0 1,0 -4.6,0M374.4,133.8a2.3,2.3 0 1,0 4.6,0a2.3,2.3 0 1,0 -4.6,0M526.7,173.1a2.3,2.3 0 1,0 4.6,0a2.3,2.3 0 1,0 -4.6,0M360.4,111.6a2.3,2.3 0 1,0 4.6,0a2.3,2.3 0 1,0 -4.6,0M383.4,166.9a2.3,2.3 0 1,0 4.6,0a2.3,2.3 0 1,0 -4.6,0M549.0,264.9a2.3,2.3 0 1,0 4.6,0a2.3,2.3 0 1,0 -4.6,0M361.5,174.2a2.3,2.3 0 1,0 4.6,0a2.3,2.3 0 1,0 -4.6,0M427.3,260.4a2.3,2.3 0 1,0 4.6,0a2.3,2.3 0 1,0 -4.6,0M340.2,98.6a2.3,2.3 0 1,0 4.6,0a2.3,2.3 0 1,0 -4.6,0M509.5,177.4a2.3,2.3 0 1,0 4.6,0a2.3,2.3 0 1,0 -4.6,0M358.0,133.3a2.3,2.3 0 1,0 4.6,0a2.3,2.3 0 1,0 -4.6,0M372.7,195.8a2.3,2.3 0 1,0 4.6,0a2.3,2.3 0 1,0 -4.6,0M332.4,115.0a2.3,2.3 0 1,0 4.6,0a2.3,2.3 0 1,0 -4.6,0M568.8,319.8a2.3,2.3 0 1,0 4.6,0a2.3,2.3 0 1,0 -4.6,0M337.7,96.7a2.3,2.3 0 1,0 4.6,0a2.3,2.3 0 1,0 -4.6,0M345.3,170.0a2.3,2.3 0 1,0 4.6,0a2.3,2.3 0 1,0 -4.6,0M495.5,116.9a2.3,2.3 0 1,0 4.6,0a2.3,2.3 0 1,0 -4.6,0M389.5,159.1a2.3,2.3 0 1,0 4.6,0a2.3,2.3 0 1,0 -4.6,0M348.3,152.2a2.3,2.3 0 1,0 4.6,0a2.3,2.3 0 1,0 -4.6,0M308.8,123.5a2.3,2.3 0 1,0 4.6,0a2.3,2.3 0 1,0 -4.6,0M311.6,156.6a2.3,2.3 0 1,0 4.6,0a2.3,2.3 0 1,0 -4.6,0M348.8,177.2a2.3,2.3 0 1,0 4.6,0a2.3,2.3 0 1,0 -4.6,0M389.9,130.6a2.3,2.3 0 1,0 4.6,0a2.3,2.3 0 1,0 -4.6,0M504.4,340.6a2.3,2.3 0 1,0 4.6,0a2.3,2.3 0 1,0 -4.6,0M273.3,57.8a2.3,2.3 0 1,0 4.6,0a2.3,2.3 0 1,0 -4.6,0M367.0,139.8a2.3,2.3 0 1,0 4.6,0a2.3,2.3 0 1,0 -4.6,0M534.9,234.2a2.3,2.3 0 1,0 4.6,0a2.3,2.3 0 1,0 -4.6,0M389.8,130.7a2.3,2.3 0 1,0 4.6,0a2.3,2.3 0 1,0 -4.6,0M374.9,114.2a2.3,2.3 0 1,0 4.6,0a2.3,2.3 0 1,0 -4.6,0M303.8,126.5a2.3,2.3 0 1,0 4.6,0a2.3,2.3 0 1,0 -4.6,0M363.4,132.6a2.3,2.3 0 1,0 4.6,0a2.3,2.3 0 1,0 -4.6,0M405.4,178.2a2.3,2.3 0 1,0 4.6,0a2.3,2.3 0 1,0 -4.6,0M355.0,125.6a2.3,2.3 0 1,0 4.6,0a2.3,2.3 0 1,0 -4.6,0M542.1,250.4a2.3,2.3 0 1,0 4.6,0a2.3,2.3 0 1,0 -4.6,0M342.8,199.9a2.3,2.3 0 1,0 4.6,0a2.3,2.3 0 1,0 -4.6,0M361.3,145.5a2.3,2.3 0 1,0 4.6,0a2.3,2.3 0 1,0 -4.6,0M357.2,202.3a2.3,2.3 0 1,0 4.6,0a2.3,2.3 0 1,0 -4.6,0M350.3,147.4a2.3,2.3 0 1,0 4.6,0a2.3,2.3 0 1,0 -4.6,0M397.3,164.0a2.3,2.3 0 1,0 4.6,0a2.3,2.3 0 1,0 -4.6,0M471.3,304.5a2.3,2.3 0 1,0 4.6,0a2.3,2.3 0 1,0 -4.6,0M391.6,193.9a2.3,2.3 0 1,0 4.6,0a2.3,2.3 0 1,0 -4.6,0M409.9,223.4a2.3,2.3 0 1,0 4.6,0a2.3,2.3 0 1,0 -4.6,0M551.0,260.1a2.3,2.3 0 1,0 4.6,0a2.3,2.3 0 1,0 -4.6,0M328.0,139.2a2.3,2.3 0 1,0 4.6,0a2.3,2.3 0 1,0 -4.6,0M513.9,340.1a2.3,2.3 0 1,0 4.6,0a2.3,2.3 0 1,0 -4.6,0M554.4,268.9a2.3,2.3 0 1,0 4.6,0a2.3,2.3 0 1,0 -4.6,0M410.2,178.5a2.3,2.3 0 1,0 4.6,0a2.3,2.3 0 1,0 -4.6,0M440.2,274.5a2.3,2.3 0 1,0 4.6,0a2.3,2.3 0 1,0 -4.6,0M365.9,175.9a2.3,2.3 0 1,0 4.6,0a2.3,2.3 0 1,0 -4.6,0M374.1,187.1a2.3,2.3 0 1,0 4.6,0a2.3,2.3 0 1,0 -4.6,0M330.3,89.9a2.3,2.3 0 1,0 4.6,0a2.3,2.3 0 1,0 -4.6,0M422.2,241.8a2.3,2.3 0 1,0 4.6,0a2.3,2.3 0 1,0 -4.6,0M454.9,289.0a2.3,2.3 0 1,0 4.6,0a2.3,2.3 0 1,0 -4.6,0M377.5,162.5a2.3,2.3 0 1,0 4.6,0a2.3,2.3 0 1,0 -4.6,0M368.9,148.8a2.3,2.3 0 1,0 4.6,0a2.3,2.3 0 1,0 -4.6,0M494.1,332.5a2.3,2.3 0 1,0 4.6,0a2.3,2.3 0 1,0 -4.6,0M309.2,128.9a2.3,2.3 0 1,0 4.6,0a2.3,2.3 0 1,0 -4.6,0M546.0,249.5a2.3,2.3 0 1,0 4.6,0a2.3,2.3 0 1,0 -4.6,0M327.4,162.6a2.3,2.3 0 1,0 4.6,0a2.3,2.3 0 1,0 -4.6,0M314.0,130.6a2.3,2.3 0 1,0 4.6,0a2.3,2.3 0 1,0 -4.6,0M373.1,167.2a2.3,2.3 0 1,0 4.6,0a2.3,2.3 0 1,0 -4.6,0M303.2,119.1a2.3,2.3 0 1,0 4.6,0a2.3,2.3 0 1,0 -4.6,0M295.6,73.2a2.3,2.3 0 1,0 4.6,0a2.3,2.3 0 1,0 -4.6,0M380.0,213.3a2.3,2.3 0 1,0 4.6,0a2.3,2.3 0 1,0 -4.6,0M487.2,115.5a2.3,2.3 0 1,0 4.6,0a2.3,2.3 0 1,0 -4.6,0M406.4,185.2a2.3,2.3 0 1,0 4.6,0a2.3,2.3 0 1,0 -4.6,0M562.9,342.8a2.3,2.3 0 1,0 4.6,0a2.3,2.3 0 1,0 -4.6,0M402.6,171.5a2.3,2.3 0 1,0 4.6,0a2.3,2.3 0 1,0 -4.6,0M349.8,165.4a2.3,2.3 0 1,0 4.6,0a2.3,2.3 0 1,0 -4.6,0M415.6,234.4a2.3,2.3 0 1,0 4.6,0a2.3,2.3 0 1,0 -4.6,0M393.9,196.5a2.3,2.3 0 1,0 4.6,0a2.3,2.3 0 1,0 -4.6,0M376.9,159.5a2.3,2.3 0 1,0 4.6,0a2.3,2.3 0 1,0 -4.6,0M545.3,356.6a2.3,2.3 0 1,0 4.6,0a2.3,2.3 0 1,0 -4.6,0M397.6,181.9a2.3,2.3 0 1,0 4.6,0a2.3,2.3 0 1,0 -4.6,0M328.2,94.8a2.3,2.3 0 1,0 4.6,0a2.3,2.3 0 1,0 -4.6,0M327.9,160.2a2.3,2.3 0 1,0 4.6,0a2.3,2.3 0 1,0 -4.6,0M459.1,292.5a2.3,2.3 0 1,0 4.6,0a2.3,2.3 0 1,0 -4.6,0M365.9,145.5a2.3,2.3 0 1,0 4.6,0a2.3,2.3 0 1,0 -4.6,0M474.8,309.2a2.3,2.3 0 1,0 4.6,0a2.3,2.3 0 1,0 -4.6,0M350.7,187.9a2.3,2.3 0 1,0 4.6,0a2.3,2.3 0 1,0 -4.6,0M513.4,157.2a2.3,2.3 0 1,0 4.6,0a2.3,2.3 0 1,0 -4.6,0M378.4,142.9a2.3,2.3 0 1,0 4.6,0a2.3,2.3 0 1,0 -4.6,0M352.2,122.0a2.3,2.3 0 1,0 4.6,0a2.3,2.3 0 1,0 -4.6,0M324.2,165.8a2.3,2.3 0 1,0 4.6,0a2.3,2.3 0 1,0 -4.6,0M340.3,125.0a2.3,2.3 0 1,0 4.6,0a2.3,2.3 0 1,0 -4.6,0M516.6,168.5a2.3,2.3 0 1,0 4.6,0a2.3,2.3 0 1,0 -4.6,0M408.4,176.7a2.3,2.3 0 1,0 4.6,0a2.3,2.3 0 1,0 -4.6,0M363.6,193.8a2.3,2.3 0 1,0 4.6,0a2.3,2.3 0 1,0 -4.6,0M372.9,130.0a2.3,2.3 0 1,0 4.6,0a2.3,2.3 0 1,0 -4.6,0M340.1,134.5a2.3,2.3 0 1,0 4.6,0a2.3,2.3 0 1,0 -4.6,0M563.3,324.0a2.3,2.3 0 1,0 4.6,0a2.3,2.3 0 1,0 -4.6,0M519.5,193.4a2.3,2.3 0 1,0 4.6,0a2.3,2.3 0 1,0 -4.6,0M399.7,212.2a2.3,2.3 0 1,0 4.6,0a2.3,2.3 0 1,0 -4.6,0M311.2,140.6a2.3,2.3 0 1,0 4.6,0a2.3,2.3 0 1,0 -4.6,0M577.3,298.3a2.3,2.3 0 1,0 4.6,0a2.3,2.3 0 1,0 -4.6,0M573.7,310.0a2.3,2.3 0 1,0 4.6,0a2.3,2.3 0 1,0 -4.6,0M380.3,125.9a2.3,2.3 0 1,0 4.6,0a2.3,2.3 0 1,0 -4.6,0M373.2,151.2a2.3,2.3 0 1,0 4.6,0a2.3,2.3 0 1,0 -4.6,0M333.2,144.7a2.3,2.3 0 1,0 4.6,0a2.3,2.3 0 1,0 -4.6,0M435.6,274.7a2.3,2.3 0 1,0 4.6,0a2.3,2.3 0 1,0 -4.6,0M498.9,143.8a2.3,2.3 0 1,0 4.6,0a2.3,2.3 0 1,0 -4.6,0M332.2,112.7a2.3,2.3 0 1,0 4.6,0a2.3,2.3 0 1,0 -4.6,0M339.9,185.3a2.3,2.3 0 1,0 4.6,0a2.3,2.3 0 1,0 -4.6,0M402.7,165.0a2.3,2.3 0 1,0 4.6,0a2.3,2.3 0 1,0 -4.6,0M564.0,267.3a2.3,2.3 0 1,0 4.6,0a2.3,2.3 0 1,0 -4.6,0M392.8,135.0a2.3,2.3 0 1,0 4.6,0a2.3,2.3 0 1,0 -4.6,0M327.7,122.6a2.3,2.3 0 1,0 4.6,0a2.3,2.3 0 1,0 -4.6,0M427.1,253.0a2.3,2.3 0 1,0 4.6,0a2.3,2.3 0 1,0 -4.6,0M374.3,171.3a2.3,2.3 0 1,0 4.6,0a2.3,2.3 0 1,0 -4.6,0M423.3,252.6a2.3,2.3 0 1,0 4.6,0a2.3,2.3 0 1,0 -4.6,0M372.0,161.4a2.3,2.3 0 1,0 4.6,0a2.3,2.3 0 1,0 -4.6,0M356.1,185.6a2.3,2.3 0 1,0 4.6,0a2.3,2.3 0 1,0 -4.6,0M374.9,162.2a2.3,2.3 0 1,0 4.6,0a2.3,2.3 0 1,0 -4.6,0M333.4,167.2a2.3,2.3 0 1,0 4.6,0a2.3,2.3 0 1,0 -4.6,0M334.8,98.6a2.3,2.3 0 1,0 4.6,0a2.3,2.3 0 1,0 -4.6,0M405.8,154.1a2.3,2.3 0 1,0 4.6,0a2.3,2.3 0 1,0 -4.6,0M313.5,136.0a2.3,2.3 0 1,0 4.6,0a2.3,2.3 0 1,0 -4.6,0M532.8,227.1a2.3,2.3 0 1,0 4.6,0a2.3,2.3 0 1,0 -4.6,0M374.4,168.7a2.3,2.3 0 1,0 4.6,0a2.3,2.3 0 1,0 -4.6,0M357.0,166.9a2.3,2.3 0 1,0 4.6,0a2.3,2.3 0 1,0 -4.6,0M391.1,195.1a2.3,2.3 0 1,0 4.6,0a2.3,2.3 0 1,0 -4.6,0M302.8,164.0a2.3,2.3 0 1,0 4.6,0a2.3,2.3 0 1,0 -4.6,0M350.5,111.2a2.3,2.3 0 1,0 4.6,0a2.3,2.3 0 1,0 -4.6,0M567.4,273.7a2.3,2.3 0 1,0 4.6,0a2.3,2.3 0 1,0 -4.6,0M388.8,131.8a2.3,2.3 0 1,0 4.6,0a2.3,2.3 0 1,0 -4.6,0M487.8,332.7a2.3,2.3 0 1,0 4.6,0a2.3,2.3 0 1,0 -4.6,0M427.2,285.7a2.3,2.3 0 1,0 4.6,0a2.3,2.3 0 1,0 -4.6,0M559.6,287.5a2.3,2.3 0 1,0 4.6,0a2.3,2.3 0 1,0 -4.6,0M484.7,95.6a2.3,2.3 0 1,0 4.6,0a2.3,2.3 0 1,0 -4.6,0M296.9,130.9a2.3,2.3 0 1,0 4.6,0a2.3,2.3 0 1,0 -4.6,0M363.4,146.9a2.3,2.3 0 1,0 4.6,0a2.3,2.3 0 1,0 -4.6,0M302.4,119.7a2.3,2.3 0 1,0 4.6,0a2.3,2.3 0 1,0 -4.6,0M489.4,323.5a2.3,2.3 0 1,0 4.6,0a2.3,2.3 0 1,0 -4.6,0M528.2,220.5a2.3,2.3 0 1,0 4.6,0a2.3,2.3 0 1,0 -4.6,0M287.9,138.8a2.3,2.3 0 1,0 4.6,0a2.3,2.3 0 1,0 -4.6,0M544.4,232.0a2.3,2.3 0 1,0 4.6,0a2.3,2.3 0 1,0 -4.6,0M461.2,83.2a2.3,2.3 0 1,0 4.6,0a2.3,2.3 0 1,0 -4.6,0M513.2,343.1a2.3,2.3 0 1,0 4.6,0a2.3,2.3 0 1,0 -4.6,0M431.5,258.4a2.3,2.3 0 1,0 4.6,0a2.3,2.3 0 1,0 -4.6,0M375.6,126.6a2.3,2.3 0 1,0 4.6,0a2.3,2.3 0 1,0 -4.6,0M406.1,177.2a2.3,2.3 0 1,0 4.6,0a2.3,2.3 0 1,0 -4.6,0M287.4,120.0a2.3,2.3 0 1,0 4.6,0a2.3,2.3 0 1,0 -4.6,0M428.4,270.2a2.3,2.3 0 1,0 4.6,0a2.3,2.3 0 1,0 -4.6,0M323.1,86.6a2.3,2.3 0 1,0 4.6,0a2.3,2.3 0 1,0 -4.6,0M398.4,192.6a2.3,2.3 0 1,0 4.6,0a2.3,2.3 0 1,0 -4.6,0M336.3,160.1a2.3,2.3 0 1,0 4.6,0a2.3,2.3 0 1,0 -4.6,0M344.0,163.4a2.3,2.3 0 1,0 4.6,0a2.3,2.3 0 1,0 -4.6,0M367.6,144.9a2.3,2.3 0 1,0 4.6,0a2.3,2.3 0 1,0 -4.6,0M361.1,139.2a2.3,2.3 0 1,0 4.6,0a2.3,2.3 0 1,0 -4.6,0M511.4,183.5a2.3,2.3 0 1,0 4.6,0a2.3,2.3 0 1,0 -4.6,0M320.6,139.3a2.3,2.3 0 1,0 4.6,0a2.3,2.3 0 1,0 -4.6,0M557.4,255.1a2.3,2.3 0 1,0 4.6,0a2.3,2.3 0 1,0 -4.6,0M377.0,204.8a2.3,2.3 0 1,0 4.6,0a2.3,2.3 0 1,0 -4.6,0M448.0,298.7a2.3,2.3 0 1,0 4.6,0a2.3,2.3 0 1,0 -4.6,0M365.7,122.4a2.3,2.3 0 1,0 4.6,0a2.3,2.3 0 1,0 -4.6,0M385.5,188.1a2.3,2.3 0 1,0 4.6,0a2.3,2.3 0 1,0 -4.6,0M397.8,141.1a2.3,2.3 0 1,0 4.6,0a2.3,2.3 0 1,0 -4.6,0M408.5,220.0a2.3,2.3 0 1,0 4.6,0a2.3,2.3 0 1,0 -4.6,0M543.2,244.8a2.3,2.3 0 1,0 4.6,0a2.3,2.3 0 1,0 -4.6,0M369.5,159.9a2.3,2.3 0 1,0 4.6,0a2.3,2.3 0 1,0 -4.6,0M425.1,263.0a2.3,2.3 0 1,0 4.6,0a2.3,2.3 0 1,0 -4.6,0M328.9,158.2a2.3,2.3 0 1,0 4.6,0a2.3,2.3 0 1,0 -4.6,0M401.6,166.8a2.3,2.3 0 1,0 4.6,0a2.3,2.3 0 1,0 -4.6,0M508.7,337.5a2.3,2.3 0 1,0 4.6,0a2.3,2.3 0 1,0 -4.6,0M402.2,155.0a2.3,2.3 0 1,0 4.6,0a2.3,2.3 0 1,0 -4.6,0M395.5,187.2a2.3,2.3 0 1,0 4.6,0a2.3,2.3 0 1,0 -4.6,0M403.4,171.4a2.3,2.3 0 1,0 4.6,0a2.3,2.3 0 1,0 -4.6,0M475.3,78.5a2.3,2.3 0 1,0 4.6,0a2.3,2.3 0 1,0 -4.6,0M380.9,136.2a2.3,2.3 0 1,0 4.6,0a2.3,2.3 0 1,0 -4.6,0M528.0,178.8a2.3,2.3 0 1,0 4.6,0a2.3,2.3 0 1,0 -4.6,0M450.7,282.2a2.3,2.3 0 1,0 4.6,0a2.3,2.3 0 1,0 -4.6,0M382.0,161.6a2.3,2.3 0 1,0 4.6,0a2.3,2.3 0 1,0 -4.6,0M512.4,164.7a2.3,2.3 0 1,0 4.6,0a2.3,2.3 0 1,0 -4.6,0M441.7,273.0a2.3,2.3 0 1,0 4.6,0a2.3,2.3 0 1,0 -4.6,0M323.0,173.4a2.3,2.3 0 1,0 4.6,0a2.3,2.3 0 1,0 -4.6,0M377.6,126.7a2.3,2.3 0 1,0 4.6,0a2.3,2.3 0 1,0 -4.6,0M304.1,73.9a2.3,2.3 0 1,0 4.6,0a2.3,2.3 0 1,0 -4.6,0M331.8,118.3a2.3,2.3 0 1,0 4.6,0a2.3,2.3 0 1,0 -4.6,0M507.9,177.8a2.3,2.3 0 1,0 4.6,0a2.3,2.3 0 1,0 -4.6,0M526.5,352.3a2.3,2.3 0 1,0 4.6,0a2.3,2.3 0 1,0 -4.6,0M360.6,169.9a2.3,2.3 0 1,0 4.6,0a2.3,2.3 0 1,0 -4.6,0M383.0,157.9a2.3,2.3 0 1,0 4.6,0a2.3,2.3 0 1,0 -4.6,0M463.7,313.1a2.3,2.3 0 1,0 4.6,0a2.3,2.3 0 1,0 -4.6,0M433.1,251.5a2.3,2.3 0 1,0 4.6,0a2.3,2.3 0 1,0 -4.6,0M489.5,121.2a2.3,2.3 0 1,0 4.6,0a2.3,2.3 0 1,0 -4.6,0M326.8,168.4a2.3,2.3 0 1,0 4.6,0a2.3,2.3 0 1,0 -4.6,0M400.3,221.9a2.3,2.3 0 1,0 4.6,0a2.3,2.3 0 1,0 -4.6,0M354.8,111.1a2.3,2.3 0 1,0 4.6,0a2.3,2.3 0 1,0 -4.6,0M294.8,135.7a2.3,2.3 0 1,0 4.6,0a2.3,2.3 0 1,0 -4.6,0M366.9,146.3a2.3,2.3 0 1,0 4.6,0a2.3,2.3 0 1,0 -4.6,0M382.9,210.4a2.3,2.3 0 1,0 4.6,0a2.3,2.3 0 1,0 -4.6,0M470.4,87.9a2.3,2.3 0 1,0 4.6,0a2.3,2.3 0 1,0 -4.6,0M407.2,159.9a2.3,2.3 0 1,0 4.6,0a2.3,2.3 0 1,0 -4.6,0M363.2,196.9a2.3,2.3 0 1,0 4.6,0a2.3,2.3 0 1,0 -4.6,0M558.7,276.3a2.3,2.3 0 1,0 4.6,0a2.3,2.3 0 1,0 -4.6,0M405.1,239.9a2.3,2.3 0 1,0 4.6,0a2.3,2.3 0 1,0 -4.6,0M511.3,183.4a2.3,2.3 0 1,0 4.6,0a2.3,2.3 0 1,0 -4.6,0M377.3,134.4a2.3,2.3 0 1,0 4.6,0a2.3,2.3 0 1,0 -4.6,0M545.7,252.7a2.3,2.3 0 1,0 4.6,0a2.3,2.3 0 1,0 -4.6,0M457.7,74.9a2.3,2.3 0 1,0 4.6,0a2.3,2.3 0 1,0 -4.6,0M378.2,187.7a2.3,2.3 0 1,0 4.6,0a2.3,2.3 0 1,0 -4.6,0M314.2,109.5a2.3,2.3 0 1,0 4.6,0a2.3,2.3 0 1,0 -4.6,0M522.7,205.3a2.3,2.3 0 1,0 4.6,0a2.3,2.3 0 1,0 -4.6,0M308.4,81.4a2.3,2.3 0 1,0 4.6,0a2.3,2.3 0 1,0 -4.6,0M394.2,237.1a2.3,2.3 0 1,0 4.6,0a2.3,2.3 0 1,0 -4.6,0M320.0,113.7a2.3,2.3 0 1,0 4.6,0a2.3,2.3 0 1,0 -4.6,0M436.7,265.0a2.3,2.3 0 1,0 4.6,0a2.3,2.3 0 1,0 -4.6,0M486.5,110.2a2.3,2.3 0 1,0 4.6,0a2.3,2.3 0 1,0 -4.6,0M518.2,167.5a2.3,2.3 0 1,0 4.6,0a2.3,2.3 0 1,0 -4.6,0M395.6,147.8a2.3,2.3 0 1,0 4.6,0a2.3,2.3 0 1,0 -4.6,0M324.0,99.4a2.3,2.3 0 1,0 4.6,0a2.3,2.3 0 1,0 -4.6,0M391.9,142.1a2.3,2.3 0 1,0 4.6,0a2.3,2.3 0 1,0 -4.6,0M352.3,152.9a2.3,2.3 0 1,0 4.6,0a2.3,2.3 0 1,0 -4.6,0M307.7,81.7a2.3,2.3 0 1,0 4.6,0a2.3,2.3 0 1,0 -4.6,0M524.9,191.7a2.3,2.3 0 1,0 4.6,0a2.3,2.3 0 1,0 -4.6,0M467.5,309.0a2.3,2.3 0 1,0 4.6,0a2.3,2.3 0 1,0 -4.6,0M355.9,121.3a2.3,2.3 0 1,0 4.6,0a2.3,2.3 0 1,0 -4.6,0M517.5,157.5a2.3,2.3 0 1,0 4.6,0a2.3,2.3 0 1,0 -4.6,0M330.7,98.4a2.3,2.3 0 1,0 4.6,0a2.3,2.3 0 1,0 -4.6,0M450.3,282.2a2.3,2.3 0 1,0 4.6,0a2.3,2.3 0 1,0 -4.6,0M491.3,113.4a2.3,2.3 0 1,0 4.6,0a2.3,2.3 0 1,0 -4.6,0M309.5,155.4a2.3,2.3 0 1,0 4.6,0a2.3,2.3 0 1,0 -4.6,0M515.3,177.2a2.3,2.3 0 1,0 4.6,0a2.3,2.3 0 1,0 -4.6,0M420.5,248.9a2.3,2.3 0 1,0 4.6,0a2.3,2.3 0 1,0 -4.6,0M296.1,71.9a2.3,2.3 0 1,0 4.6,0a2.3,2.3 0 1,0 -4.6,0M509.6,175.6a2.3,2.3 0 1,0 4.6,0a2.3,2.3 0 1,0 -4.6,0M543.9,356.0a2.3,2.3 0 1,0 4.6,0a2.3,2.3 0 1,0 -4.6,0M367.1,197.9a2.3,2.3 0 1,0 4.6,0a2.3,2.3 0 1,0 -4.6,0M349.0,172.1a2.3,2.3 0 1,0 4.6,0a2.3,2.3 0 1,0 -4.6,0M391.2,217.2a2.3,2.3 0 1,0 4.6,0a2.3,2.3 0 1,0 -4.6,0M386.4,134.7a2.3,2.3 0 1,0 4.6,0a2.3,2.3 0 1,0 -4.6,0M452.2,279.3a2.3,2.3 0 1,0 4.6,0a2.3,2.3 0 1,0 -4.6,0M556.1,277.5a2.3,2.3 0 1,0 4.6,0a2.3,2.3 0 1,0 -4.6,0M397.4,158.7a2.3,2.3 0 1,0 4.6,0a2.3,2.3 0 1,0 -4.6,0M387.8,128.9a2.3,2.3 0 1,0 4.6,0a2.3,2.3 0 1,0 -4.6,0M421.6,238.0a2.3,2.3 0 1,0 4.6,0a2.3,2.3 0 1,0 -4.6,0M303.0,112.3a2.3,2.3 0 1,0 4.6,0a2.3,2.3 0 1,0 -4.6,0M289.4,112.2a2.3,2.3 0 1,0 4.6,0a2.3,2.3 0 1,0 -4.6,0M374.3,184.9a2.3,2.3 0 1,0 4.6,0a2.3,2.3 0 1,0 -4.6,0M399.1,146.8a2.3,2.3 0 1,0 4.6,0a2.3,2.3 0 1,0 -4.6,0M365.0,125.2a2.3,2.3 0 1,0 4.6,0a2.3,2.3 0 1,0 -4.6,0M369.5,162.6a2.3,2.3 0 1,0 4.6,0a2.3,2.3 0 1,0 -4.6,0M413.2,229.6a2.3,2.3 0 1,0 4.6,0a2.3,2.3 0 1,0 -4.6,0M455.0,297.3a2.3,2.3 0 1,0 4.6,0a2.3,2.3 0 1,0 -4.6,0M436.2,275.6a2.3,2.3 0 1,0 4.6,0a2.3,2.3 0 1,0 -4.6,0M292.4,71.6a2.3,2.3 0 1,0 4.6,0a2.3,2.3 0 1,0 -4.6,0M367.6,157.2a2.3,2.3 0 1,0 4.6,0a2.3,2.3 0 1,0 -4.6,0M389.7,141.6a2.3,2.3 0 1,0 4.6,0a2.3,2.3 0 1,0 -4.6,0M407.2,172.5a2.3,2.3 0 1,0 4.6,0a2.3,2.3 0 1,0 -4.6,0M447.3,282.6a2.3,2.3 0 1,0 4.6,0a2.3,2.3 0 1,0 -4.6,0M390.7,205.2a2.3,2.3 0 1,0 4.6,0a2.3,2.3 0 1,0 -4.6,0M526.2,195.1a2.3,2.3 0 1,0 4.6,0a2.3,2.3 0 1,0 -4.6,0M333.7,101.6a2.3,2.3 0 1,0 4.6,0a2.3,2.3 0 1,0 -4.6,0M508.1,143.8a2.3,2.3 0 1,0 4.6,0a2.3,2.3 0 1,0 -4.6,0M383.9,192.0a2.3,2.3 0 1,0 4.6,0a2.3,2.3 0 1,0 -4.6,0M323.0,150.0a2.3,2.3 0 1,0 4.6,0a2.3,2.3 0 1,0 -4.6,0M382.5,155.2a2.3,2.3 0 1,0 4.6,0a2.3,2.3 0 1,0 -4.6,0M397.1,151.4a2.3,2.3 0 1,0 4.6,0a2.3,2.3 0 1,0 -4.6,0M514.9,340.7a2.3,2.3 0 1,0 4.6,0a2.3,2.3 0 1,0 -4.6,0M446.5,299.7a2.3,2.3 0 1,0 4.6,0a2.3,2.3 0 1,0 -4.6,0M320.7,115.4a2.3,2.3 0 1,0 4.6,0a2.3,2.3 0 1,0 -4.6,0M445.4,291.4a2.3,2.3 0 1,0 4.6,0a2.3,2.3 0 1,0 -4.6,0M544.2,236.5a2.3,2.3 0 1,0 4.6,0a2.3,2.3 0 1,0 -4.6,0M464.5,83.7a2.3,2.3 0 1,0 4.6,0a2.3,2.3 0 1,0 -4.6,0M523.3,193.3a2.3,2.3 0 1,0 4.6,0a2.3,2.3 0 1,0 -4.6,0M325.3,95.7a2.3,2.3 0 1,0 4.6,0a2.3,2.3 0 1,0 -4.6,0M397.3,188.2a2.3,2.3 0 1,0 4.6,0a2.3,2.3 0 1,0 -4.6,0M338.0,142.0a2.3,2.3 0 1,0 4.6,0a2.3,2.3 0 1,0 -4.6,0M340.0,149.1a2.3,2.3 0 1,0 4.6,0a2.3,2.3 0 1,0 -4.6,0M376.1,120.2a2.3,2.3 0 1,0 4.6,0a2.3,2.3 0 1,0 -4.6,0M502.4,146.0a2.3,2.3 0 1,0 4.6,0a2.3,2.3 0 1,0 -4.6,0M381.2,158.0a2.3,2.3 0 1,0 4.6,0a2.3,2.3 0 1,0 -4.6,0M386.7,181.8a2.3,2.3 0 1,0 4.6,0a2.3,2.3 0 1,0 -4.6,0M302.8,73.9a2.3,2.3 0 1,0 4.6,0a2.3,2.3 0 1,0 -4.6,0M364.7,131.9a2.3,2.3 0 1,0 4.6,0a2.3,2.3 0 1,0 -4.6,0M309.3,148.7a2.3,2.3 0 1,0 4.6,0a2.3,2.3 0 1,0 -4.6,0M311.8,122.4a2.3,2.3 0 1,0 4.6,0a2.3,2.3 0 1,0 -4.6,0M401.5,232.8a2.3,2.3 0 1,0 4.6,0a2.3,2.3 0 1,0 -4.6,0M394.7,168.2a2.3,2.3 0 1,0 4.6,0a2.3,2.3 0 1,0 -4.6,0M500.4,138.0a2.3,2.3 0 1,0 4.6,0a2.3,2.3 0 1,0 -4.6,0M563.9,319.1a2.3,2.3 0 1,0 4.6,0a2.3,2.3 0 1,0 -4.6,0M308.2,104.2a2.3,2.3 0 1,0 4.6,0a2.3,2.3 0 1,0 -4.6,0M485.6,114.7a2.3,2.3 0 1,0 4.6,0a2.3,2.3 0 1,0 -4.6,0M334.9,142.6a2.3,2.3 0 1,0 4.6,0a2.3,2.3 0 1,0 -4.6,0M448.5,282.9a2.3,2.3 0 1,0 4.6,0a2.3,2.3 0 1,0 -4.6,0M404.7,177.5a2.3,2.3 0 1,0 4.6,0a2.3,2.3 0 1,0 -4.6,0M477.7,320.6a2.3,2.3 0 1,0 4.6,0a2.3,2.3 0 1,0 -4.6,0M357.6,113.1a2.3,2.3 0 1,0 4.6,0a2.3,2.3 0 1,0 -4.6,0M566.1,287.9a2.3,2.3 0 1,0 4.6,0a2.3,2.3 0 1,0 -4.6,0M365.6,179.1a2.3,2.3 0 1,0 4.6,0a2.3,2.3 0 1,0 -4.6,0M382.7,215.3a2.3,2.3 0 1,0 4.6,0a2.3,2.3 0 1,0 -4.6,0M328.8,89.2a2.3,2.3 0 1,0 4.6,0a2.3,2.3 0 1,0 -4.6,0M397.6,141.8a2.3,2.3 0 1,0 4.6,0a2.3,2.3 0 1,0 -4.6,0M310.5,121.4a2.3,2.3 0 1,0 4.6,0a2.3,2.3 0 1,0 -4.6,0M390.0,204.4a2.3,2.3 0 1,0 4.6,0a2.3,2.3 0 1,0 -4.6,0M512.6,339.3a2.3,2.3 0 1,0 4.6,0a2.3,2.3 0 1,0 -4.6,0M535.6,234.7a2.3,2.3 0 1,0 4.6,0a2.3,2.3 0 1,0 -4.6,0M363.7,141.4a2.3,2.3 0 1,0 4.6,0a2.3,2.3 0 1,0 -4.6,0M353.7,177.8a2.3,2.3 0 1,0 4.6,0a2.3,2.3 0 1,0 -4.6,0M344.4,141.0a2.3,2.3 0 1,0 4.6,0a2.3,2.3 0 1,0 -4.6,0M284.6,60.2a2.3,2.3 0 1,0 4.6,0a2.3,2.3 0 1,0 -4.6,0M376.4,120.7a2.3,2.3 0 1,0 4.6,0a2.3,2.3 0 1,0 -4.6,0M394.4,215.1a2.3,2.3 0 1,0 4.6,0a2.3,2.3 0 1,0 -4.6,0M375.7,138.8a2.3,2.3 0 1,0 4.6,0a2.3,2.3 0 1,0 -4.6,0M437.5,265.4a2.3,2.3 0 1,0 4.6,0a2.3,2.3 0 1,0 -4.6,0M353.7,150.1a2.3,2.3 0 1,0 4.6,0a2.3,2.3 0 1,0 -4.6,0M429.4,284.4a2.3,2.3 0 1,0 4.6,0a2.3,2.3 0 1,0 -4.6,0M468.6,301.9a2.3,2.3 0 1,0 4.6,0a2.3,2.3 0 1,0 -4.6,0M384.6,132.5a2.3,2.3 0 1,0 4.6,0a2.3,2.3 0 1,0 -4.6,0M518.6,169.6a2.3,2.3 0 1,0 4.6,0a2.3,2.3 0 1,0 -4.6,0M374.5,188.3a2.3,2.3 0 1,0 4.6,0a2.3,2.3 0 1,0 -4.6,0M357.0,113.6a2.3,2.3 0 1,0 4.6,0a2.3,2.3 0 1,0 -4.6,0M366.4,185.7a2.3,2.3 0 1,0 4.6,0a2.3,2.3 0 1,0 -4.6,0M360.9,175.6a2.3,2.3 0 1,0 4.6,0a2.3,2.3 0 1,0 -4.6,0M403.5,176.0a2.3,2.3 0 1,0 4.6,0a2.3,2.3 0 1,0 -4.6,0M552.2,261.9a2.3,2.3 0 1,0 4.6,0a2.3,2.3 0 1,0 -4.6,0M502.5,338.9a2.3,2.3 0 1,0 4.6,0a2.3,2.3 0 1,0 -4.6,0M368.6,173.4a2.3,2.3 0 1,0 4.6,0a2.3,2.3 0 1,0 -4.6,0M431.4,258.6a2.3,2.3 0 1,0 4.6,0a2.3,2.3 0 1,0 -4.6,0M473.8,95.7a2.3,2.3 0 1,0 4.6,0a2.3,2.3 0 1,0 -4.6,0M397.0,188.4a2.3,2.3 0 1,0 4.6,0a2.3,2.3 0 1,0 -4.6,0M367.7,177.9a2.3,2.3 0 1,0 4.6,0a2.3,2.3 0 1,0 -4.6,0M482.3,92.4a2.3,2.3 0 1,0 4.6,0a2.3,2.3 0 1,0 -4.6,0M394.6,184.2a2.3,2.3 0 1,0 4.6,0a2.3,2.3 0 1,0 -4.6,0M516.3,176.3a2.3,2.3 0 1,0 4.6,0a2.3,2.3 0 1,0 -4.6,0M386.2,194.9a2.3,2.3 0 1,0 4.6,0a2.3,2.3 0 1,0 -4.6,0M358.2,151.7a2.3,2.3 0 1,0 4.6,0a2.3,2.3 0 1,0 -4.6,0M371.4,147.2a2.3,2.3 0 1,0 4.6,0a2.3,2.3 0 1,0 -4.6,0M355.0,148.2a2.3,2.3 0 1,0 4.6,0a2.3,2.3 0 1,0 -4.6,0M292.8,139.0a2.3,2.3 0 1,0 4.6,0a2.3,2.3 0 1,0 -4.6,0M426.1,255.4a2.3,2.3 0 1,0 4.6,0a2.3,2.3 0 1,0 -4.6,0M537.3,352.2a2.3,2.3 0 1,0 4.6,0a2.3,2.3 0 1,0 -4.6,0M360.8,208.2a2.3,2.3 0 1,0 4.6,0a2.3,2.3 0 1,0 -4.6,0M317.7,95.5a2.3,2.3 0 1,0 4.6,0a2.3,2.3 0 1,0 -4.6,0M340.9,185.2a2.3,2.3 0 1,0 4.6,0a2.3,2.3 0 1,0 -4.6,0M372.5,182.4a2.3,2.3 0 1,0 4.6,0a2.3,2.3 0 1,0 -4.6,0M572.8,305.8a2.3,2.3 0 1,0 4.6,0a2.3,2.3 0 1,0 -4.6,0M385.3,135.0a2.3,2.3 0 1,0 4.6,0a2.3,2.3 0 1,0 -4.6,0M370.1,178.7a2.3,2.3 0 1,0 4.6,0a2.3,2.3 0 1,0 -4.6,0M324.5,163.8a2.3,2.3 0 1,0 4.6,0a2.3,2.3 0 1,0 -4.6,0M361.0,162.4a2.3,2.3 0 1,0 4.6,0a2.3,2.3 0 1,0 -4.6,0M341.5,132.1a2.3,2.3 0 1,0 4.6,0a2.3,2.3 0 1,0 -4.6,0M364.3,205.1a2.3,2.3 0 1,0 4.6,0a2.3,2.3 0 1,0 -4.6,0M323.8,121.0a2.3,2.3 0 1,0 4.6,0a2.3,2.3 0 1,0 -4.6,0M340.7,100.8a2.3,2.3 0 1,0 4.6,0a2.3,2.3 0 1,0 -4.6,0M369.5,148.7a2.3,2.3 0 1,0 4.6,0a2.3,2.3 0 1,0 -4.6,0M382.5,130.0a2.3,2.3 0 1,0 4.6,0a2.3,2.3 0 1,0 -4.6,0M393.4,207.7a2.3,2.3 0 1,0 4.6,0a2.3,2.3 0 1,0 -4.6,0M383.5,156.2a2.3,2.3 0 1,0 4.6,0a2.3,2.3 0 1,0 -4.6,0M302.6,115.7a2.3,2.3 0 1,0 4.6,0a2.3,2.3 0 1,0 -4.6,0M328.5,149.1a2.3,2.3 0 1,0 4.6,0a2.3,2.3 0 1,0 -4.6,0M541.4,235.7a2.3,2.3 0 1,0 4.6,0a2.3,2.3 0 1,0 -4.6,0M466.9,79.7a2.3,2.3 0 1,0 4.6,0a2.3,2.3 0 1,0 -4.6,0M403.8,188.2a2.3,2.3 0 1,0 4.6,0a2.3,2.3 0 1,0 -4.6,0M377.7,178.1a2.3,2.3 0 1,0 4.6,0a2.3,2.3 0 1,0 -4.6,0M451.2,285.8a2.3,2.3 0 1,0 4.6,0a2.3,2.3 0 1,0 -4.6,0M158.6,69.9a2.3,2.3 0 1,0 4.6,0a2.3,2.3 0 1,0 -4.6,0M166.0,76.9a2.3,2.3 0 1,0 4.6,0a2.3,2.3 0 1,0 -4.6,0M217.8,67.8a2.3,2.3 0 1,0 4.6,0a2.3,2.3 0 1,0 -4.6,0M226.5,55.2a2.3,2.3 0 1,0 4.6,0a2.3,2.3 0 1,0 -4.6,0M225.0,102.8a2.3,2.3 0 1,0 4.6,0a2.3,2.3 0 1,0 -4.6,0M229.2,90.5a2.3,2.3 0 1,0 4.6,0a2.3,2.3 0 1,0 -4.6,0M227.0,54.9a2.3,2.3 0 1,0 4.6,0a2.3,2.3 0 1,0 -4.6,0M231.7,57.8a2.3,2.3 0 1,0 4.6,0a2.3,2.3 0 1,0 -4.6,0M242.3,52.6a2.3,2.3 0 1,0 4.6,0a2.3,2.3 0 1,0 -4.6,0M243.7,55.5a2.3,2.3 0 1,0 4.6,0a2.3,2.3 0 1,0 -4.6,0M244.7,58.4a2.3,2.3 0 1,0 4.6,0a2.3,2.3 0 1,0 -4.6,0M249.8,66.4a2.3,2.3 0 1,0 4.6,0a2.3,2.3 0 1,0 -4.6,0M256.3,69.8a2.3,2.3 0 1,0 4.6,0a2.3,2.3 0 1,0 -4.6,0M242.0,72.4a2.3,2.3 0 1,0 4.6,0a2.3,2.3 0 1,0 -4.6,0M261.0,66.6a2.3,2.3 0 1,0 4.6,0a2.3,2.3 0 1,0 -4.6,0M263.6,63.7a2.3,2.3 0 1,0 4.6,0a2.3,2.3 0 1,0 -4.6,0M259.8,54.9a2.3,2.3 0 1,0 4.6,0a2.3,2.3 0 1,0 -4.6,0M263.0,56.7a2.3,2.3 0 1,0 4.6,0a2.3,2.3 0 1,0 -4.6,0M265.3,58.4a2.3,2.3 0 1,0 4.6,0a2.3,2.3 0 1,0 -4.6,0M265.9,55.3a2.3,2.3 0 1,0 4.6,0a2.3,2.3 0 1,0 -4.6,0M270.6,54.9a2.3,2.3 0 1,0 4.6,0a2.3,2.3 0 1,0 -4.6,0M271.8,57.8a2.3,2.3 0 1,0 4.6,0a2.3,2.3 0 1,0 -4.6,0M274.7,56.7a2.3,2.3 0 1,0 4.6,0a2.3,2.3 0 1,0 -4.6,0M271.8,66.0a2.3,2.3 0 1,0 4.6,0a2.3,2.3 0 1,0 -4.6,0M275.8,68.9a2.3,2.3 0 1,0 4.6,0a2.3,2.3 0 1,0 -4.6,0M276.8,73.0a2.3,2.3 0 1,0 4.6,0a2.3,2.3 0 1,0 -4.6,0M281.1,69.5a2.3,2.3 0 1,0 4.6,0a2.3,2.3 0 1,0 -4.6,0M271.5,78.9a2.3,2.3 0 1,0 4.6,0a2.3,2.3 0 1,0 -4.6,0M281.7,78.9a2.3,2.3 0 1,0 4.6,0a2.3,2.3 0 1,0 -4.6,0M288.7,77.7a2.3,2.3 0 1,0 4.6,0a2.3,2.3 0 1,0 -4.6,0M296.3,74.8a2.3,2.3 0 1,0 4.6,0a2.3,2.3 0 1,0 -4.6,0M297.4,84.7a2.3,2.3 0 1,0 4.6,0a2.3,2.3 0 1,0 -4.6,0M252.5,80.6a2.3,2.3 0 1,0 4.6,0a2.3,2.3 0 1,0 -4.6,0M251.9,83.5a2.3,2.3 0 1,0 4.6,0a2.3,2.3 0 1,0 -4.6,0M261.8,83.0a2.3,2.3 0 1,0 4.6,0a2.3,2.3 0 1,0 -4.6,0M269.4,86.5a2.3,2.3 0 1,0 4.6,0a2.3,2.3 0 1,0 -4.6,0M279.9,85.3a2.3,2.3 0 1,0 4.6,0a2.3,2.3 0 1,0 -4.6,0M281.1,86.5a2.3,2.3 0 1,0 4.6,0a2.3,2.3 0 1,0 -4.6,0M238.8,86.5a2.3,2.3 0 1,0 4.6,0a2.3,2.3 0 1,0 -4.6,0M229.4,90.5a2.3,2.3 0 1,0 4.6,0a2.3,2.3 0 1,0 -4.6,0M234.6,92.3a2.3,2.3 0 1,0 4.6,0a2.3,2.3 0 1,0 -4.6,0M246.6,93.5a2.3,2.3 0 1,0 4.6,0a2.3,2.3 0 1,0 -4.6,0M242.0,95.8a2.3,2.3 0 1,0 4.6,0a2.3,2.3 0 1,0 -4.6,0M240.8,98.7a2.3,2.3 0 1,0 4.6,0a2.3,2.3 0 1,0 -4.6,0M257.2,87.6a2.3,2.3 0 1,0 4.6,0a2.3,2.3 0 1,0 -4.6,0M257.2,90.0a2.3,2.3 0 1,0 4.6,0a2.3,2.3 0 1,0 -4.6,0M263.0,89.1a2.3,2.3 0 1,0 4.6,0a2.3,2.3 0 1,0 -4.6,0M262.4,93.5a2.3,2.3 0 1,0 4.6,0a2.3,2.3 0 1,0 -4.6,0M254.5,96.0a2.3,2.3 0 1,0 4.6,0a2.3,2.3 0 1,0 -4.6,0M270.0,94.0a2.3,2.3 0 1,0 4.6,0a2.3,2.3 0 1,0 -4.6,0M276.2,94.6a2.3,2.3 0 1,0 4.6,0a2.3,2.3 0 1,0 -4.6,0M281.1,94.6a2.3,2.3 0 1,0 4.6,0a2.3,2.3 0 1,0 -4.6,0M284.6,90.0a2.3,2.3 0 1,0 4.6,0a2.3,2.3 0 1,0 -4.6,0M287.5,92.9a2.3,2.3 0 1,0 4.6,0a2.3,2.3 0 1,0 -4.6,0M289.9,94.0a2.3,2.3 0 1,0 4.6,0a2.3,2.3 0 1,0 -4.6,0M287.5,97.0a2.3,2.3 0 1,0 4.6,0a2.3,2.3 0 1,0 -4.6,0M300.7,95.2a2.3,2.3 0 1,0 4.6,0a2.3,2.3 0 1,0 -4.6,0M248.2,99.9a2.3,2.3 0 1,0 4.6,0a2.3,2.3 0 1,0 -4.6,0M249.6,105.7a2.3,2.3 0 1,0 4.6,0a2.3,2.3 0 1,0 -4.6,0M256.3,102.8a2.3,2.3 0 1,0 4.6,0a2.3,2.3 0 1,0 -4.6,0M259.8,105.7a2.3,2.3 0 1,0 4.6,0a2.3,2.3 0 1,0 -4.6,0M272.9,99.9a2.3,2.3 0 1,0 4.6,0a2.3,2.3 0 1,0 -4.6,0M296.0,102.5a2.3,2.3 0 1,0 4.6,0a2.3,2.3 0 1,0 -4.6,0M254.2,108.6a2.3,2.3 0 1,0 4.6,0a2.3,2.3 0 1,0 -4.6,0M269.4,106.9a2.3,2.3 0 1,0 4.6,0a2.3,2.3 0 1,0 -4.6,0M283.4,104.6a2.3,2.3 0 1,0 4.6,0a2.3,2.3 0 1,0 -4.6,0M288.1,105.7a2.3,2.3 0 1,0 4.6,0a2.3,2.3 0 1,0 -4.6,0M291.6,108.6a2.3,2.3 0 1,0 4.6,0a2.3,2.3 0 1,0 -4.6,0M249.5,106.2a2.3,2.3 0 1,0 4.6,0a2.3,2.3 0 1,0 -4.6,0M254.2,109.1a2.3,2.3 0 1,0 4.6,0a2.3,2.3 0 1,0 -4.6,0M259.4,106.2a2.3,2.3 0 1,0 4.6,0a2.3,2.3 0 1,0 -4.6,0M249.8,127.2a2.3,2.3 0 1,0 4.6,0a2.3,2.3 0 1,0 -4.6,0M255.7,131.9a2.3,2.3 0 1,0 4.6,0a2.3,2.3 0 1,0 -4.6,0M270.5,121.9a2.3,2.3 0 1,0 4.6,0a2.3,2.3 0 1,0 -4.6,0M275.8,124.9a2.3,2.3 0 1,0 4.6,0a2.3,2.3 0 1,0 -4.6,0M276.9,126.6a2.3,2.3 0 1,0 4.6,0a2.3,2.3 0 1,0 -4.6,0M273.4,134.2a2.3,2.3 0 1,0 4.6,0a2.3,2.3 0 1,0 -4.6,0M277.5,134.2a2.3,2.3 0 1,0 4.6,0a2.3,2.3 0 1,0 -4.6,0M271.7,148.0a2.3,2.3 0 1,0 4.6,0a2.3,2.3 0 1,0 -4.6,0M282.8,143.5a2.3,2.3 0 1,0 4.6,0a2.3,2.3 0 1,0 -4.6,0M282.5,147.0a2.3,2.3 0 1,0 4.6,0a2.3,2.3 0 1,0 -4.6,0M282.8,150.5a2.3,2.3 0 1,0 4.6,0a2.3,2.3 0 1,0 -4.6,0M289.2,148.0a2.3,2.3 0 1,0 4.6,0a2.3,2.3 0 1,0 -4.6,0M290.7,138.9a2.3,2.3 0 1,0 4.6,0a2.3,2.3 0 1,0 -4.6,0M288.6,128.4a2.3,2.3 0 1,0 4.6,0a2.3,2.3 0 1,0 -4.6,0M290.9,126.0a2.3,2.3 0 1,0 4.6,0a2.3,2.3 0 1,0 -4.6,0M290.4,131.9a2.3,2.3 0 1,0 4.6,0a2.3,2.3 0 1,0 -4.6,0M292.7,158.1a2.3,2.3 0 1,0 4.6,0a2.3,2.3 0 1,0 -4.6,0M266.4,109.7a2.3,2.3 0 1,0 4.6,0a2.3,2.3 0 1,0 -4.6,0M267.6,113.2a2.3,2.3 0 1,0 4.6,0a2.3,2.3 0 1,0 -4.6,0M270.5,107.9a2.3,2.3 0 1,0 4.6,0a2.3,2.3 0 1,0 -4.6,0M274.6,110.3a2.3,2.3 0 1,0 4.6,0a2.3,2.3 0 1,0 -4.6,0M275.8,113.8a2.3,2.3 0 1,0 4.6,0a2.3,2.3 0 1,0 -4.6,0M278.7,110.3a2.3,2.3 0 1,0 4.6,0a2.3,2.3 0 1,0 -4.6,0M279.9,117.8a2.3,2.3 0 1,0 4.6,0a2.3,2.3 0 1,0 -4.6,0M282.8,116.7a2.3,2.3 0 1,0 4.6,0a2.3,2.3 0 1,0 -4.6,0M285.1,120.2a2.3,2.3 0 1,0 4.6,0a2.3,2.3 0 1,0 -4.6,0M282.8,112.0a2.3,2.3 0 1,0 4.6,0a2.3,2.3 0 1,0 -4.6,0M283.9,106.2a2.3,2.3 0 1,0 4.6,0a2.3,2.3 0 1,0 -4.6,0M287.4,109.7a2.3,2.3 0 1,0 4.6,0a2.3,2.3 0 1,0 -4.6,0M287.4,115.5a2.3,2.3 0 1,0 4.6,0a2.3,2.3 0 1,0 -4.6,0M290.4,117.8a2.3,2.3 0 1,0 4.6,0a2.3,2.3 0 1,0 -4.6,0M289.8,106.2a2.3,2.3 0 1,0 4.6,0a2.3,2.3 0 1,0 -4.6,0M292.7,112.0a2.3,2.3 0 1,0 4.6,0a2.3,2.3 0 1,0 -4.6,0M282.4,151.2a2.3,2.3 0 1,0 4.6,0a2.3,2.3 0 1,0 -4.6,0M293.6,158.2a2.3,2.3 0 1,0 4.6,0a2.3,2.3 0 1,0 -4.6,0M303.4,153.5a2.3,2.3 0 1,0 4.6,0a2.3,2.3 0 1,0 -4.6,0M297.6,167.5a2.3,2.3 0 1,0 4.6,0a2.3,2.3 0 1,0 -4.6,0M299.9,172.2a2.3,2.3 0 1,0 4.6,0a2.3,2.3 0 1,0 -4.6,0M303.4,161.7a2.3,2.3 0 1,0 4.6,0a2.3,2.3 0 1,0 -4.6,0M305.7,176.2a2.3,2.3 0 1,0 4.6,0a2.3,2.3 0 1,0 -4.6,0M310.9,177.6a2.3,2.3 0 1,0 4.6,0a2.3,2.3 0 1,0 -4.6,0M320.9,175.2a2.3,2.3 0 1,0 4.6,0a2.3,2.3 0 1,0 -4.6,0M331.0,193.2a2.3,2.3 0 1,0 4.6,0a2.3,2.3 0 1,0 -4.6,0M333.8,183.9a2.3,2.3 0 1,0 4.6,0a2.3,2.3 0 1,0 -4.6,0M340.3,196.7a2.3,2.3 0 1,0 4.6,0a2.3,2.3 0 1,0 -4.6,0M347.8,207.2a2.3,2.3 0 1,0 4.6,0a2.3,2.3 0 1,0 -4.6,0M331.4,209.6a2.3,2.3 0 1,0 4.6,0a2.3,2.3 0 1,0 -4.6,0M357.1,211.9a2.3,2.3 0 1,0 4.6,0a2.3,2.3 0 1,0 -4.6,0M362.3,220.5a2.3,2.3 0 1,0 4.6,0a2.3,2.3 0 1,0 -4.6,0M350.1,200.2a2.3,2.3 0 1,0 4.6,0a2.3,2.3 0 1,0 -4.6,0M373.5,205.6a2.3,2.3 0 1,0 4.6,0a2.3,2.3 0 1,0 -4.6,0M372.3,217.7a2.3,2.3 0 1,0 4.6,0a2.3,2.3 0 1,0 -4.6,0M374.6,224.7a2.3,2.3 0 1,0 4.6,0a2.3,2.3 0 1,0 -4.6,0M380.5,236.4a2.3,2.3 0 1,0 4.6,0a2.3,2.3 0 1,0 -4.6,0M379.8,242.3a2.3,2.3 0 1,0 4.6,0a2.3,2.3 0 1,0 -4.6,0M383.3,257.9a2.3,2.3 0 1,0 4.6,0a2.3,2.3 0 1,0 -4.6,0M394.5,248.1a2.3,2.3 0 1,0 4.6,0a2.3,2.3 0 1,0 -4.6,0M398.0,244.6a2.3,2.3 0 1,0 4.6,0a2.3,2.3 0 1,0 -4.6,0M401.5,248.1a2.3,2.3 0 1,0 4.6,0a2.3,2.3 0 1,0 -4.6,0M409.7,252.8a2.3,2.3 0 1,0 4.6,0a2.3,2.3 0 1,0 -4.6,0M409.7,263.3a2.3,2.3 0 1,0 4.6,0a2.3,2.3 0 1,0 -4.6,0M387.5,227.1a2.3,2.3 0 1,0 4.6,0a2.3,2.3 0 1,0 -4.6,0M389.8,231.8a2.3,2.3 0 1,0 4.6,0a2.3,2.3 0 1,0 -4.6,0M331.2,209.8a2.3,2.3 0 1,0 4.6,0a2.3,2.3 0 1,0 -4.6,0M331.2,193.0a2.3,2.3 0 1,0 4.6,0a2.3,2.3 0 1,0 -4.6,0M333.9,184.1a2.3,2.3 0 1,0 4.6,0a2.3,2.3 0 1,0 -4.6,0M336.5,175.3a2.3,2.3 0 1,0 4.6,0a2.3,2.3 0 1,0 -4.6,0M341.0,196.5a2.3,2.3 0 1,0 4.6,0a2.3,2.3 0 1,0 -4.6,0M348.0,207.5a2.3,2.3 0 1,0 4.6,0a2.3,2.3 0 1,0 -4.6,0M356.9,211.5a2.3,2.3 0 1,0 4.6,0a2.3,2.3 0 1,0 -4.6,0M362.5,221.3a2.3,2.3 0 1,0 4.6,0a2.3,2.3 0 1,0 -4.6,0M350.7,200.9a2.3,2.3 0 1,0 4.6,0a2.3,2.3 0 1,0 -4.6,0M351.6,194.7a2.3,2.3 0 1,0 4.6,0a2.3,2.3 0 1,0 -4.6,0M346.3,193.9a2.3,2.3 0 1,0 4.6,0a2.3,2.3 0 1,0 -4.6,0M371.9,207.1a2.3,2.3 0 1,0 4.6,0a2.3,2.3 0 1,0 -4.6,0M375.4,204.5a2.3,2.3 0 1,0 4.6,0a2.3,2.3 0 1,0 -4.6,0M377.2,207.1a2.3,2.3 0 1,0 4.6,0a2.3,2.3 0 1,0 -4.6,0M372.8,216.8a2.3,2.3 0 1,0 4.6,0a2.3,2.3 0 1,0 -4.6,0M374.5,223.9a2.3,2.3 0 1,0 4.6,0a2.3,2.3 0 1,0 -4.6,0M379.0,216.8a2.3,2.3 0 1,0 4.6,0a2.3,2.3 0 1,0 -4.6,0M380.7,212.4a2.3,2.3 0 1,0 4.6,0a2.3,2.3 0 1,0 -4.6,0M384.3,209.8a2.3,2.3 0 1,0 4.6,0a2.3,2.3 0 1,0 -4.6,0M382.5,224.8a2.3,2.3 0 1,0 4.6,0a2.3,2.3 0 1,0 -4.6,0M380.7,237.2a2.3,2.3 0 1,0 4.6,0a2.3,2.3 0 1,0 -4.6,0M385.1,228.3a2.3,2.3 0 1,0 4.6,0a2.3,2.3 0 1,0 -4.6,0M388.7,233.6a2.3,2.3 0 1,0 4.6,0a2.3,2.3 0 1,0 -4.6,0M390.4,222.1a2.3,2.3 0 1,0 4.6,0a2.3,2.3 0 1,0 -4.6,0M394.9,223.0a2.3,2.3 0 1,0 4.6,0a2.3,2.3 0 1,0 -4.6,0M391.3,226.6a2.3,2.3 0 1,0 4.6,0a2.3,2.3 0 1,0 -4.6,0M401.9,232.7a2.3,2.3 0 1,0 4.6,0a2.3,2.3 0 1,0 -4.6,0M401.0,226.6a2.3,2.3 0 1,0 4.6,0a2.3,2.3 0 1,0 -4.6,0M394.9,247.8a2.3,2.3 0 1,0 4.6,0a2.3,2.3 0 1,0 -4.6,0M398.4,243.9a2.3,2.3 0 1,0 4.6,0a2.3,2.3 0 1,0 -4.6,0M401.9,247.8a2.3,2.3 0 1,0 4.6,0a2.3,2.3 0 1,0 -4.6,0M383.4,257.8a2.3,2.3 0 1,0 4.6,0a2.3,2.3 0 1,0 -4.6,0M409.4,252.5a2.3,2.3 0 1,0 4.6,0a2.3,2.3 0 1,0 -4.6,0M409.4,262.4a2.3,2.3 0 1,0 4.6,0a2.3,2.3 0 1,0 -4.6,0M406.3,240.7a2.3,2.3 0 1,0 4.6,0a2.3,2.3 0 1,0 -4.6,0M417.8,261.9a2.3,2.3 0 1,0 4.6,0a2.3,2.3 0 1,0 -4.6,0M423.1,263.7a2.3,2.3 0 1,0 4.6,0a2.3,2.3 0 1,0 -4.6,0M408.9,252.7a2.3,2.3 0 1,0 4.6,0a2.3,2.3 0 1,0 -4.6,0M409.3,262.4a2.3,2.3 0 1,0 4.6,0a2.3,2.3 0 1,0 -4.6,0M418.6,261.5a2.3,2.3 0 1,0 4.6,0a2.3,2.3 0 1,0 -4.6,0M419.5,251.8a2.3,2.3 0 1,0 4.6,0a2.3,2.3 0 1,0 -4.6,0M423.0,257.1a2.3,2.3 0 1,0 4.6,0a2.3,2.3 0 1,0 -4.6,0M423.9,263.3a2.3,2.3 0 1,0 4.6,0a2.3,2.3 0 1,0 -4.6,0M425.7,267.7a2.3,2.3 0 1,0 4.6,0a2.3,2.3 0 1,0 -4.6,0M423.0,271.2a2.3,2.3 0 1,0 4.6,0a2.3,2.3 0 1,0 -4.6,0M427.5,271.2a2.3,2.3 0 1,0 4.6,0a2.3,2.3 0 1,0 -4.6,0M426.2,275.6a2.3,2.3 0 1,0 4.6,0a2.3,2.3 0 1,0 -4.6,0M430.1,265.0a2.3,2.3 0 1,0 4.6,0a2.3,2.3 0 1,0 -4.6,0M431.9,275.6a2.3,2.3 0 1,0 4.6,0a2.3,2.3 0 1,0 -4.6,0M434.5,278.3a2.3,2.3 0 1,0 4.6,0a2.3,2.3 0 1,0 -4.6,0M424.5,282.3a2.3,2.3 0 1,0 4.6,0a2.3,2.3 0 1,0 -4.6,0M436.3,288.9a2.3,2.3 0 1,0 4.6,0a2.3,2.3 0 1,0 -4.6,0M435.4,292.4a2.3,2.3 0 1,0 4.6,0a2.3,2.3 0 1,0 -4.6,0M439.0,298.6a2.3,2.3 0 1,0 4.6,0a2.3,2.3 0 1,0 -4.6,0M428.9,298.6a2.3,2.3 0 1,0 4.6,0a2.3,2.3 0 1,0 -4.6,0M441.6,295.1a2.3,2.3 0 1,0 4.6,0a2.3,2.3 0 1,0 -4.6,0M445.1,295.1a2.3,2.3 0 1,0 4.6,0a2.3,2.3 0 1,0 -4.6,0M441.6,287.1a2.3,2.3 0 1,0 4.6,0a2.3,2.3 0 1,0 -4.6,0M447.8,303.0a2.3,2.3 0 1,0 4.6,0a2.3,2.3 0 1,0 -4.6,0M452.2,305.1a2.3,2.3 0 1,0 4.6,0a2.3,2.3 0 1,0 -4.6,0M457.2,309.7a2.3,2.3 0 1,0 4.6,0a2.3,2.3 0 1,0 -4.6,0M456.6,301.3a2.3,2.3 0 1,0 4.6,0a2.3,2.3 0 1,0 -4.6,0M465.5,306.9a2.3,2.3 0 1,0 4.6,0a2.3,2.3 0 1,0 -4.6,0M470.8,316.3a2.3,2.3 0 1,0 4.6,0a2.3,2.3 0 1,0 -4.6,0M473.4,317.7a2.3,2.3 0 1,0 4.6,0a2.3,2.3 0 1,0 -4.6,0M484.0,326.0a2.3,2.3 0 1,0 4.6,0a2.3,2.3 0 1,0 -4.6,0M486.7,329.5a2.3,2.3 0 1,0 4.6,0a2.3,2.3 0 1,0 -4.6,0M492.9,335.7a2.3,2.3 0 1,0 4.6,0a2.3,2.3 0 1,0 -4.6,0M496.4,337.1a2.3,2.3 0 1,0 4.6,0a2.3,2.3 0 1,0 -4.6,0M505.2,337.0a2.3,2.3 0 1,0 4.6,0a2.3,2.3 0 1,0 -4.6,0M499.0,331.3a2.3,2.3 0 1,0 4.6,0a2.3,2.3 0 1,0 -4.6,0M431.0,254.4a2.3,2.3 0 1,0 4.6,0a2.3,2.3 0 1,0 -4.6,0M435.4,258.8a2.3,2.3 0 1,0 4.6,0a2.3,2.3 0 1,0 -4.6,0M435.4,268.6a2.3,2.3 0 1,0 4.6,0a2.3,2.3 0 1,0 -4.6,0M453.0,67.6a2.3,2.3 0 1,0 4.6,0a2.3,2.3 0 1,0 -4.6,0M455.3,68.3a2.3,2.3 0 1,0 4.6,0a2.3,2.3 0 1,0 -4.6,0M459.2,71.2a2.3,2.3 0 1,0 4.6,0a2.3,2.3 0 1,0 -4.6,0M458.4,76.5a2.3,2.3 0 1,0 4.6,0a2.3,2.3 0 1,0 -4.6,0M465.1,74.2a2.3,2.3 0 1,0 4.6,0a2.3,2.3 0 1,0 -4.6,0M461.9,78.6a2.3,2.3 0 1,0 4.6,0a2.3,2.3 0 1,0 -4.6,0M465.4,82.1a2.3,2.3 0 1,0 4.6,0a2.3,2.3 0 1,0 -4.6,0M473.4,70.6a2.3,2.3 0 1,0 4.6,0a2.3,2.3 0 1,0 -4.6,0M476.0,75.0a2.3,2.3 0 1,0 4.6,0a2.3,2.3 0 1,0 -4.6,0M481.3,72.7a2.3,2.3 0 1,0 4.6,0a2.3,2.3 0 1,0 -4.6,0M478.3,81.2a2.3,2.3 0 1,0 4.6,0a2.3,2.3 0 1,0 -4.6,0M472.5,83.0a2.3,2.3 0 1,0 4.6,0a2.3,2.3 0 1,0 -4.6,0M469.8,86.5a2.3,2.3 0 1,0 4.6,0a2.3,2.3 0 1,0 -4.6,0M494.1,78.2a2.3,2.3 0 1,0 4.6,0a2.3,2.3 0 1,0 -4.6,0M485.7,91.3a2.3,2.3 0 1,0 4.6,0a2.3,2.3 0 1,0 -4.6,0M486.6,93.6a2.3,2.3 0 1,0 4.6,0a2.3,2.3 0 1,0 -4.6,0M479.6,94.5a2.3,2.3 0 1,0 4.6,0a2.3,2.3 0 1,0 -4.6,0M491.0,98.0a2.3,2.3 0 1,0 4.6,0a2.3,2.3 0 1,0 -4.6,0M497.2,98.0a2.3,2.3 0 1,0 4.6,0a2.3,2.3 0 1,0 -4.6,0M491.9,98.9a2.3,2.3 0 1,0 4.6,0a2.3,2.3 0 1,0 -4.6,0M484.0,103.3a2.3,2.3 0 1,0 4.6,0a2.3,2.3 0 1,0 -4.6,0M487.5,106.0a2.3,2.3 0 1,0 4.6,0a2.3,2.3 0 1,0 -4.6,0M493.7,113.0a2.3,2.3 0 1,0 4.6,0a2.3,2.3 0 1,0 -4.6,0M491.9,116.6a2.3,2.3 0 1,0 4.6,0a2.3,2.3 0 1,0 -4.6,0M492.8,122.8a2.3,2.3 0 1,0 4.6,0a2.3,2.3 0 1,0 -4.6,0M498.6,121.9a2.3,2.3 0 1,0 4.6,0a2.3,2.3 0 1,0 -4.6,0M498.1,129.8a2.3,2.3 0 1,0 4.6,0a2.3,2.3 0 1,0 -4.6,0M530.8,101.6a2.3,2.3 0 1,0 4.6,0a2.3,2.3 0 1,0 -4.6,0M537.0,112.7a2.3,2.3 0 1,0 4.6,0a2.3,2.3 0 1,0 -4.6,0M515.3,128.4a2.3,2.3 0 1,0 4.6,0a2.3,2.3 0 1,0 -4.6,0M517.6,136.4a2.3,2.3 0 1,0 4.6,0a2.3,2.3 0 1,0 -4.6,0M532.2,135.1a2.3,2.3 0 1,0 4.6,0a2.3,2.3 0 1,0 -4.6,0M509.6,142.2a2.3,2.3 0 1,0 4.6,0a2.3,2.3 0 1,0 -4.6,0M504.3,143.1a2.3,2.3 0 1,0 4.6,0a2.3,2.3 0 1,0 -4.6,0M517.7,136.2a2.3,2.3 0 1,0 4.6,0a2.3,2.3 0 1,0 -4.6,0M531.9,134.9a2.3,2.3 0 1,0 4.6,0a2.3,2.3 0 1,0 -4.6,0M515.4,130.0a2.3,2.3 0 1,0 4.6,0a2.3,2.3 0 1,0 -4.6,0M510.1,142.4a2.3,2.3 0 1,0 4.6,0a2.3,2.3 0 1,0 -4.6,0M506.6,144.1a2.3,2.3 0 1,0 4.6,0a2.3,2.3 0 1,0 -4.6,0M503.9,149.4a2.3,2.3 0 1,0 4.6,0a2.3,2.3 0 1,0 -4.6,0M510.1,156.5a2.3,2.3 0 1,0 4.6,0a2.3,2.3 0 1,0 -4.6,0M517.2,160.9a2.3,2.3 0 1,0 4.6,0a2.3,2.3 0 1,0 -4.6,0M526.9,159.7a2.3,2.3 0 1,0 4.6,0a2.3,2.3 0 1,0 -4.6,0M533.1,160.4a2.3,2.3 0 1,0 4.6,0a2.3,2.3 0 1,0 -4.6,0M511.9,167.1a2.3,2.3 0 1,0 4.6,0a2.3,2.3 0 1,0 -4.6,0M517.2,172.4a2.3,2.3 0 1,0 4.6,0a2.3,2.3 0 1,0 -4.6,0M524.3,171.0a2.3,2.3 0 1,0 4.6,0a2.3,2.3 0 1,0 -4.6,0M520.7,176.8a2.3,2.3 0 1,0 4.6,0a2.3,2.3 0 1,0 -4.6,0M519.0,179.5a2.3,2.3 0 1,0 4.6,0a2.3,2.3 0 1,0 -4.6,0M546.7,175.4a2.3,2.3 0 1,0 4.6,0a2.3,2.3 0 1,0 -4.6,0M532.6,182.1a2.3,2.3 0 1,0 4.6,0a2.3,2.3 0 1,0 -4.6,0M525.1,190.4a2.3,2.3 0 1,0 4.6,0a2.3,2.3 0 1,0 -4.6,0M520.7,194.5a2.3,2.3 0 1,0 4.6,0a2.3,2.3 0 1,0 -4.6,0M528.3,197.2a2.3,2.3 0 1,0 4.6,0a2.3,2.3 0 1,0 -4.6,0M530.8,201.6a2.3,2.3 0 1,0 4.6,0a2.3,2.3 0 1,0 -4.6,0M526.0,203.3a2.3,2.3 0 1,0 4.6,0a2.3,2.3 0 1,0 -4.6,0M534.5,207.4a2.3,2.3 0 1,0 4.6,0a2.3,2.3 0 1,0 -4.6,0M539.3,205.6a2.3,2.3 0 1,0 4.6,0a2.3,2.3 0 1,0 -4.6,0M535.2,212.2a2.3,2.3 0 1,0 4.6,0a2.3,2.3 0 1,0 -4.6,0M541.0,210.9a2.3,2.3 0 1,0 4.6,0a2.3,2.3 0 1,0 -4.6,0M549.9,212.2a2.3,2.3 0 1,0 4.6,0a2.3,2.3 0 1,0 -4.6,0M539.3,220.5a2.3,2.3 0 1,0 4.6,0a2.3,2.3 0 1,0 -4.6,0M542.8,223.3a2.3,2.3 0 1,0 4.6,0a2.3,2.3 0 1,0 -4.6,0M544.6,228.1a2.3,2.3 0 1,0 4.6,0a2.3,2.3 0 1,0 -4.6,0M541.9,222.7a2.3,2.3 0 1,0 4.6,0a2.3,2.3 0 1,0 -4.6,0M544.0,228.0a2.3,2.3 0 1,0 4.6,0a2.3,2.3 0 1,0 -4.6,0M546.8,232.7a2.3,2.3 0 1,0 4.6,0a2.3,2.3 0 1,0 -4.6,0M550.4,234.1a2.3,2.3 0 1,0 4.6,0a2.3,2.3 0 1,0 -4.6,0M556.6,235.6a2.3,2.3 0 1,0 4.6,0a2.3,2.3 0 1,0 -4.6,0M550.7,240.3a2.3,2.3 0 1,0 4.6,0a2.3,2.3 0 1,0 -4.6,0M554.3,247.4a2.3,2.3 0 1,0 4.6,0a2.3,2.3 0 1,0 -4.6,0M553.4,251.8a2.3,2.3 0 1,0 4.6,0a2.3,2.3 0 1,0 -4.6,0M568.9,255.3a2.3,2.3 0 1,0 4.6,0a2.3,2.3 0 1,0 -4.6,0M560.4,261.5a2.3,2.3 0 1,0 4.6,0a2.3,2.3 0 1,0 -4.6,0M574.9,263.8a2.3,2.3 0 1,0 4.6,0a2.3,2.3 0 1,0 -4.6,0M564.9,268.1a2.3,2.3 0 1,0 4.6,0a2.3,2.3 0 1,0 -4.6,0M561.3,273.0a2.3,2.3 0 1,0 4.6,0a2.3,2.3 0 1,0 -4.6,0M565.7,276.6a2.3,2.3 0 1,0 4.6,0a2.3,2.3 0 1,0 -4.6,0M571.9,281.0a2.3,2.3 0 1,0 4.6,0a2.3,2.3 0 1,0 -4.6,0M579.0,283.6a2.3,2.3 0 1,0 4.6,0a2.3,2.3 0 1,0 -4.6,0M578.1,286.3a2.3,2.3 0 1,0 4.6,0a2.3,2.3 0 1,0 -4.6,0M568.4,288.0a2.3,2.3 0 1,0 4.6,0a2.3,2.3 0 1,0 -4.6,0M563.1,292.5a2.3,2.3 0 1,0 4.6,0a2.3,2.3 0 1,0 -4.6,0M572.8,293.9a2.3,2.3 0 1,0 4.6,0a2.3,2.3 0 1,0 -4.6,0M567.5,296.0a2.3,2.3 0 1,0 4.6,0a2.3,2.3 0 1,0 -4.6,0M579.0,299.5a2.3,2.3 0 1,0 4.6,0a2.3,2.3 0 1,0 -4.6,0M583.4,301.0a2.3,2.3 0 1,0 4.6,0a2.3,2.3 0 1,0 -4.6,0M569.3,302.2a2.3,2.3 0 1,0 4.6,0a2.3,2.3 0 1,0 -4.6,0M573.7,306.6a2.3,2.3 0 1,0 4.6,0a2.3,2.3 0 1,0 -4.6,0M575.5,316.3a2.3,2.3 0 1,0 4.6,0a2.3,2.3 0 1,0 -4.6,0M580.8,319.0a2.3,2.3 0 1,0 4.6,0a2.3,2.3 0 1,0 -4.6,0M568.4,301.8a2.3,2.3 0 1,0 4.6,0a2.3,2.3 0 1,0 -4.6,0M571.0,305.3a2.3,2.3 0 1,0 4.6,0a2.3,2.3 0 1,0 -4.6,0M573.7,308.8a2.3,2.3 0 1,0 4.6,0a2.3,2.3 0 1,0 -4.6,0M579.9,300.9a2.3,2.3 0 1,0 4.6,0a2.3,2.3 0 1,0 -4.6,0M583.4,301.8a2.3,2.3 0 1,0 4.6,0a2.3,2.3 0 1,0 -4.6,0M564.9,312.4a2.3,2.3 0 1,0 4.6,0a2.3,2.3 0 1,0 -4.6,0M570.2,315.9a2.3,2.3 0 1,0 4.6,0a2.3,2.3 0 1,0 -4.6,0M574.6,317.7a2.3,2.3 0 1,0 4.6,0a2.3,2.3 0 1,0 -4.6,0M580.8,320.3a2.3,2.3 0 1,0 4.6,0a2.3,2.3 0 1,0 -4.6,0M568.4,323.0a2.3,2.3 0 1,0 4.6,0a2.3,2.3 0 1,0 -4.6,0M573.7,326.5a2.3,2.3 0 1,0 4.6,0a2.3,2.3 0 1,0 -4.6,0M571.9,330.0a2.3,2.3 0 1,0 4.6,0a2.3,2.3 0 1,0 -4.6,0M566.6,331.8a2.3,2.3 0 1,0 4.6,0a2.3,2.3 0 1,0 -4.6,0M572.8,335.3a2.3,2.3 0 1,0 4.6,0a2.3,2.3 0 1,0 -4.6,0M566.6,338.9a2.3,2.3 0 1,0 4.6,0a2.3,2.3 0 1,0 -4.6,0M570.2,342.4a2.3,2.3 0 1,0 4.6,0a2.3,2.3 0 1,0 -4.6,0M573.7,346.8a2.3,2.3 0 1,0 4.6,0a2.3,2.3 0 1,0 -4.6,0M570.2,351.3a2.3,2.3 0 1,0 4.6,0a2.3,2.3 0 1,0 -4.6,0M564.9,346.0a2.3,2.3 0 1,0 4.6,0a2.3,2.3 0 1,0 -4.6,0M561.3,348.6a2.3,2.3 0 1,0 4.6,0a2.3,2.3 0 1,0 -4.6,0M557.8,354.8a2.3,2.3 0 1,0 4.6,0a2.3,2.3 0 1,0 -4.6,0M564.9,356.9a2.3,2.3 0 1,0 4.6,0a2.3,2.3 0 1,0 -4.6,0M579.9,343.8a2.3,2.3 0 1,0 4.6,0a2.3,2.3 0 1,0 -4.6,0M586.1,338.5a2.3,2.3 0 1,0 4.6,0a2.3,2.3 0 1,0 -4.6,0M588.7,341.0a2.3,2.3 0 1,0 4.6,0a2.3,2.3 0 1,0 -4.6,0M579.4,362.4a2.3,2.3 0 1,0 4.6,0a2.3,2.3 0 1,0 -4.6,0M591.0,356.6a2.3,2.3 0 1,0 4.6,0a2.3,2.3 0 1,0 -4.6,0M598.1,355.3a2.3,2.3 0 1,0 4.6,0a2.3,2.3 0 1,0 -4.6,0M597.6,370.2a2.3,2.3 0 1,0 4.6,0a2.3,2.3 0 1,0 -4.6,0M259.4,54.9a2.3,2.3 0 1,0 4.6,0a2.3,2.3 0 1,0 -4.6,0M261.7,56.7a2.3,2.3 0 1,0 4.6,0a2.3,2.3 0 1,0 -4.6,0M265.2,55.5a2.3,2.3 0 1,0 4.6,0a2.3,2.3 0 1,0 -4.6,0M269.9,54.9a2.3,2.3 0 1,0 4.6,0a2.3,2.3 0 1,0 -4.6,0M272.2,56.7a2.3,2.3 0 1,0 4.6,0a2.3,2.3 0 1,0 -4.6,0M275.7,57.8a2.3,2.3 0 1,0 4.6,0a2.3,2.3 0 1,0 -4.6,0M279.2,56.1a2.3,2.3 0 1,0 4.6,0a2.3,2.3 0 1,0 -4.6,0M281.0,59.0a2.3,2.3 0 1,0 4.6,0a2.3,2.3 0 1,0 -4.6,0M282.7,56.7a2.3,2.3 0 1,0 4.6,0a2.3,2.3 0 1,0 -4.6,0M286.2,55.5a2.3,2.3 0 1,0 4.6,0a2.3,2.3 0 1,0 -4.6,0M289.7,56.7a2.3,2.3 0 1,0 4.6,0a2.3,2.3 0 1,0 -4.6,0M275.7,62.5a2.3,2.3 0 1,0 4.6,0a2.3,2.3 0 1,0 -4.6,0M278.1,64.9a2.3,2.3 0 1,0 4.6,0a2.3,2.3 0 1,0 -4.6,0M280.4,68.4a2.3,2.3 0 1,0 4.6,0a2.3,2.3 0 1,0 -4.6,0M282.7,66.0a2.3,2.3 0 1,0 4.6,0a2.3,2.3 0 1,0 -4.6,0M286.2,70.7a2.3,2.3 0 1,0 4.6,0a2.3,2.3 0 1,0 -4.6,0M289.7,68.4a2.3,2.3 0 1,0 4.6,0a2.3,2.3 0 1,0 -4.6,0M288.6,73.0a2.3,2.3 0 1,0 4.6,0a2.3,2.3 0 1,0 -4.6,0M292.1,71.9a2.3,2.3 0 1,0 4.6,0a2.3,2.3 0 1,0 -4.6,0M294.4,75.4a2.3,2.3 0 1,0 4.6,0a2.3,2.3 0 1,0 -4.6,0M296.7,73.0a2.3,2.3 0 1,0 4.6,0a2.3,2.3 0 1,0 -4.6,0M299.1,77.7a2.3,2.3 0 1,0 4.6,0a2.3,2.3 0 1,0 -4.6,0M302.6,80.0a2.3,2.3 0 1,0 4.6,0a2.3,2.3 0 1,0 -4.6,0M304.9,78.9a2.3,2.3 0 1,0 4.6,0a2.3,2.3 0 1,0 -4.6,0M307.3,82.4a2.3,2.3 0 1,0 4.6,0a2.3,2.3 0 1,0 -4.6,0M310.7,83.5a2.3,2.3 0 1,0 4.6,0a2.3,2.3 0 1,0 -4.6,0M313.1,81.2a2.3,2.3 0 1,0 4.6,0a2.3,2.3 0 1,0 -4.6,0" fill="#000"/>
<line x1="57.0" y1="162.5" x2="679.0" y2="162.5" stroke="#c80000" stroke-width="1.6" stroke-opacity="0.68"/>
<line x1="57.0" y1="190.7" x2="679.0" y2="190.7" stroke="#c80000" stroke-width="1.6" stroke-opacity="0.68"/>
<polyline fill="none" stroke="#0000e6" stroke-width="1.15" points="296.9,8.0 305.8,15.1 314.9,22.0 333.1,36.0 369.8,64.3 406.2,92.4 444.0,134.2 468.2,176.3 493.7,232.9 514.6,288.6 551.9,359.0 588.7,428.9 625.6,499.2"/>
<circle cx="296.9" cy="8.0" r="5.9" fill="#0000ff"/>
<circle cx="305.8" cy="15.1" r="5.9" fill="#0000ff"/>
<circle cx="314.9" cy="22.0" r="5.9" fill="#0000ff"/>
<circle cx="333.1" cy="36.0" r="5.9" fill="#0000ff"/>
<circle cx="369.8" cy="64.3" r="5.9" fill="#0000ff"/>
<circle cx="406.2" cy="92.4" r="5.9" fill="#0000ff"/>
<circle cx="444.0" cy="134.2" r="5.9" fill="#0000ff"/>
<circle cx="468.2" cy="176.3" r="5.9" fill="#0000ff"/>
<circle cx="493.7" cy="232.9" r="5.9" fill="#0000ff"/>
<circle cx="514.6" cy="288.6" r="5.9" fill="#0000ff"/>
<circle cx="551.9" cy="359.0" r="5.9" fill="#0000ff"/>
<circle cx="588.7" cy="428.9" r="5.9" fill="#0000ff"/>
<circle cx="625.6" cy="499.2" r="5.9" fill="#0000ff"/>
<text transform="translate(48,16.4) scale(0.88,1)" text-anchor="end" font-size="22.2">0</text>
<text transform="translate(48,86.5) scale(0.88,1)" text-anchor="end" font-size="22.2">1</text>
<text transform="translate(48,156.6) scale(0.88,1)" text-anchor="end" font-size="22.2">2</text>
<text transform="translate(48,226.7) scale(0.88,1)" text-anchor="end" font-size="22.2">3</text>
<text transform="translate(48,296.8) scale(0.88,1)" text-anchor="end" font-size="22.2">4</text>
<text transform="translate(48,366.9) scale(0.88,1)" text-anchor="end" font-size="22.2">5</text>
<text transform="translate(48,437.0) scale(0.88,1)" text-anchor="end" font-size="22.2">6</text>
<text transform="translate(48,507.1) scale(0.88,1)" text-anchor="end" font-size="22.2">7</text>
<text transform="translate(57.0,527.6) scale(0.88,1)" text-anchor="middle" font-size="22.2">1.5</text>
<text transform="translate(181.4,527.6) scale(0.88,1)" text-anchor="middle" font-size="22.2">2</text>
<text transform="translate(305.8,527.6) scale(0.88,1)" text-anchor="middle" font-size="22.2">2.5</text>
<text transform="translate(430.2,527.6) scale(0.88,1)" text-anchor="middle" font-size="22.2">3</text>
<text transform="translate(554.6,527.6) scale(0.88,1)" text-anchor="middle" font-size="22.2">3.5</text>
<text transform="translate(679.0,527.6) scale(0.88,1)" text-anchor="middle" font-size="22.2">4</text>
<text x="235.60" y="561.8" font-size="23.7" textLength="77.61" lengthAdjust="spacingAndGlyphs">S−wave</text>
<text x="324.10" y="561.8" font-size="23.7" textLength="79.31" lengthAdjust="spacingAndGlyphs">velocity</text>
<text x="414.30" y="561.8" font-size="23.7" textLength="64.99" lengthAdjust="spacingAndGlyphs">[km/s]</text>
<text transform="translate(20.2,0) rotate(-90)" x="-311.10" y="0" font-size="23.7" textLength="60.61" lengthAdjust="spacingAndGlyphs">Depth</text>
<text transform="translate(20.2,0) rotate(-90)" x="-239.40" y="0" font-size="23.7" textLength="41.99" lengthAdjust="spacingAndGlyphs">[km]</text>
</svg>
</body></html>
